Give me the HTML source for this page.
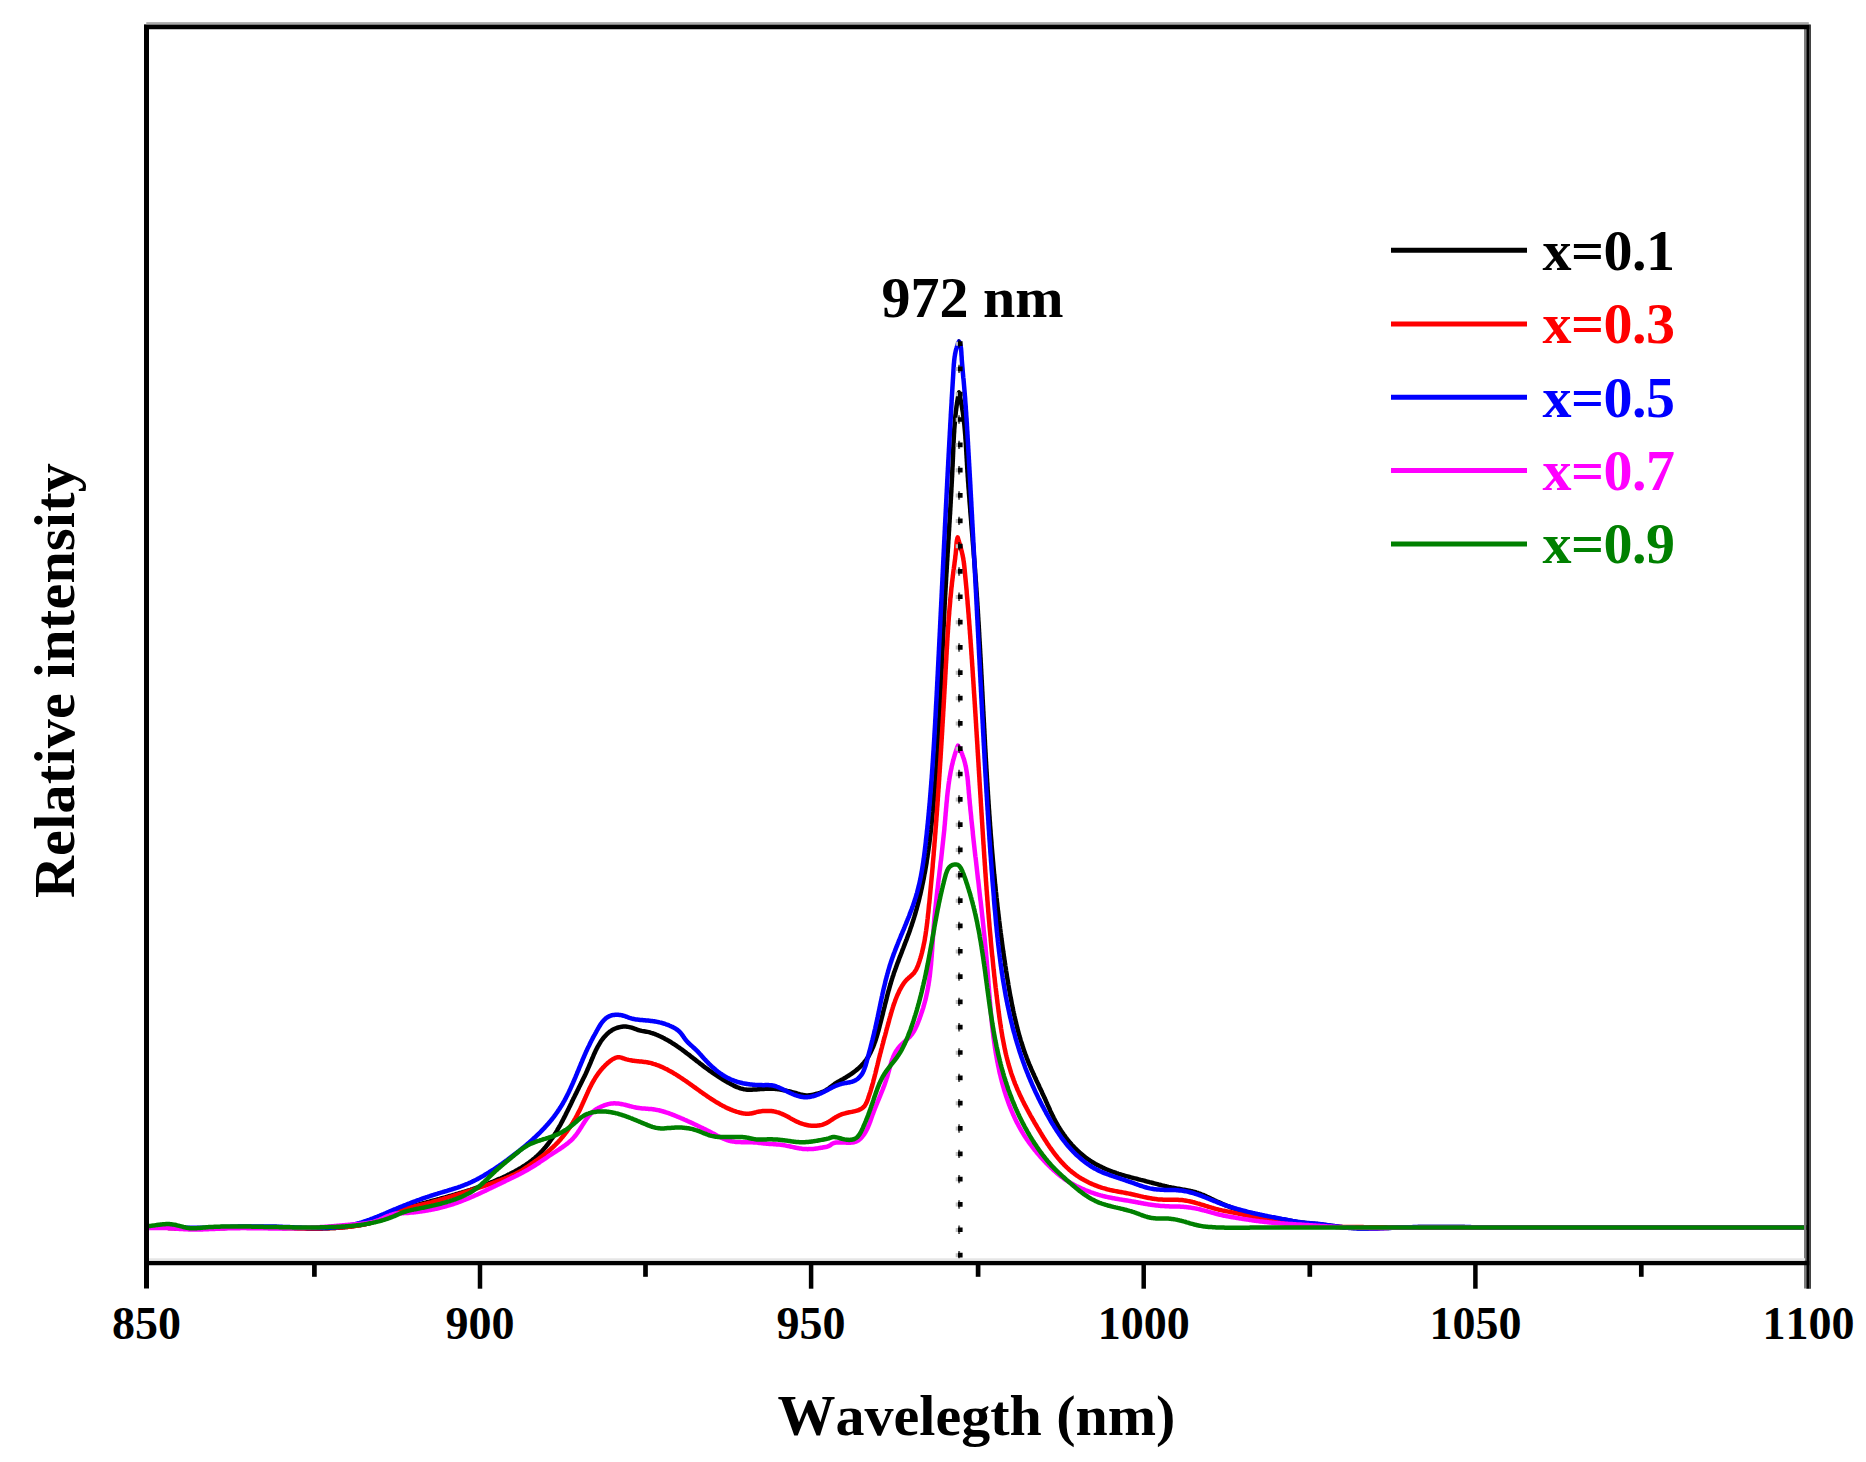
<!DOCTYPE html>
<html lang="en"><head><meta charset="utf-8"><title>Emission spectra</title>
<style>html,body{margin:0;padding:0;background:#fff}body{width:1866px;height:1462px;overflow:hidden}svg{display:block}text{font-family:"Liberation Serif","Times New Roman",serif;font-weight:bold;font-kerning:none}</style></head><body>
<svg width="1866" height="1462" viewBox="0 0 1866 1462">
<rect width="1866" height="1462" fill="#fff"/>
<defs><clipPath id="plot"><rect x="147" y="29" width="1660" height="1232"/></clipPath></defs>
<g clip-path="url(#plot)" fill="none" stroke-width="4.5" stroke-linejoin="round" stroke-linecap="butt">
<path stroke="#000" d="M80.0 1227.7 L81.2 1227.8 L82.4 1227.8 L83.6 1227.8 L84.7 1227.9 L85.9 1227.9 L87.1 1227.9 L88.3 1227.9 L89.5 1227.9 L90.7 1228.0 L91.9 1228.0 L93.1 1228.0 L94.2 1228.0 L95.4 1228.0 L96.6 1228.0 L97.8 1228.0 L99.0 1228.0 L100.2 1228.0 L101.4 1228.0 L102.6 1228.0 L103.7 1228.0 L104.9 1228.0 L106.1 1228.0 L107.3 1228.0 L108.5 1227.9 L109.7 1227.9 L110.9 1227.9 L112.0 1227.9 L113.2 1227.9 L114.4 1227.9 L115.6 1227.8 L116.8 1227.8 L118.0 1227.8 L119.2 1227.8 L120.4 1227.8 L121.5 1227.7 L122.7 1227.7 L123.9 1227.7 L125.1 1227.7 L126.3 1227.7 L127.5 1227.6 L128.7 1227.6 L129.9 1227.6 L131.0 1227.6 L132.2 1227.6 L133.4 1227.6 L134.6 1227.5 L135.8 1227.5 L137.0 1227.5 L138.2 1227.5 L139.4 1227.5 L140.5 1227.5 L141.7 1227.5 L142.9 1227.5 L144.1 1227.5 L145.3 1227.5 L146.5 1227.5 L147.7 1227.5 L148.9 1227.5 L150.0 1227.5 L151.2 1227.5 L152.4 1227.5 L153.6 1227.5 L154.8 1227.5 L156.0 1227.5 L157.2 1227.5 L158.3 1227.6 L159.5 1227.6 L160.7 1227.6 L161.9 1227.6 L163.1 1227.7 L164.3 1227.7 L165.5 1227.8 L166.6 1227.8 L167.8 1227.8 L169.0 1227.9 L170.2 1227.9 L171.4 1228.0 L172.6 1228.1 L173.8 1228.1 L174.9 1228.2 L176.1 1228.2 L177.3 1228.3 L178.5 1228.3 L179.7 1228.4 L180.9 1228.4 L182.1 1228.5 L183.2 1228.5 L184.4 1228.5 L185.6 1228.6 L186.8 1228.6 L188.0 1228.6 L189.2 1228.7 L190.4 1228.7 L191.5 1228.7 L192.7 1228.7 L193.9 1228.7 L195.1 1228.7 L196.3 1228.7 L197.5 1228.7 L198.7 1228.7 L199.8 1228.6 L201.0 1228.6 L202.2 1228.6 L203.4 1228.6 L204.6 1228.5 L205.8 1228.5 L207.0 1228.5 L208.1 1228.4 L209.3 1228.4 L210.5 1228.4 L211.7 1228.3 L212.9 1228.3 L214.1 1228.2 L215.3 1228.2 L216.5 1228.1 L217.6 1228.1 L218.8 1228.1 L220.0 1228.0 L221.2 1228.0 L222.4 1227.9 L223.6 1227.9 L224.8 1227.9 L225.9 1227.8 L227.1 1227.8 L228.3 1227.8 L229.5 1227.7 L230.7 1227.7 L231.9 1227.7 L233.1 1227.6 L234.3 1227.6 L235.4 1227.6 L236.6 1227.6 L237.8 1227.6 L239.0 1227.5 L240.2 1227.5 L241.4 1227.5 L242.6 1227.5 L243.8 1227.5 L244.9 1227.5 L246.1 1227.5 L247.3 1227.5 L248.5 1227.5 L249.7 1227.5 L250.9 1227.5 L252.1 1227.5 L253.2 1227.5 L254.4 1227.5 L255.6 1227.5 L256.8 1227.5 L258.0 1227.5 L259.2 1227.5 L260.4 1227.5 L261.6 1227.5 L262.7 1227.5 L263.9 1227.5 L265.1 1227.5 L266.3 1227.6 L267.5 1227.6 L268.7 1227.6 L269.9 1227.6 L271.1 1227.6 L272.2 1227.6 L273.4 1227.7 L274.6 1227.7 L275.8 1227.7 L277.0 1227.7 L278.2 1227.8 L279.4 1227.8 L280.6 1227.8 L281.7 1227.8 L282.9 1227.9 L284.1 1227.9 L285.3 1227.9 L286.5 1228.0 L287.7 1228.0 L288.9 1228.0 L290.1 1228.0 L291.2 1228.1 L292.4 1228.1 L293.6 1228.1 L294.8 1228.2 L296.0 1228.2 L297.2 1228.2 L298.4 1228.2 L299.6 1228.3 L300.7 1228.3 L301.9 1228.3 L303.1 1228.3 L304.3 1228.3 L305.5 1228.4 L306.7 1228.4 L307.9 1228.4 L309.1 1228.4 L310.2 1228.4 L311.4 1228.4 L312.6 1228.4 L313.8 1228.4 L315.0 1228.4 L316.2 1228.4 L317.4 1228.4 L318.6 1228.4 L319.7 1228.4 L320.9 1228.4 L322.1 1228.4 L323.3 1228.3 L324.5 1228.3 L325.7 1228.3 L326.9 1228.2 L328.0 1228.2 L329.2 1228.2 L330.4 1228.1 L331.6 1228.1 L332.8 1228.0 L334.0 1227.9 L335.1 1227.9 L336.3 1227.8 L337.5 1227.7 L338.7 1227.7 L339.9 1227.6 L341.1 1227.5 L342.2 1227.4 L343.4 1227.3 L344.6 1227.2 L345.8 1227.1 L347.0 1226.9 L348.2 1226.8 L349.3 1226.7 L350.5 1226.5 L351.7 1226.4 L352.9 1226.2 L354.1 1226.1 L355.2 1225.9 L356.4 1225.7 L357.6 1225.6 L358.8 1225.4 L360.0 1225.2 L361.1 1225.0 L362.3 1224.7 L363.5 1224.5 L364.6 1224.3 L365.8 1224.0 L367.0 1223.7 L368.1 1223.5 L369.3 1223.2 L370.4 1222.9 L371.5 1222.5 L372.7 1222.2 L373.8 1221.8 L374.9 1221.4 L376.0 1221.1 L377.2 1220.6 L378.3 1220.2 L379.4 1219.8 L380.5 1219.3 L381.5 1218.8 L382.6 1218.4 L383.7 1217.9 L384.8 1217.4 L385.9 1216.9 L386.9 1216.4 L388.0 1215.8 L389.1 1215.3 L390.2 1214.8 L391.2 1214.3 L392.3 1213.8 L393.4 1213.3 L394.5 1212.8 L395.5 1212.3 L396.6 1211.8 L397.7 1211.4 L398.8 1210.9 L399.9 1210.4 L401.0 1210.0 L402.1 1209.6 L403.2 1209.2 L404.3 1208.8 L405.4 1208.4 L406.6 1208.1 L407.7 1207.7 L408.8 1207.3 L409.9 1207.0 L411.1 1206.7 L412.2 1206.3 L413.3 1206.0 L414.5 1205.7 L415.6 1205.4 L416.8 1205.1 L417.9 1204.8 L419.1 1204.4 L420.2 1204.1 L421.3 1203.8 L422.5 1203.5 L423.6 1203.2 L424.8 1202.9 L425.9 1202.6 L427.1 1202.3 L428.2 1202.0 L429.4 1201.7 L430.5 1201.3 L431.7 1201.0 L432.8 1200.7 L433.9 1200.4 L435.1 1200.1 L436.2 1199.8 L437.4 1199.5 L438.5 1199.2 L439.7 1198.9 L440.8 1198.5 L442.0 1198.2 L443.1 1197.9 L444.3 1197.6 L445.4 1197.3 L446.6 1197.0 L447.7 1196.6 L448.9 1196.3 L450.0 1196.0 L451.1 1195.7 L452.3 1195.3 L453.4 1195.0 L454.6 1194.7 L455.7 1194.3 L456.9 1194.0 L458.0 1193.7 L459.1 1193.3 L460.3 1193.0 L461.4 1192.7 L462.5 1192.3 L463.7 1192.0 L464.8 1191.6 L466.0 1191.3 L467.1 1190.9 L468.2 1190.5 L469.3 1190.2 L470.5 1189.8 L471.6 1189.4 L472.7 1189.1 L473.9 1188.7 L475.0 1188.3 L476.1 1187.9 L477.2 1187.5 L478.3 1187.2 L479.5 1186.8 L480.6 1186.4 L481.7 1186.0 L482.8 1185.6 L483.9 1185.2 L485.0 1184.7 L486.1 1184.3 L487.3 1183.9 L488.4 1183.5 L489.5 1183.0 L490.6 1182.6 L491.7 1182.2 L492.8 1181.7 L493.9 1181.3 L495.0 1180.8 L496.0 1180.4 L497.1 1179.9 L498.2 1179.4 L499.3 1178.9 L500.4 1178.5 L501.5 1178.0 L502.6 1177.5 L503.6 1177.0 L504.7 1176.5 L505.8 1176.0 L506.8 1175.5 L507.9 1174.9 L509.0 1174.4 L510.0 1173.9 L511.1 1173.3 L512.2 1172.8 L513.2 1172.2 L514.3 1171.7 L515.3 1171.1 L516.3 1170.5 L517.4 1170.0 L518.4 1169.4 L519.4 1168.8 L520.5 1168.2 L521.5 1167.6 L522.5 1166.9 L523.5 1166.3 L524.5 1165.7 L525.5 1165.0 L526.5 1164.3 L527.5 1163.7 L528.4 1163.0 L529.4 1162.3 L530.3 1161.6 L531.3 1160.9 L532.2 1160.2 L533.1 1159.4 L534.0 1158.7 L535.0 1157.9 L535.8 1157.1 L536.7 1156.4 L537.6 1155.6 L538.4 1154.7 L539.3 1153.9 L540.1 1153.1 L541.0 1152.2 L541.8 1151.4 L542.6 1150.5 L543.4 1149.6 L544.1 1148.7 L544.9 1147.8 L545.7 1146.9 L546.4 1146.0 L547.2 1145.1 L547.9 1144.1 L548.6 1143.2 L549.3 1142.2 L550.0 1141.3 L550.7 1140.3 L551.4 1139.3 L552.1 1138.3 L552.8 1137.4 L553.4 1136.4 L554.1 1135.4 L554.7 1134.4 L555.4 1133.3 L556.0 1132.3 L556.6 1131.3 L557.2 1130.3 L557.8 1129.2 L558.4 1128.2 L559.0 1127.2 L559.6 1126.1 L560.2 1125.1 L560.8 1124.0 L561.3 1123.0 L561.9 1121.9 L562.4 1120.9 L563.0 1119.8 L563.5 1118.8 L564.1 1117.7 L564.6 1116.7 L565.2 1115.6 L565.7 1114.6 L566.2 1113.5 L566.7 1112.4 L567.3 1111.4 L567.8 1110.3 L568.3 1109.2 L568.8 1108.2 L569.3 1107.1 L569.9 1106.1 L570.4 1105.0 L570.9 1103.9 L571.4 1102.9 L571.9 1101.8 L572.4 1100.7 L572.9 1099.7 L573.4 1098.6 L574.0 1097.5 L574.5 1096.5 L575.0 1095.4 L575.5 1094.4 L576.1 1093.3 L576.6 1092.2 L577.1 1091.2 L577.6 1090.1 L578.2 1089.1 L578.7 1088.0 L579.2 1086.9 L579.8 1085.9 L580.3 1084.8 L580.8 1083.8 L581.3 1082.7 L581.9 1081.6 L582.4 1080.6 L582.9 1079.5 L583.4 1078.4 L583.9 1077.4 L584.5 1076.3 L585.0 1075.2 L585.5 1074.2 L586.0 1073.1 L586.5 1072.0 L587.0 1070.9 L587.5 1069.8 L587.9 1068.7 L588.4 1067.6 L588.9 1066.5 L589.4 1065.4 L589.8 1064.3 L590.3 1063.2 L590.8 1062.1 L591.2 1061.0 L591.7 1059.9 L592.1 1058.8 L592.6 1057.7 L593.1 1056.6 L593.5 1055.5 L594.0 1054.4 L594.5 1053.3 L595.0 1052.2 L595.5 1051.1 L596.0 1050.1 L596.5 1049.0 L597.1 1047.9 L597.6 1046.9 L598.2 1045.9 L598.8 1044.8 L599.4 1043.8 L600.0 1042.8 L600.6 1041.8 L601.3 1040.8 L602.0 1039.8 L602.7 1038.9 L603.4 1038.0 L604.2 1037.1 L605.0 1036.2 L605.8 1035.3 L606.6 1034.5 L607.4 1033.7 L608.3 1032.9 L609.2 1032.1 L610.2 1031.4 L611.1 1030.8 L612.1 1030.1 L613.1 1029.6 L614.2 1029.0 L615.3 1028.5 L616.4 1028.1 L617.5 1027.7 L618.3 1027.5 L619.1 1027.3 L619.8 1027.1 L620.6 1026.9 L621.4 1026.8 L622.2 1026.7 L623.1 1026.6 L623.9 1026.6 L624.7 1026.6 L625.9 1026.6 L627.0 1026.7 L628.2 1026.9 L629.3 1027.1 L630.5 1027.4 L631.6 1027.7 L632.7 1028.0 L633.8 1028.4 L634.9 1028.8 L636.0 1029.2 L637.1 1029.6 L638.3 1030.0 L639.4 1030.3 L640.5 1030.6 L641.7 1030.9 L642.8 1031.1 L644.0 1031.3 L645.2 1031.5 L646.4 1031.7 L647.5 1031.9 L648.7 1032.1 L649.8 1032.4 L651.0 1032.8 L652.1 1033.1 L653.3 1033.5 L654.4 1033.9 L655.5 1034.3 L656.6 1034.8 L657.7 1035.2 L658.8 1035.7 L659.9 1036.2 L661.0 1036.7 L662.0 1037.2 L663.1 1037.8 L664.1 1038.3 L665.2 1038.9 L666.2 1039.4 L667.2 1040.0 L668.3 1040.6 L669.3 1041.2 L670.3 1041.8 L671.3 1042.4 L672.3 1043.1 L673.3 1043.7 L674.3 1044.3 L675.3 1045.0 L676.3 1045.6 L677.2 1046.3 L678.2 1047.0 L679.2 1047.7 L680.2 1048.4 L681.1 1049.0 L682.1 1049.7 L683.0 1050.4 L684.0 1051.1 L684.9 1051.9 L685.9 1052.6 L686.8 1053.3 L687.8 1054.0 L688.7 1054.7 L689.7 1055.4 L690.6 1056.2 L691.5 1056.9 L692.5 1057.6 L693.4 1058.4 L694.4 1059.1 L695.3 1059.8 L696.2 1060.6 L697.2 1061.3 L698.1 1062.0 L699.1 1062.7 L700.0 1063.5 L700.9 1064.2 L701.9 1064.9 L702.8 1065.6 L703.8 1066.4 L704.7 1067.1 L705.7 1067.8 L706.6 1068.5 L707.6 1069.2 L708.6 1069.9 L709.5 1070.6 L710.5 1071.3 L711.5 1071.9 L712.4 1072.6 L713.4 1073.3 L714.4 1074.0 L715.4 1074.6 L716.3 1075.3 L717.3 1075.9 L718.3 1076.6 L719.3 1077.2 L720.3 1077.9 L721.3 1078.5 L722.3 1079.1 L723.3 1079.8 L724.4 1080.4 L725.4 1081.0 L726.4 1081.6 L727.4 1082.2 L728.5 1082.8 L729.5 1083.3 L730.6 1083.9 L731.6 1084.5 L732.7 1085.0 L733.7 1085.6 L734.8 1086.1 L735.9 1086.6 L737.0 1087.1 L738.1 1087.5 L739.2 1087.9 L740.3 1088.3 L741.4 1088.6 L742.5 1088.9 L743.6 1089.2 L744.8 1089.4 L746.0 1089.6 L747.1 1089.7 L748.3 1089.7 L749.5 1089.8 L750.7 1089.7 L751.9 1089.7 L753.1 1089.6 L754.3 1089.6 L755.5 1089.5 L756.7 1089.4 L757.9 1089.3 L759.1 1089.2 L760.3 1089.1 L761.5 1089.1 L762.6 1089.0 L763.8 1088.9 L765.0 1088.8 L766.2 1088.8 L767.4 1088.7 L768.6 1088.7 L769.7 1088.7 L770.9 1088.7 L772.1 1088.7 L773.3 1088.8 L774.4 1088.8 L775.6 1088.9 L776.8 1089.1 L778.0 1089.2 L779.1 1089.4 L780.3 1089.6 L781.5 1089.8 L782.7 1090.0 L783.8 1090.2 L785.0 1090.4 L786.1 1090.7 L787.3 1091.0 L788.5 1091.2 L789.6 1091.5 L790.8 1091.8 L792.0 1092.1 L793.1 1092.4 L794.3 1092.7 L795.4 1093.0 L796.6 1093.3 L797.7 1093.7 L798.9 1094.0 L800.0 1094.3 L801.2 1094.6 L802.3 1094.8 L803.4 1095.1 L804.6 1095.2 L805.8 1095.4 L806.9 1095.4 L808.1 1095.4 L809.2 1095.3 L810.4 1095.2 L811.6 1095.0 L812.8 1094.8 L813.6 1094.6 L814.3 1094.4 L815.1 1094.2 L815.9 1094.0 L816.7 1093.8 L817.5 1093.6 L818.3 1093.4 L819.0 1093.1 L819.8 1092.9 L820.6 1092.6 L821.3 1092.3 L822.4 1091.9 L823.5 1091.5 L824.6 1090.9 L825.6 1090.4 L826.6 1089.8 L827.6 1089.2 L828.6 1088.5 L829.5 1087.8 L830.4 1087.1 L831.4 1086.4 L832.3 1085.7 L833.2 1085.0 L834.2 1084.3 L835.1 1083.6 L836.1 1083.0 L837.1 1082.4 L838.1 1081.8 L839.2 1081.2 L840.2 1080.6 L841.2 1080.0 L842.3 1079.4 L843.3 1078.9 L844.3 1078.3 L845.4 1077.7 L846.4 1077.0 L847.4 1076.4 L848.4 1075.8 L849.4 1075.1 L850.4 1074.5 L851.4 1073.8 L852.4 1073.1 L853.4 1072.4 L854.3 1071.7 L855.3 1071.0 L856.2 1070.3 L857.1 1069.5 L858.0 1068.7 L858.9 1068.0 L859.7 1067.2 L860.6 1066.4 L861.4 1065.5 L862.2 1064.7 L863.0 1063.8 L863.8 1062.9 L864.5 1062.0 L865.2 1061.1 L865.9 1060.2 L866.6 1059.2 L867.2 1058.2 L867.9 1057.3 L868.5 1056.3 L869.1 1055.2 L869.6 1054.2 L870.2 1053.2 L870.7 1052.1 L871.2 1051.0 L871.7 1050.0 L872.2 1048.9 L872.7 1047.8 L873.2 1046.7 L873.5 1045.9 L873.8 1045.2 L874.1 1044.4 L874.3 1043.7 L874.6 1042.9 L874.9 1042.2 L875.2 1041.4 L875.4 1040.6 L875.7 1039.9 L875.9 1039.1 L876.2 1038.3 L876.4 1037.5 L876.7 1036.8 L876.9 1036.0 L877.1 1035.2 L877.4 1034.4 L877.6 1033.6 L877.8 1032.9 L878.0 1032.1 L878.3 1031.3 L878.5 1030.5 L878.7 1029.7 L878.9 1028.9 L879.1 1028.2 L879.3 1027.4 L879.5 1026.6 L879.7 1025.8 L879.9 1025.0 L880.1 1024.3 L880.3 1023.5 L880.5 1022.7 L880.7 1021.9 L880.9 1021.1 L881.1 1020.4 L881.4 1019.2 L881.7 1018.0 L882.0 1016.9 L882.3 1015.7 L882.6 1014.6 L882.9 1013.4 L883.1 1012.3 L883.4 1011.1 L883.7 1010.0 L884.0 1008.8 L884.3 1007.7 L884.6 1006.5 L884.8 1005.4 L885.1 1004.2 L885.4 1003.1 L885.7 1001.9 L886.0 1000.8 L886.3 999.7 L886.6 998.5 L886.8 997.4 L887.1 996.3 L887.4 995.1 L887.7 994.0 L888.0 992.9 L888.3 991.7 L888.6 990.6 L889.0 989.5 L889.3 988.3 L889.6 987.2 L889.9 986.1 L890.2 985.0 L890.6 983.8 L890.9 982.7 L891.2 981.6 L891.6 980.5 L891.9 979.3 L892.3 978.2 L892.6 977.1 L893.0 976.0 L893.4 974.9 L893.7 973.7 L894.1 972.6 L894.5 971.5 L894.9 970.4 L895.3 969.3 L895.7 968.2 L896.1 967.0 L896.5 965.9 L896.9 964.8 L897.3 963.7 L897.7 962.6 L898.2 961.5 L898.6 960.3 L899.0 959.2 L899.4 958.1 L899.8 957.0 L900.3 955.9 L900.7 954.8 L901.1 953.7 L901.6 952.6 L902.0 951.4 L902.4 950.3 L902.8 949.2 L903.3 948.1 L903.7 947.0 L904.1 945.9 L904.6 944.7 L905.0 943.6 L905.4 942.5 L905.8 941.4 L906.3 940.3 L906.7 939.2 L907.1 938.0 L907.5 936.9 L907.9 935.8 L908.3 934.7 L908.8 933.6 L909.2 932.4 L909.6 931.3 L910.0 930.2 L910.3 929.1 L910.7 927.9 L911.1 926.8 L911.5 925.7 L911.9 924.5 L912.2 923.4 L912.6 922.3 L913.0 921.2 L913.3 920.0 L913.7 918.9 L914.0 917.8 L914.4 916.6 L914.7 915.5 L915.1 914.3 L915.4 913.2 L915.7 912.1 L916.0 910.9 L916.4 909.8 L916.7 908.6 L917.0 907.5 L917.3 906.4 L917.6 905.2 L917.9 904.1 L918.2 902.9 L918.5 901.8 L918.8 900.6 L919.1 899.5 L919.4 898.3 L919.6 897.2 L919.9 896.0 L920.2 894.9 L920.5 893.7 L920.7 892.6 L921.0 891.4 L921.2 890.3 L921.5 889.1 L921.8 888.0 L922.0 886.8 L922.2 885.6 L922.5 884.5 L922.7 883.3 L923.0 882.2 L923.2 881.0 L923.4 879.9 L923.7 878.7 L923.9 877.5 L924.1 876.4 L924.3 875.2 L924.5 874.0 L924.8 872.9 L925.0 871.7 L925.2 870.6 L925.4 869.4 L925.6 868.2 L925.8 867.1 L926.0 865.9 L926.2 864.7 L926.4 863.6 L926.6 862.4 L926.7 861.2 L926.9 860.0 L927.1 858.9 L927.3 857.7 L927.5 856.5 L927.6 855.4 L927.8 854.2 L928.0 853.0 L928.1 851.9 L928.3 850.7 L928.5 849.5 L928.6 848.3 L928.8 847.2 L929.0 846.0 L929.1 844.8 L929.3 843.6 L929.4 842.5 L929.6 841.3 L929.7 840.1 L929.9 838.9 L930.0 837.8 L930.1 836.6 L930.3 835.4 L930.4 834.2 L930.6 833.0 L930.7 831.9 L930.8 830.7 L931.0 829.5 L931.1 828.3 L931.2 827.1 L931.3 826.0 L931.5 824.8 L931.6 823.6 L931.7 822.4 L931.8 821.2 L932.0 820.1 L932.1 818.9 L932.2 817.7 L932.3 816.5 L932.4 815.3 L932.5 814.2 L932.6 813.0 L932.8 811.8 L932.9 810.6 L933.0 809.4 L933.1 808.3 L933.2 807.1 L933.3 805.9 L933.4 804.7 L933.5 803.5 L933.6 802.3 L933.7 801.2 L933.8 800.0 L933.9 798.8 L934.0 797.6 L934.1 796.4 L934.2 795.2 L934.3 794.1 L934.4 792.9 L934.5 791.7 L934.6 790.5 L934.7 789.3 L934.8 788.1 L934.9 787.0 L935.0 785.8 L935.1 784.6 L935.2 783.4 L935.3 782.2 L935.4 781.0 L935.5 779.9 L935.5 778.7 L935.6 777.5 L935.7 776.3 L935.8 775.1 L935.9 773.9 L936.0 772.8 L936.1 771.6 L936.1 770.4 L936.2 769.2 L936.3 768.0 L936.4 766.8 L936.5 765.7 L936.6 764.5 L936.6 763.3 L936.7 762.1 L936.8 760.9 L936.9 759.7 L937.0 758.5 L937.0 757.4 L937.1 756.2 L937.2 755.0 L937.3 753.8 L937.3 752.6 L937.4 751.4 L937.5 750.2 L937.6 749.1 L937.6 747.9 L937.7 746.7 L937.8 745.5 L937.8 744.3 L937.9 743.1 L938.0 742.0 L938.1 740.8 L938.1 739.6 L938.2 738.4 L938.3 737.2 L938.3 736.0 L938.4 734.8 L938.5 733.7 L938.5 732.5 L938.6 731.3 L938.7 730.1 L938.7 728.9 L938.8 727.7 L938.9 726.5 L938.9 725.4 L939.0 724.2 L939.1 723.0 L939.1 721.8 L939.2 720.6 L939.2 719.4 L939.3 718.2 L939.4 717.0 L939.4 715.9 L939.5 714.7 L939.6 713.5 L939.6 712.3 L939.7 711.1 L939.7 709.9 L939.8 708.7 L939.9 707.6 L939.9 706.4 L940.0 705.2 L940.0 704.0 L940.1 702.8 L940.1 701.6 L940.2 700.4 L940.3 699.3 L940.3 698.1 L940.4 696.9 L940.4 695.7 L940.5 694.5 L940.5 693.3 L940.6 692.1 L940.7 690.9 L940.7 689.8 L940.8 688.6 L940.8 687.4 L940.9 686.2 L940.9 685.0 L941.0 683.8 L941.0 682.6 L941.1 681.5 L941.2 680.3 L941.2 679.1 L941.3 677.9 L941.3 676.7 L941.4 675.5 L941.4 674.3 L941.5 673.2 L941.5 672.0 L941.6 670.8 L941.6 669.6 L941.7 668.4 L941.8 667.2 L941.8 666.0 L941.9 664.8 L941.9 663.7 L942.0 662.5 L942.0 661.3 L942.1 660.1 L942.1 658.9 L942.2 657.7 L942.2 656.5 L942.3 655.4 L942.3 654.2 L942.4 653.0 L942.4 651.8 L942.5 650.6 L942.6 649.4 L942.6 648.2 L942.7 647.0 L942.7 645.9 L942.8 644.7 L942.8 643.5 L942.9 642.3 L942.9 641.1 L943.0 639.9 L943.0 638.7 L943.1 637.6 L943.2 636.4 L943.2 635.2 L943.3 634.0 L943.3 632.8 L943.4 631.6 L943.4 630.4 L943.5 629.3 L943.5 628.1 L943.6 626.9 L943.7 625.7 L943.7 624.5 L943.8 623.3 L943.8 622.1 L943.9 621.0 L943.9 619.8 L944.0 618.6 L944.1 617.4 L944.1 616.2 L944.2 615.0 L944.2 613.8 L944.3 612.7 L944.3 611.5 L944.4 610.3 L944.5 609.1 L944.5 607.9 L944.6 606.7 L944.6 605.5 L944.7 604.4 L944.8 603.2 L944.8 602.0 L944.9 600.8 L945.0 599.6 L945.0 598.4 L945.1 597.2 L945.1 596.1 L945.2 594.9 L945.3 593.7 L945.3 592.5 L945.4 591.3 L945.5 590.1 L945.5 589.0 L945.6 587.8 L945.7 586.6 L945.7 585.4 L945.8 584.2 L945.9 583.0 L945.9 581.8 L946.0 580.7 L946.1 579.5 L946.1 578.3 L946.2 577.1 L946.3 575.9 L946.3 574.7 L946.4 573.6 L946.5 572.4 L946.6 571.2 L946.6 570.0 L946.7 568.8 L946.8 567.6 L946.8 566.4 L946.9 565.3 L947.0 564.1 L947.0 562.9 L947.1 561.7 L947.2 560.5 L947.3 559.3 L947.3 558.2 L947.4 557.0 L947.5 555.8 L947.5 554.6 L947.6 553.4 L947.7 552.2 L947.8 551.1 L947.8 549.9 L947.9 548.7 L948.0 547.5 L948.1 546.3 L948.1 545.1 L948.2 544.0 L948.3 542.8 L948.3 541.6 L948.4 540.4 L948.5 539.2 L948.6 538.0 L948.6 536.8 L948.7 535.7 L948.8 534.5 L948.8 533.3 L948.9 532.1 L949.0 530.9 L949.1 529.7 L949.1 528.6 L949.2 527.4 L949.3 526.2 L949.3 525.0 L949.4 523.8 L949.5 522.6 L949.6 521.5 L949.6 520.3 L949.7 519.1 L949.8 517.9 L949.8 516.7 L949.9 515.5 L950.0 514.3 L950.1 513.2 L950.1 512.0 L950.2 510.8 L950.3 509.6 L950.3 508.4 L950.4 507.2 L950.5 506.1 L950.5 504.9 L950.6 503.7 L950.7 502.5 L950.7 501.3 L950.8 500.1 L950.9 498.9 L950.9 497.8 L951.0 496.6 L951.1 495.4 L951.1 494.2 L951.2 493.0 L951.3 491.8 L951.3 490.6 L951.4 489.5 L951.4 488.3 L951.5 487.1 L951.6 485.9 L951.6 484.7 L951.7 483.5 L951.8 482.3 L951.8 481.2 L951.9 480.0 L951.9 478.8 L952.0 477.6 L952.1 476.4 L952.1 475.2 L952.2 474.0 L952.2 472.9 L952.3 471.7 L952.3 470.5 L952.4 469.3 L952.4 468.1 L952.5 466.9 L952.6 465.7 L952.6 464.5 L952.7 463.4 L952.7 462.2 L952.8 461.0 L952.8 459.8 L952.9 458.6 L952.9 457.4 L953.0 456.2 L953.0 455.0 L953.1 453.9 L953.1 452.7 L953.2 451.5 L953.2 450.3 L953.3 449.1 L953.3 447.9 L953.4 446.7 L953.4 445.5 L953.5 444.4 L953.5 443.2 L953.6 442.0 L953.6 440.8 L953.7 439.6 L953.8 438.4 L953.8 437.2 L953.9 436.0 L953.9 434.9 L954.0 433.7 L954.1 432.5 L954.2 431.3 L954.2 430.1 L954.3 428.9 L954.4 427.8 L954.5 426.6 L954.6 425.4 L954.7 424.2 L954.8 423.0 L954.9 421.8 L955.0 420.7 L955.1 419.5 L955.2 418.3 L955.3 417.1 L955.4 415.9 L955.5 414.8 L955.7 413.6 L955.8 412.4 L955.9 411.2 L956.1 410.1 L956.2 408.9 L956.4 407.7 L956.5 406.5 L956.7 405.4 L956.9 404.2 L957.0 403.0 L957.2 401.8 L957.4 400.7 L957.6 399.5 L957.8 398.3 L958.0 397.2 L958.2 396.0 L958.4 394.8 L958.7 393.7 L958.9 392.5 L959.2 393.6 L959.5 394.7 L959.7 395.8 L960.0 397.0 L960.2 398.1 L960.5 399.2 L960.7 400.3 L960.9 401.4 L961.1 402.6 L961.4 403.7 L961.6 404.8 L961.8 405.9 L962.0 407.1 L962.2 408.2 L962.3 409.3 L962.5 410.5 L962.7 411.6 L962.9 412.7 L963.0 413.9 L963.2 415.0 L963.3 416.1 L963.5 417.3 L963.6 418.4 L963.8 419.5 L963.9 420.7 L964.0 421.8 L964.1 422.9 L964.3 424.1 L964.4 425.2 L964.5 426.4 L964.6 427.5 L964.7 428.6 L964.8 429.8 L964.9 430.9 L965.0 432.1 L965.1 433.2 L965.2 434.4 L965.3 435.5 L965.4 436.6 L965.4 437.8 L965.5 438.9 L965.6 440.1 L965.7 441.2 L965.8 442.4 L965.8 443.5 L965.9 444.7 L966.0 445.8 L966.0 447.0 L966.1 448.1 L966.2 449.2 L966.2 450.4 L966.3 451.5 L966.4 452.7 L966.4 453.8 L966.5 455.0 L966.6 456.1 L966.6 457.3 L966.7 458.4 L966.8 459.6 L966.8 460.7 L966.9 461.9 L967.0 463.0 L967.0 464.2 L967.1 465.3 L967.2 466.5 L967.2 467.6 L967.3 468.7 L967.4 469.9 L967.4 471.0 L967.5 472.2 L967.6 473.3 L967.7 474.5 L967.7 475.6 L967.8 476.8 L967.9 477.9 L968.0 479.1 L968.0 480.2 L968.1 481.4 L968.2 482.5 L968.3 483.6 L968.4 484.8 L968.4 485.9 L968.5 487.1 L968.6 488.2 L968.7 489.4 L968.8 490.5 L968.9 491.6 L968.9 492.8 L969.0 493.9 L969.1 495.1 L969.2 496.2 L969.3 497.4 L969.4 498.5 L969.5 499.7 L969.5 500.8 L969.6 501.9 L969.7 503.1 L969.8 504.2 L969.9 505.4 L970.0 506.5 L970.1 507.7 L970.2 508.8 L970.3 509.9 L970.3 511.1 L970.4 512.2 L970.5 513.4 L970.6 514.5 L970.7 515.6 L970.8 516.8 L970.9 517.9 L971.0 519.1 L971.1 520.2 L971.2 521.4 L971.3 522.5 L971.3 523.6 L971.4 524.8 L971.5 525.9 L971.6 527.1 L971.7 528.2 L971.8 529.4 L971.9 530.5 L972.0 531.6 L972.1 532.8 L972.2 533.9 L972.3 535.1 L972.4 536.2 L972.5 537.3 L972.6 538.5 L972.6 539.6 L972.7 540.8 L972.8 541.9 L972.9 543.1 L973.0 544.2 L973.1 545.3 L973.2 546.5 L973.3 547.6 L973.4 548.8 L973.5 549.9 L973.6 551.0 L973.7 552.2 L973.7 553.3 L973.8 554.5 L973.9 555.6 L974.0 556.8 L974.1 557.9 L974.2 559.0 L974.3 560.2 L974.4 561.3 L974.5 562.5 L974.5 563.6 L974.6 564.7 L974.7 565.9 L974.8 567.0 L974.9 568.2 L975.0 569.3 L975.1 570.5 L975.1 571.6 L975.2 572.7 L975.3 573.9 L975.4 575.0 L975.5 576.2 L975.6 577.3 L975.6 578.4 L975.7 579.6 L975.8 580.7 L975.9 581.9 L976.0 583.0 L976.1 584.2 L976.1 585.3 L976.2 586.4 L976.3 587.6 L976.4 588.7 L976.4 589.9 L976.5 591.0 L976.6 592.2 L976.7 593.3 L976.8 594.4 L976.8 595.6 L976.9 596.7 L977.0 597.9 L977.1 599.0 L977.1 600.2 L977.2 601.3 L977.3 602.5 L977.4 603.6 L977.4 604.7 L977.5 605.9 L977.6 607.0 L977.6 608.2 L977.7 609.3 L977.8 610.5 L977.9 611.6 L977.9 612.7 L978.0 613.9 L978.1 615.0 L978.1 616.2 L978.2 617.3 L978.3 618.5 L978.3 619.6 L978.4 620.8 L978.5 621.9 L978.6 623.0 L978.6 624.2 L978.7 625.3 L978.8 626.5 L978.8 627.6 L978.9 628.8 L979.0 629.9 L979.0 631.1 L979.1 632.2 L979.2 633.3 L979.2 634.5 L979.3 635.6 L979.3 636.8 L979.4 637.9 L979.5 639.1 L979.5 640.2 L979.6 641.4 L979.7 642.5 L979.7 643.6 L979.8 644.8 L979.9 645.9 L979.9 647.1 L980.0 648.2 L980.1 649.4 L980.1 650.5 L980.2 651.7 L980.2 652.8 L980.3 653.9 L980.4 655.1 L980.4 656.2 L980.5 657.4 L980.6 658.5 L980.6 659.7 L980.7 660.8 L980.7 662.0 L980.8 663.1 L980.9 664.2 L980.9 665.4 L981.0 666.5 L981.0 667.7 L981.1 668.8 L981.2 670.0 L981.2 671.1 L981.3 672.3 L981.3 673.4 L981.4 674.6 L981.5 675.7 L981.5 676.8 L981.6 678.0 L981.6 679.1 L981.7 680.3 L981.8 681.4 L981.8 682.6 L981.9 683.7 L981.9 684.9 L982.0 686.0 L982.1 687.2 L982.1 688.3 L982.2 689.4 L982.2 690.6 L982.3 691.7 L982.4 692.9 L982.4 694.0 L982.5 695.2 L982.5 696.3 L982.6 697.5 L982.6 698.6 L982.7 699.7 L982.8 700.9 L982.8 702.0 L982.9 703.2 L982.9 704.3 L983.0 705.5 L983.1 706.6 L983.1 707.8 L983.2 708.9 L983.2 710.1 L983.3 711.2 L983.4 712.3 L983.4 713.5 L983.5 714.6 L983.5 715.8 L983.6 716.9 L983.7 718.1 L983.7 719.2 L983.8 720.4 L983.8 721.5 L983.9 722.7 L984.0 723.8 L984.0 724.9 L984.1 726.1 L984.1 727.2 L984.2 728.4 L984.3 729.5 L984.3 730.7 L984.4 731.8 L984.4 733.0 L984.5 734.1 L984.6 735.3 L984.6 736.4 L984.7 737.5 L984.7 738.7 L984.8 739.8 L984.9 741.0 L984.9 742.1 L985.0 743.3 L985.0 744.4 L985.1 745.6 L985.2 746.7 L985.2 747.8 L985.3 749.0 L985.4 750.1 L985.4 751.3 L985.5 752.4 L985.6 753.6 L985.6 754.7 L985.7 755.9 L985.7 757.0 L985.8 758.2 L985.9 759.3 L985.9 760.4 L986.0 761.6 L986.1 762.7 L986.1 763.9 L986.2 765.0 L986.3 766.2 L986.3 767.3 L986.4 768.5 L986.5 769.6 L986.5 770.7 L986.6 771.9 L986.7 773.0 L986.7 774.2 L986.8 775.3 L986.9 776.5 L986.9 777.6 L987.0 778.8 L987.1 779.9 L987.1 781.0 L987.2 782.2 L987.3 783.3 L987.4 784.5 L987.4 785.6 L987.5 786.8 L987.6 787.9 L987.6 789.1 L987.7 790.2 L987.8 791.3 L987.9 792.5 L987.9 793.6 L988.0 794.8 L988.1 795.9 L988.2 797.1 L988.2 798.2 L988.3 799.3 L988.4 800.5 L988.5 801.6 L988.5 802.8 L988.6 803.9 L988.7 805.1 L988.8 806.2 L988.8 807.4 L988.9 808.5 L989.0 809.6 L989.1 810.8 L989.2 811.9 L989.2 813.1 L989.3 814.2 L989.4 815.4 L989.5 816.5 L989.6 817.6 L989.6 818.8 L989.7 819.9 L989.8 821.1 L989.9 822.2 L990.0 823.4 L990.0 824.5 L990.1 825.6 L990.2 826.8 L990.3 827.9 L990.4 829.1 L990.5 830.2 L990.6 831.4 L990.6 832.5 L990.7 833.6 L990.8 834.8 L990.9 835.9 L991.0 837.1 L991.1 838.2 L991.2 839.4 L991.3 840.5 L991.4 841.6 L991.5 842.8 L991.5 843.9 L991.6 845.1 L991.7 846.2 L991.8 847.4 L991.9 848.5 L992.0 849.6 L992.1 850.8 L992.2 851.9 L992.3 853.1 L992.4 854.2 L992.5 855.3 L992.6 856.5 L992.7 857.6 L992.8 858.8 L992.9 859.9 L993.0 861.1 L993.1 862.2 L993.2 863.3 L993.3 864.5 L993.4 865.6 L993.5 866.8 L993.6 867.9 L993.7 869.0 L993.8 870.2 L993.9 871.3 L994.0 872.5 L994.1 873.6 L994.2 874.7 L994.4 875.9 L994.5 877.0 L994.6 878.2 L994.7 879.3 L994.8 880.4 L994.9 881.6 L995.0 882.7 L995.1 883.9 L995.2 885.0 L995.4 886.1 L995.5 887.3 L995.6 888.4 L995.7 889.6 L995.8 890.7 L995.9 891.8 L996.1 893.0 L996.2 894.1 L996.3 895.3 L996.4 896.4 L996.5 897.5 L996.7 898.7 L996.8 899.8 L996.9 901.0 L997.0 902.1 L997.2 903.2 L997.3 904.4 L997.4 905.5 L997.5 906.7 L997.7 907.8 L997.8 908.9 L997.9 910.1 L998.1 911.2 L998.2 912.3 L998.3 913.5 L998.5 914.6 L998.6 915.8 L998.7 916.9 L998.9 918.0 L999.0 919.2 L999.1 920.3 L999.3 921.5 L999.4 922.6 L999.6 923.7 L999.7 924.9 L999.8 926.0 L1000.0 927.1 L1000.1 928.3 L1000.3 929.4 L1000.4 930.6 L1000.6 931.7 L1000.7 932.8 L1000.9 934.0 L1001.0 935.1 L1001.1 936.2 L1001.3 937.4 L1001.4 938.5 L1001.6 939.6 L1001.8 940.8 L1001.9 941.9 L1002.1 943.1 L1002.2 944.2 L1002.4 945.3 L1002.5 946.5 L1002.7 947.6 L1002.8 948.7 L1003.0 949.9 L1003.2 951.0 L1003.3 952.1 L1003.5 953.3 L1003.7 954.4 L1003.8 955.6 L1004.0 956.7 L1004.2 957.8 L1004.3 959.0 L1004.5 960.1 L1004.7 961.2 L1004.8 962.4 L1005.0 963.5 L1005.2 964.6 L1005.3 965.8 L1005.5 966.9 L1005.7 968.0 L1005.9 969.2 L1006.0 970.3 L1006.2 971.4 L1006.4 972.6 L1006.6 973.7 L1006.8 974.8 L1006.9 976.0 L1007.1 977.1 L1007.3 978.2 L1007.5 979.4 L1007.7 980.5 L1007.9 981.6 L1008.1 982.8 L1008.3 983.9 L1008.4 985.0 L1008.6 986.2 L1008.8 987.3 L1009.0 988.4 L1009.2 989.6 L1009.4 990.7 L1009.6 991.8 L1009.8 993.0 L1010.0 994.1 L1010.2 995.2 L1010.4 996.4 L1010.7 997.5 L1010.9 998.6 L1011.1 999.7 L1011.3 1000.9 L1011.5 1002.0 L1011.7 1003.1 L1011.9 1004.3 L1012.2 1005.4 L1012.4 1006.5 L1012.6 1007.6 L1012.9 1008.8 L1013.1 1009.9 L1013.3 1011.0 L1013.6 1012.1 L1013.8 1013.2 L1014.1 1014.4 L1014.3 1015.5 L1014.6 1016.6 L1014.8 1017.7 L1015.1 1018.8 L1015.3 1020.0 L1015.6 1021.1 L1015.9 1022.2 L1016.1 1023.3 L1016.4 1024.4 L1016.7 1025.5 L1017.0 1026.6 L1017.2 1027.7 L1017.5 1028.8 L1017.8 1029.9 L1018.1 1031.1 L1018.4 1032.2 L1018.7 1033.3 L1019.0 1034.4 L1019.3 1035.5 L1019.6 1036.6 L1020.0 1037.7 L1020.3 1038.8 L1020.6 1039.9 L1020.9 1040.9 L1021.3 1042.0 L1021.6 1043.1 L1022.0 1044.2 L1022.3 1045.3 L1022.7 1046.4 L1023.0 1047.5 L1023.4 1048.6 L1023.7 1049.7 L1024.1 1050.7 L1024.5 1051.8 L1024.9 1052.9 L1025.3 1054.0 L1025.7 1055.0 L1026.1 1056.1 L1026.5 1057.2 L1026.9 1058.3 L1027.3 1059.3 L1027.7 1060.4 L1028.1 1061.4 L1028.5 1062.5 L1029.0 1063.6 L1029.4 1064.6 L1029.9 1065.7 L1030.3 1066.7 L1030.8 1067.8 L1031.2 1068.9 L1031.7 1069.9 L1032.1 1071.0 L1032.6 1072.0 L1033.1 1073.1 L1033.5 1074.1 L1034.0 1075.1 L1034.5 1076.2 L1035.0 1077.2 L1035.4 1078.3 L1035.9 1079.3 L1036.4 1080.4 L1036.9 1081.4 L1037.4 1082.5 L1037.9 1083.5 L1038.4 1084.5 L1038.8 1085.6 L1039.3 1086.6 L1039.8 1087.7 L1040.3 1088.7 L1040.8 1089.7 L1041.3 1090.8 L1041.8 1091.8 L1042.2 1092.9 L1042.7 1093.9 L1043.2 1095.0 L1043.7 1096.0 L1044.1 1097.0 L1044.6 1098.1 L1045.1 1099.1 L1045.6 1100.2 L1046.0 1101.2 L1046.5 1102.3 L1047.0 1103.3 L1047.4 1104.4 L1047.9 1105.4 L1048.4 1106.5 L1048.8 1107.5 L1049.3 1108.6 L1049.8 1109.6 L1050.2 1110.6 L1050.7 1111.7 L1051.2 1112.7 L1051.7 1113.7 L1052.2 1114.8 L1052.7 1115.8 L1053.2 1116.8 L1053.7 1117.9 L1054.2 1118.9 L1054.8 1119.9 L1055.3 1120.9 L1055.8 1121.9 L1056.4 1122.9 L1057.0 1123.9 L1057.5 1124.9 L1058.1 1125.9 L1058.7 1126.9 L1059.3 1127.8 L1059.9 1128.8 L1060.5 1129.8 L1061.1 1130.7 L1061.8 1131.7 L1062.4 1132.6 L1063.1 1133.6 L1063.7 1134.5 L1064.4 1135.5 L1065.1 1136.4 L1065.7 1137.3 L1066.4 1138.2 L1067.1 1139.1 L1067.8 1140.0 L1068.6 1140.9 L1069.3 1141.8 L1070.0 1142.7 L1070.8 1143.5 L1071.5 1144.4 L1072.3 1145.3 L1073.1 1146.1 L1073.9 1146.9 L1074.7 1147.8 L1075.5 1148.6 L1076.3 1149.4 L1077.1 1150.2 L1078.0 1151.0 L1078.8 1151.8 L1079.7 1152.6 L1080.5 1153.3 L1081.4 1154.1 L1082.3 1154.8 L1083.2 1155.6 L1084.1 1156.3 L1085.0 1157.0 L1085.9 1157.7 L1086.8 1158.4 L1087.8 1159.1 L1088.7 1159.7 L1089.7 1160.4 L1090.6 1161.0 L1091.6 1161.6 L1092.6 1162.2 L1093.5 1162.8 L1094.5 1163.4 L1095.5 1164.0 L1096.5 1164.5 L1097.5 1165.1 L1098.5 1165.6 L1099.5 1166.1 L1100.6 1166.6 L1101.6 1167.1 L1102.6 1167.6 L1103.7 1168.1 L1104.7 1168.6 L1105.8 1169.0 L1106.8 1169.5 L1107.9 1169.9 L1108.9 1170.3 L1110.0 1170.7 L1111.1 1171.2 L1112.1 1171.6 L1113.2 1171.9 L1114.3 1172.3 L1115.4 1172.7 L1116.5 1173.1 L1117.5 1173.4 L1118.6 1173.8 L1119.7 1174.1 L1120.8 1174.5 L1121.9 1174.8 L1123.0 1175.1 L1124.1 1175.5 L1125.2 1175.8 L1126.3 1176.1 L1127.4 1176.4 L1128.5 1176.7 L1129.7 1177.0 L1130.8 1177.3 L1131.9 1177.6 L1133.0 1177.9 L1134.1 1178.2 L1135.2 1178.4 L1136.3 1178.7 L1137.4 1179.0 L1138.5 1179.3 L1139.7 1179.6 L1140.8 1179.9 L1141.9 1180.1 L1143.0 1180.4 L1144.1 1180.7 L1145.2 1181.0 L1146.3 1181.3 L1147.4 1181.6 L1148.5 1181.9 L1149.6 1182.2 L1150.7 1182.4 L1151.9 1182.7 L1153.0 1183.0 L1154.1 1183.3 L1155.2 1183.6 L1156.3 1183.9 L1157.4 1184.2 L1158.5 1184.5 L1159.6 1184.7 L1160.7 1185.0 L1161.8 1185.3 L1162.9 1185.6 L1164.1 1185.8 L1165.2 1186.1 L1166.3 1186.3 L1167.4 1186.6 L1168.5 1186.9 L1169.6 1187.1 L1170.8 1187.3 L1171.9 1187.6 L1173.0 1187.8 L1174.1 1188.0 L1175.3 1188.2 L1176.4 1188.4 L1177.5 1188.6 L1178.7 1188.8 L1179.8 1189.0 L1180.9 1189.2 L1182.1 1189.4 L1183.2 1189.6 L1184.3 1189.8 L1185.5 1190.0 L1186.6 1190.2 L1187.7 1190.4 L1188.9 1190.6 L1190.0 1190.8 L1191.1 1191.1 L1192.2 1191.3 L1193.3 1191.6 L1194.4 1191.9 L1195.5 1192.2 L1196.6 1192.6 L1197.7 1192.9 L1198.7 1193.3 L1199.8 1193.7 L1200.9 1194.1 L1201.9 1194.5 L1203.0 1194.9 L1204.1 1195.4 L1205.1 1195.8 L1206.1 1196.3 L1207.2 1196.8 L1208.2 1197.2 L1209.3 1197.7 L1210.3 1198.2 L1211.3 1198.7 L1212.4 1199.2 L1213.4 1199.7 L1214.4 1200.2 L1215.5 1200.7 L1216.5 1201.2 L1217.6 1201.7 L1218.6 1202.2 L1219.6 1202.6 L1220.7 1203.1 L1221.7 1203.6 L1222.8 1204.0 L1223.8 1204.5 L1224.9 1204.9 L1226.0 1205.4 L1227.0 1205.8 L1228.1 1206.2 L1229.1 1206.6 L1230.2 1207.1 L1231.3 1207.5 L1232.4 1207.8 L1233.4 1208.2 L1234.5 1208.6 L1235.6 1209.0 L1236.7 1209.3 L1237.8 1209.7 L1238.9 1210.0 L1240.0 1210.4 L1241.1 1210.7 L1242.2 1211.0 L1243.3 1211.3 L1244.4 1211.6 L1245.5 1211.9 L1246.6 1212.2 L1247.7 1212.5 L1248.8 1212.8 L1249.9 1213.1 L1251.0 1213.3 L1252.1 1213.6 L1253.2 1213.9 L1254.4 1214.1 L1255.5 1214.4 L1256.6 1214.6 L1257.7 1214.9 L1258.9 1215.1 L1260.0 1215.3 L1261.1 1215.6 L1262.2 1215.8 L1263.4 1216.0 L1264.5 1216.2 L1265.6 1216.4 L1266.7 1216.6 L1267.9 1216.9 L1269.0 1217.1 L1270.1 1217.3 L1271.3 1217.5 L1272.4 1217.7 L1273.5 1217.9 L1274.7 1218.1 L1275.8 1218.3 L1276.9 1218.5 L1278.1 1218.7 L1279.2 1218.9 L1280.3 1219.0 L1281.5 1219.2 L1282.6 1219.4 L1283.7 1219.6 L1284.8 1219.8 L1286.0 1220.0 L1287.1 1220.2 L1288.2 1220.4 L1289.4 1220.6 L1290.5 1220.8 L1291.6 1221.0 L1292.7 1221.2 L1293.9 1221.4 L1295.0 1221.6 L1296.1 1221.8 L1297.2 1221.9 L1298.4 1222.1 L1299.5 1222.3 L1300.6 1222.4 L1301.7 1222.6 L1302.9 1222.7 L1304.0 1222.8 L1305.1 1223.0 L1306.3 1223.1 L1307.4 1223.2 L1308.5 1223.3 L1309.7 1223.4 L1310.8 1223.5 L1312.0 1223.6 L1313.1 1223.7 L1314.2 1223.8 L1315.4 1223.9 L1316.5 1224.0 L1317.7 1224.1 L1318.8 1224.2 L1319.9 1224.4 L1321.1 1224.5 L1322.2 1224.6 L1323.4 1224.7 L1324.5 1224.9 L1325.6 1225.0 L1326.8 1225.2 L1327.9 1225.3 L1329.0 1225.5 L1330.2 1225.6 L1331.3 1225.8 L1332.5 1225.9 L1333.6 1226.1 L1334.7 1226.2 L1335.9 1226.4 L1337.0 1226.5 L1338.2 1226.6 L1339.3 1226.8 L1340.4 1226.9 L1341.6 1227.0 L1342.7 1227.2 L1343.8 1227.3 L1345.0 1227.4 L1346.1 1227.5 L1347.3 1227.6 L1348.4 1227.7 L1349.6 1227.8 L1350.7 1227.8 L1351.8 1227.9 L1353.0 1228.0 L1354.1 1228.0 L1355.3 1228.1 L1356.4 1228.1 L1357.6 1228.2 L1358.7 1228.2 L1359.8 1228.2 L1361.0 1228.3 L1362.1 1228.3 L1363.3 1228.3 L1364.4 1228.3 L1365.6 1228.3 L1366.7 1228.3 L1367.9 1228.3 L1369.0 1228.3 L1370.2 1228.3 L1371.3 1228.3 L1372.4 1228.3 L1373.6 1228.3 L1374.7 1228.3 L1375.9 1228.2 L1377.0 1228.2 L1378.2 1228.2 L1379.3 1228.2 L1380.5 1228.1 L1381.6 1228.1 L1382.8 1228.1 L1383.9 1228.0 L1385.1 1228.0 L1386.2 1228.0 L1387.4 1227.9 L1388.5 1227.9 L1389.7 1227.8 L1390.8 1227.8 L1392.0 1227.8 L1393.1 1227.7 L1394.3 1227.7 L1395.4 1227.7 L1396.6 1227.6 L1397.7 1227.6 L1398.9 1227.5 L1400.0 1227.5 L1401.1 1227.5 L1402.3 1227.5 L1403.4 1227.4 L1404.6 1227.4 L1405.7 1227.4 L1406.9 1227.3 L1408.0 1227.3 L1409.2 1227.3 L1410.3 1227.3 L1411.5 1227.2 L1412.6 1227.2 L1413.8 1227.2 L1414.9 1227.2 L1416.1 1227.2 L1417.2 1227.2 L1418.4 1227.1 L1419.5 1227.1 L1420.7 1227.1 L1421.8 1227.1 L1422.9 1227.1 L1424.1 1227.1 L1425.2 1227.1 L1426.4 1227.1 L1427.5 1227.0 L1428.7 1227.0 L1429.8 1227.0 L1431.0 1227.0 L1432.1 1227.0 L1433.3 1227.0 L1434.4 1227.0 L1435.6 1227.0 L1436.7 1227.0 L1437.9 1227.0 L1439.0 1227.0 L1440.1 1227.0 L1441.3 1227.0 L1442.4 1227.0 L1443.6 1227.0 L1444.7 1227.0 L1445.9 1227.0 L1447.0 1227.0 L1448.2 1227.0 L1449.3 1227.0 L1450.5 1227.0 L1451.6 1227.1 L1452.8 1227.1 L1453.9 1227.1 L1455.0 1227.1 L1456.2 1227.1 L1457.3 1227.1 L1458.5 1227.1 L1459.6 1227.1 L1460.8 1227.1 L1461.9 1227.1 L1463.1 1227.1 L1464.2 1227.1 L1465.4 1227.2 L1466.5 1227.2 L1467.7 1227.2 L1468.8 1227.2 L1469.9 1227.2 L1471.1 1227.2 L1472.2 1227.2 L1473.4 1227.2 L1474.5 1227.3 L1475.7 1227.3 L1476.8 1227.3 L1478.0 1227.3 L1479.1 1227.3 L1480.3 1227.3 L1481.4 1227.3 L1482.6 1227.3 L1483.7 1227.3 L1484.8 1227.4 L1486.0 1227.4 L1487.1 1227.4 L1488.3 1227.4 L1489.4 1227.4 L1490.6 1227.4 L1491.7 1227.4 L1492.9 1227.4 L1494.0 1227.4 L1495.2 1227.5 L1496.3 1227.5 L1497.4 1227.5 L1498.6 1227.5 L1499.7 1227.5 L1500.9 1227.5 L1502.0 1227.5 L1503.2 1227.5 L1504.3 1227.5 L1505.5 1227.5 L1506.6 1227.5 L1507.8 1227.5 L1508.9 1227.6 L1510.1 1227.6 L1511.2 1227.6 L1512.3 1227.6 L1513.5 1227.6 L1514.6 1227.6 L1515.8 1227.6 L1516.9 1227.6 L1518.1 1227.6 L1519.2 1227.6 L1520.4 1227.6 L1521.5 1227.6 L1522.7 1227.6 L1523.8 1227.6 L1525.0 1227.6 L1526.1 1227.6 L1527.2 1227.6 L1528.4 1227.6 L1529.5 1227.6 L1530.7 1227.6 L1531.8 1227.6 L1533.0 1227.6 L1534.1 1227.6 L1535.3 1227.6 L1536.4 1227.6 L1537.6 1227.6 L1538.7 1227.6 L1539.9 1227.6 L1541.0 1227.6 L1542.1 1227.6 L1543.3 1227.6 L1544.4 1227.6 L1545.6 1227.6 L1546.7 1227.6 L1547.9 1227.6 L1549.0 1227.6 L1550.2 1227.6 L1551.3 1227.6 L1552.5 1227.6 L1553.6 1227.6 L1554.8 1227.6 L1555.9 1227.6 L1557.1 1227.6 L1558.2 1227.6 L1559.3 1227.6 L1560.5 1227.6 L1561.6 1227.6 L1562.8 1227.6 L1563.9 1227.6 L1565.1 1227.6 L1566.2 1227.6 L1567.4 1227.6 L1568.5 1227.6 L1569.7 1227.6 L1570.8 1227.6 L1572.0 1227.6 L1573.1 1227.6 L1574.3 1227.6 L1575.4 1227.6 L1576.5 1227.6 L1577.7 1227.6 L1578.8 1227.6 L1580.0 1227.6 L1581.1 1227.6 L1582.3 1227.5 L1583.4 1227.5 L1584.6 1227.5 L1585.7 1227.5 L1586.9 1227.5 L1588.0 1227.5 L1589.2 1227.5 L1590.3 1227.5 L1591.4 1227.5 L1592.6 1227.5 L1593.7 1227.5 L1594.9 1227.5 L1596.0 1227.5 L1597.2 1227.5 L1598.3 1227.5 L1599.5 1227.5 L1600.6 1227.5 L1601.8 1227.5 L1602.9 1227.5 L1604.1 1227.5 L1605.2 1227.5 L1606.4 1227.5 L1607.5 1227.5 L1608.6 1227.5 L1609.8 1227.5 L1610.9 1227.5 L1612.1 1227.5 L1613.2 1227.5 L1614.4 1227.5 L1615.5 1227.5 L1616.7 1227.5 L1617.8 1227.5 L1619.0 1227.5 L1620.1 1227.5 L1621.3 1227.5 L1622.4 1227.5 L1623.6 1227.5 L1624.7 1227.5 L1625.8 1227.5 L1627.0 1227.5 L1628.1 1227.5 L1629.3 1227.5 L1630.4 1227.5 L1631.6 1227.5 L1632.7 1227.5 L1633.9 1227.5 L1635.0 1227.5 L1636.2 1227.5 L1637.3 1227.5 L1638.5 1227.5 L1639.6 1227.5 L1640.7 1227.5 L1641.9 1227.5 L1643.0 1227.5 L1644.2 1227.5 L1645.3 1227.5 L1646.5 1227.5 L1647.6 1227.5 L1648.8 1227.5 L1649.9 1227.5 L1651.1 1227.5 L1652.2 1227.5 L1653.4 1227.5 L1654.5 1227.5 L1655.7 1227.5 L1656.8 1227.5 L1657.9 1227.5 L1659.1 1227.5 L1660.2 1227.5 L1661.4 1227.5 L1662.5 1227.5 L1663.7 1227.5 L1664.8 1227.5 L1666.0 1227.5 L1667.1 1227.5 L1668.3 1227.5 L1669.4 1227.5 L1670.6 1227.5 L1671.7 1227.5 L1672.8 1227.5 L1674.0 1227.5 L1675.1 1227.5 L1676.3 1227.5 L1677.4 1227.5 L1678.6 1227.5 L1679.7 1227.5 L1680.9 1227.5 L1682.0 1227.5 L1683.2 1227.5 L1684.3 1227.5 L1685.5 1227.5 L1686.6 1227.5 L1687.7 1227.5 L1688.9 1227.5 L1690.0 1227.5 L1691.2 1227.5 L1692.3 1227.5 L1693.5 1227.5 L1694.6 1227.5 L1695.8 1227.5 L1696.9 1227.5 L1698.1 1227.5 L1699.2 1227.5 L1700.4 1227.5 L1701.5 1227.5 L1702.7 1227.5 L1703.8 1227.5 L1704.9 1227.5 L1706.1 1227.5 L1707.2 1227.5 L1708.4 1227.5 L1709.5 1227.5 L1710.7 1227.5 L1711.8 1227.5 L1713.0 1227.5 L1714.1 1227.5 L1715.3 1227.5 L1716.4 1227.5 L1717.6 1227.5 L1718.7 1227.5 L1719.8 1227.5 L1721.0 1227.5 L1722.1 1227.5 L1723.3 1227.5 L1724.4 1227.5 L1725.6 1227.5 L1726.7 1227.5 L1727.9 1227.5 L1729.0 1227.5 L1730.2 1227.5 L1731.3 1227.5 L1732.5 1227.5 L1733.6 1227.5 L1734.7 1227.5 L1735.9 1227.5 L1737.0 1227.5 L1738.2 1227.5 L1739.3 1227.5 L1740.5 1227.5 L1741.6 1227.5 L1742.8 1227.5 L1743.9 1227.5 L1745.1 1227.5 L1746.2 1227.5 L1747.4 1227.5 L1748.5 1227.5 L1749.7 1227.5 L1750.8 1227.5 L1751.9 1227.5 L1753.1 1227.5 L1754.2 1227.5 L1755.4 1227.5 L1756.5 1227.5 L1757.7 1227.5 L1758.8 1227.5 L1760.0 1227.5 L1761.1 1227.5 L1762.3 1227.5 L1763.4 1227.5 L1764.6 1227.5 L1765.7 1227.5 L1766.8 1227.5 L1768.0 1227.5 L1769.1 1227.5 L1770.3 1227.5 L1771.4 1227.5 L1772.6 1227.5 L1773.7 1227.5 L1774.9 1227.5 L1776.0 1227.5 L1777.2 1227.5 L1778.3 1227.5 L1779.5 1227.5 L1780.6 1227.5 L1781.8 1227.5 L1782.9 1227.5 L1784.0 1227.5 L1785.2 1227.5 L1786.3 1227.5 L1787.5 1227.5 L1788.6 1227.5 L1789.8 1227.5 L1790.9 1227.5 L1792.1 1227.5 L1793.2 1227.5 L1794.4 1227.5 L1795.5 1227.5 L1796.7 1227.5 L1797.8 1227.5 L1798.9 1227.5 L1800.1 1227.5 L1801.2 1227.5 L1802.4 1227.5 L1803.5 1227.5 L1804.7 1227.5 L1805.8 1227.5 L1807.0 1227.5 L1808.1 1227.5 L1809.3 1227.5 L1810.4 1227.5 L1811.6 1227.5 L1812.7 1227.5 L1813.9 1227.5 L1815.0 1227.5"/>
<path stroke="#ff0000" d="M80.0 1227.7 L81.1 1227.8 L82.2 1227.8 L83.3 1227.8 L84.4 1227.8 L85.5 1227.9 L86.5 1227.9 L87.6 1227.9 L88.7 1227.9 L89.8 1228.0 L90.9 1228.0 L92.0 1228.0 L93.1 1228.0 L94.2 1228.0 L95.3 1228.0 L96.4 1228.0 L97.5 1228.0 L98.6 1228.0 L99.7 1228.0 L100.7 1228.0 L101.8 1228.0 L102.9 1228.0 L104.0 1228.0 L105.1 1228.0 L106.2 1228.0 L107.3 1228.0 L108.4 1227.9 L109.5 1227.9 L110.6 1227.9 L111.7 1227.9 L112.8 1227.9 L113.8 1227.9 L114.9 1227.9 L116.0 1227.8 L117.1 1227.8 L118.2 1227.8 L119.3 1227.8 L120.4 1227.8 L121.5 1227.7 L122.6 1227.7 L123.7 1227.7 L124.8 1227.7 L125.9 1227.7 L127.0 1227.7 L128.0 1227.6 L129.1 1227.6 L130.2 1227.6 L131.3 1227.6 L132.4 1227.6 L133.5 1227.6 L134.6 1227.5 L135.7 1227.5 L136.8 1227.5 L137.9 1227.5 L139.0 1227.5 L140.1 1227.5 L141.2 1227.5 L142.2 1227.5 L143.3 1227.5 L144.4 1227.5 L145.5 1227.5 L146.6 1227.5 L147.7 1227.5 L148.8 1227.5 L149.9 1227.5 L151.0 1227.5 L152.1 1227.5 L153.2 1227.5 L154.3 1227.5 L155.3 1227.5 L156.4 1227.5 L157.5 1227.6 L158.6 1227.6 L159.7 1227.6 L160.8 1227.6 L161.9 1227.6 L163.0 1227.7 L164.1 1227.7 L165.2 1227.7 L166.3 1227.8 L167.3 1227.8 L168.4 1227.9 L169.5 1227.9 L170.6 1228.0 L171.7 1228.0 L172.8 1228.1 L173.9 1228.1 L175.0 1228.2 L176.1 1228.2 L177.2 1228.3 L178.2 1228.3 L179.3 1228.4 L180.4 1228.4 L181.5 1228.4 L182.6 1228.5 L183.7 1228.5 L184.8 1228.6 L185.9 1228.6 L187.0 1228.6 L188.1 1228.6 L189.2 1228.7 L190.2 1228.7 L191.3 1228.7 L192.4 1228.7 L193.5 1228.7 L194.6 1228.7 L195.7 1228.7 L196.8 1228.7 L197.9 1228.7 L199.0 1228.7 L200.1 1228.6 L201.2 1228.6 L202.2 1228.6 L203.3 1228.6 L204.4 1228.5 L205.5 1228.5 L206.6 1228.5 L207.7 1228.4 L208.8 1228.4 L209.9 1228.4 L211.0 1228.3 L212.1 1228.3 L213.2 1228.3 L214.3 1228.2 L215.3 1228.2 L216.4 1228.1 L217.5 1228.1 L218.6 1228.1 L219.7 1228.0 L220.8 1228.0 L221.9 1228.0 L223.0 1227.9 L224.1 1227.9 L225.2 1227.8 L226.3 1227.8 L227.4 1227.8 L228.4 1227.7 L229.5 1227.7 L230.6 1227.7 L231.7 1227.7 L232.8 1227.6 L233.9 1227.6 L235.0 1227.6 L236.1 1227.6 L237.2 1227.6 L238.3 1227.6 L239.4 1227.5 L240.5 1227.5 L241.5 1227.5 L242.6 1227.5 L243.7 1227.5 L244.8 1227.5 L245.9 1227.5 L247.0 1227.5 L248.1 1227.5 L249.2 1227.5 L250.3 1227.5 L251.4 1227.5 L252.5 1227.5 L253.6 1227.5 L254.7 1227.5 L255.7 1227.5 L256.8 1227.5 L257.9 1227.5 L259.0 1227.5 L260.1 1227.5 L261.2 1227.5 L262.3 1227.5 L263.4 1227.5 L264.5 1227.5 L265.6 1227.5 L266.7 1227.6 L267.8 1227.6 L268.8 1227.6 L269.9 1227.6 L271.0 1227.6 L272.1 1227.6 L273.2 1227.7 L274.3 1227.7 L275.4 1227.7 L276.5 1227.7 L277.6 1227.7 L278.7 1227.8 L279.8 1227.8 L280.9 1227.8 L282.0 1227.8 L283.0 1227.9 L284.1 1227.9 L285.2 1227.9 L286.3 1227.9 L287.4 1228.0 L288.5 1228.0 L289.6 1228.0 L290.7 1228.1 L291.8 1228.1 L292.9 1228.1 L294.0 1228.1 L295.1 1228.2 L296.2 1228.2 L297.3 1228.2 L298.3 1228.2 L299.4 1228.3 L300.5 1228.3 L301.6 1228.3 L302.7 1228.3 L303.8 1228.3 L304.9 1228.3 L306.0 1228.4 L307.1 1228.4 L308.2 1228.4 L309.3 1228.4 L310.4 1228.4 L311.4 1228.4 L312.5 1228.4 L313.6 1228.4 L314.7 1228.4 L315.8 1228.4 L316.9 1228.4 L318.0 1228.4 L319.1 1228.4 L320.2 1228.4 L321.3 1228.4 L322.4 1228.3 L323.5 1228.3 L324.5 1228.3 L325.6 1228.3 L326.7 1228.2 L327.8 1228.2 L328.9 1228.2 L330.0 1228.1 L331.1 1228.1 L332.2 1228.0 L333.3 1228.0 L334.4 1227.9 L335.4 1227.9 L336.5 1227.8 L337.6 1227.7 L338.7 1227.6 L339.8 1227.6 L340.9 1227.5 L342.0 1227.4 L343.1 1227.3 L344.2 1227.2 L345.2 1227.1 L346.3 1227.0 L347.4 1226.9 L348.5 1226.8 L349.6 1226.7 L350.7 1226.5 L351.8 1226.4 L352.9 1226.3 L353.9 1226.1 L355.0 1226.0 L356.1 1225.8 L357.2 1225.7 L358.3 1225.5 L359.4 1225.3 L360.4 1225.1 L361.5 1224.9 L362.6 1224.7 L363.7 1224.5 L364.8 1224.3 L365.8 1224.1 L366.9 1223.8 L367.9 1223.5 L369.0 1223.3 L370.1 1223.0 L371.1 1222.7 L372.2 1222.4 L373.2 1222.0 L374.2 1221.7 L375.2 1221.3 L376.3 1220.9 L377.3 1220.5 L378.3 1220.1 L379.3 1219.7 L380.3 1219.3 L381.3 1218.8 L382.3 1218.4 L383.3 1217.9 L384.3 1217.4 L385.2 1216.9 L386.2 1216.4 L387.2 1216.0 L388.2 1215.5 L389.2 1215.0 L390.2 1214.5 L391.1 1214.0 L392.1 1213.6 L393.1 1213.1 L394.1 1212.6 L395.1 1212.2 L396.1 1211.8 L397.1 1211.3 L398.1 1210.9 L399.1 1210.5 L400.2 1210.2 L401.2 1209.8 L402.2 1209.5 L403.2 1209.2 L404.3 1208.8 L405.3 1208.5 L406.4 1208.3 L407.4 1208.0 L408.5 1207.7 L409.6 1207.5 L410.6 1207.2 L411.7 1207.0 L412.8 1206.7 L413.8 1206.5 L414.9 1206.3 L416.0 1206.0 L417.0 1205.8 L418.1 1205.5 L419.2 1205.3 L420.2 1205.0 L421.3 1204.8 L422.4 1204.5 L423.4 1204.3 L424.5 1204.0 L425.5 1203.7 L426.6 1203.5 L427.7 1203.2 L428.7 1202.9 L429.8 1202.6 L430.8 1202.4 L431.9 1202.1 L432.9 1201.8 L434.0 1201.5 L435.0 1201.2 L436.1 1200.9 L437.1 1200.6 L438.2 1200.3 L439.2 1200.0 L440.3 1199.7 L441.3 1199.4 L442.4 1199.1 L443.4 1198.8 L444.5 1198.5 L445.5 1198.2 L446.6 1197.9 L447.6 1197.6 L448.7 1197.3 L449.7 1196.9 L450.8 1196.6 L451.8 1196.3 L452.8 1196.0 L453.9 1195.7 L454.9 1195.3 L456.0 1195.0 L457.0 1194.7 L458.1 1194.4 L459.1 1194.0 L460.1 1193.7 L461.2 1193.4 L462.2 1193.1 L463.3 1192.7 L464.3 1192.4 L465.3 1192.1 L466.4 1191.7 L467.4 1191.4 L468.5 1191.1 L469.5 1190.7 L470.5 1190.4 L471.6 1190.1 L472.6 1189.7 L473.7 1189.4 L474.7 1189.1 L475.7 1188.7 L476.8 1188.4 L477.8 1188.1 L478.9 1187.7 L479.9 1187.4 L480.9 1187.0 L482.0 1186.7 L483.0 1186.3 L484.0 1186.0 L485.1 1185.7 L486.1 1185.3 L487.1 1185.0 L488.2 1184.6 L489.2 1184.2 L490.2 1183.9 L491.3 1183.5 L492.3 1183.2 L493.3 1182.8 L494.3 1182.4 L495.4 1182.1 L496.4 1181.7 L497.4 1181.3 L498.4 1180.9 L499.5 1180.5 L500.5 1180.2 L501.5 1179.8 L502.5 1179.4 L503.5 1179.0 L504.6 1178.6 L505.6 1178.2 L506.6 1177.8 L507.6 1177.3 L508.6 1176.9 L509.6 1176.5 L510.6 1176.0 L511.6 1175.6 L512.6 1175.2 L513.6 1174.7 L514.6 1174.2 L515.6 1173.7 L516.5 1173.2 L517.5 1172.7 L518.5 1172.2 L519.4 1171.7 L520.3 1171.2 L521.3 1170.6 L522.2 1170.1 L523.1 1169.5 L524.1 1168.9 L525.0 1168.3 L525.9 1167.7 L526.8 1167.1 L527.7 1166.5 L528.6 1165.9 L529.5 1165.3 L530.4 1164.7 L531.3 1164.1 L532.2 1163.4 L533.1 1162.8 L534.0 1162.2 L534.9 1161.6 L535.8 1160.9 L536.7 1160.3 L537.6 1159.7 L538.5 1159.0 L539.4 1158.4 L540.2 1157.7 L541.1 1157.0 L542.0 1156.4 L542.8 1155.7 L543.7 1155.0 L544.6 1154.4 L545.4 1153.7 L546.3 1153.0 L547.1 1152.3 L547.9 1151.6 L548.8 1150.9 L549.6 1150.2 L550.4 1149.5 L551.2 1148.7 L552.0 1148.0 L552.8 1147.3 L553.6 1146.5 L554.4 1145.8 L555.2 1145.0 L556.0 1144.2 L556.7 1143.4 L557.5 1142.7 L558.2 1141.9 L558.9 1141.1 L559.7 1140.3 L560.4 1139.5 L561.1 1138.6 L561.8 1137.8 L562.5 1137.0 L563.2 1136.1 L563.9 1135.3 L564.6 1134.4 L565.2 1133.6 L565.9 1132.7 L566.6 1131.8 L567.2 1131.0 L567.8 1130.1 L568.5 1129.2 L569.1 1128.3 L569.7 1127.4 L570.3 1126.5 L570.9 1125.6 L571.5 1124.7 L572.1 1123.8 L572.7 1122.8 L573.2 1121.9 L573.8 1121.0 L574.4 1120.0 L574.9 1119.1 L575.5 1118.1 L576.0 1117.2 L576.5 1116.2 L577.0 1115.3 L577.5 1114.3 L578.0 1113.3 L578.5 1112.3 L579.0 1111.4 L579.5 1110.4 L580.0 1109.4 L580.5 1108.4 L580.9 1107.4 L581.4 1106.4 L581.8 1105.4 L582.3 1104.4 L582.7 1103.4 L583.2 1102.4 L583.6 1101.4 L584.1 1100.4 L584.5 1099.4 L585.0 1098.4 L585.4 1097.4 L585.9 1096.4 L586.3 1095.4 L586.8 1094.4 L587.2 1093.4 L587.7 1092.4 L588.1 1091.4 L588.6 1090.5 L589.0 1089.5 L589.5 1088.5 L590.0 1087.5 L590.5 1086.5 L591.0 1085.6 L591.5 1084.6 L592.0 1083.6 L592.5 1082.7 L593.0 1081.7 L593.6 1080.8 L594.1 1079.9 L594.7 1078.9 L595.2 1078.0 L595.8 1077.1 L596.4 1076.2 L597.0 1075.3 L597.6 1074.4 L598.2 1073.5 L598.9 1072.6 L599.5 1071.8 L600.2 1070.9 L600.9 1070.1 L601.6 1069.2 L602.3 1068.4 L603.0 1067.6 L603.8 1066.8 L604.6 1066.0 L605.3 1065.2 L606.2 1064.4 L607.0 1063.7 L607.8 1062.9 L608.7 1062.2 L609.5 1061.5 L610.4 1060.8 L611.4 1060.1 L612.3 1059.5 L613.2 1058.9 L614.2 1058.4 L615.2 1057.9 L616.2 1057.6 L617.2 1057.3 L618.2 1057.2 L619.2 1057.2 L620.2 1057.4 L621.3 1057.6 L622.3 1058.0 L623.3 1058.3 L624.4 1058.7 L625.4 1059.0 L626.5 1059.4 L627.6 1059.6 L628.6 1059.9 L629.7 1060.1 L630.8 1060.3 L631.9 1060.5 L632.9 1060.7 L634.0 1060.8 L635.1 1060.9 L636.2 1061.1 L637.3 1061.2 L638.4 1061.3 L639.5 1061.4 L640.5 1061.5 L641.6 1061.6 L642.7 1061.7 L643.8 1061.9 L644.9 1062.0 L645.9 1062.1 L647.0 1062.3 L648.1 1062.5 L649.1 1062.7 L650.2 1062.9 L651.3 1063.2 L652.3 1063.5 L653.3 1063.8 L654.4 1064.1 L655.4 1064.4 L656.4 1064.8 L657.5 1065.2 L658.5 1065.5 L659.5 1065.9 L660.5 1066.4 L661.5 1066.8 L662.5 1067.2 L663.5 1067.7 L664.5 1068.2 L665.5 1068.7 L666.4 1069.1 L667.4 1069.6 L668.4 1070.2 L669.3 1070.7 L670.3 1071.2 L671.2 1071.7 L672.1 1072.3 L673.1 1072.8 L674.0 1073.4 L675.0 1073.9 L675.9 1074.5 L676.8 1075.1 L677.7 1075.7 L678.6 1076.3 L679.6 1076.9 L680.5 1077.5 L681.4 1078.1 L682.3 1078.7 L683.2 1079.3 L684.1 1079.9 L685.0 1080.5 L685.9 1081.1 L686.8 1081.7 L687.7 1082.4 L688.6 1083.0 L689.5 1083.6 L690.4 1084.3 L691.3 1084.9 L692.1 1085.5 L693.0 1086.2 L693.9 1086.8 L694.8 1087.4 L695.7 1088.1 L696.6 1088.7 L697.5 1089.4 L698.4 1090.0 L699.3 1090.6 L700.1 1091.3 L701.0 1091.9 L701.9 1092.5 L702.8 1093.2 L703.7 1093.8 L704.6 1094.4 L705.5 1095.0 L706.4 1095.6 L707.3 1096.3 L708.2 1096.9 L709.1 1097.5 L710.0 1098.1 L710.9 1098.7 L711.9 1099.3 L712.8 1099.9 L713.7 1100.5 L714.6 1101.0 L715.5 1101.6 L716.5 1102.2 L717.4 1102.7 L718.3 1103.3 L719.3 1103.8 L720.2 1104.4 L721.2 1104.9 L722.1 1105.4 L723.1 1105.9 L724.1 1106.4 L725.0 1106.9 L726.0 1107.4 L727.0 1107.9 L728.0 1108.4 L729.0 1108.8 L730.0 1109.3 L731.0 1109.7 L732.0 1110.1 L733.0 1110.5 L734.0 1110.9 L735.1 1111.2 L736.1 1111.6 L737.1 1111.9 L738.2 1112.2 L739.3 1112.5 L740.4 1112.8 L741.4 1113.0 L742.5 1113.3 L743.6 1113.4 L744.7 1113.6 L745.8 1113.7 L746.9 1113.8 L747.9 1113.8 L749.0 1113.7 L750.1 1113.6 L751.1 1113.5 L752.2 1113.3 L753.2 1113.0 L754.2 1112.8 L755.2 1112.5 L756.3 1112.2 L757.3 1111.9 L758.4 1111.7 L759.4 1111.5 L760.5 1111.4 L761.6 1111.2 L762.7 1111.1 L763.8 1111.0 L764.9 1111.0 L766.0 1110.9 L767.1 1110.9 L768.2 1110.9 L769.3 1110.9 L770.4 1111.0 L771.5 1111.0 L772.6 1111.2 L773.6 1111.3 L774.7 1111.6 L775.8 1111.8 L776.8 1112.1 L777.9 1112.4 L778.9 1112.7 L779.9 1113.1 L780.9 1113.5 L781.9 1113.9 L783.0 1114.4 L783.9 1114.8 L784.9 1115.3 L785.9 1115.8 L786.9 1116.3 L787.9 1116.8 L788.8 1117.3 L789.8 1117.9 L790.7 1118.4 L791.7 1118.9 L792.6 1119.4 L793.6 1119.9 L794.5 1120.4 L795.5 1120.9 L796.5 1121.4 L797.5 1121.9 L798.4 1122.3 L799.4 1122.8 L800.5 1123.2 L801.5 1123.5 L802.6 1123.9 L803.6 1124.2 L804.7 1124.5 L805.8 1124.8 L806.8 1125.0 L807.9 1125.3 L809.0 1125.4 L810.1 1125.6 L811.2 1125.7 L812.3 1125.8 L813.4 1125.8 L814.5 1125.8 L815.6 1125.8 L816.7 1125.7 L817.8 1125.6 L818.8 1125.5 L819.9 1125.3 L820.9 1125.1 L822.0 1124.8 L823.0 1124.5 L824.0 1124.1 L825.0 1123.7 L826.0 1123.2 L827.0 1122.8 L827.9 1122.2 L828.9 1121.7 L829.8 1121.1 L830.7 1120.5 L831.6 1119.9 L832.5 1119.3 L833.4 1118.7 L834.3 1118.1 L835.2 1117.5 L836.1 1117.0 L837.1 1116.5 L838.0 1116.0 L839.0 1115.5 L840.0 1115.0 L841.0 1114.6 L842.0 1114.2 L843.0 1113.9 L844.0 1113.6 L845.1 1113.3 L846.2 1113.0 L847.3 1112.8 L848.3 1112.5 L849.4 1112.3 L850.5 1112.1 L851.6 1111.9 L852.7 1111.7 L853.8 1111.4 L854.8 1111.2 L855.9 1110.9 L856.9 1110.6 L857.9 1110.3 L858.9 1110.0 L859.8 1109.5 L860.7 1109.1 L861.6 1108.6 L862.4 1108.0 L863.2 1107.4 L863.9 1106.7 L864.6 1105.9 L865.2 1105.0 L865.8 1104.1 L866.3 1103.1 L866.8 1102.0 L867.2 1100.9 L867.5 1100.1 L867.8 1099.4 L868.1 1098.6 L868.4 1097.5 L868.8 1096.3 L869.2 1095.2 L869.6 1094.1 L869.9 1093.0 L870.3 1091.9 L870.6 1090.8 L870.9 1089.8 L871.2 1088.7 L871.6 1087.6 L871.9 1086.5 L872.2 1085.5 L872.5 1084.4 L872.8 1083.4 L873.1 1082.3 L873.3 1081.3 L873.6 1080.2 L873.9 1079.2 L874.2 1078.2 L874.4 1077.1 L874.7 1076.1 L874.9 1075.1 L875.2 1074.1 L875.5 1073.0 L875.7 1072.0 L876.0 1071.0 L876.2 1070.0 L876.5 1068.9 L876.7 1067.9 L877.0 1066.9 L877.2 1065.9 L877.5 1064.8 L877.7 1063.8 L878.0 1062.8 L878.2 1061.7 L878.5 1060.7 L878.7 1059.7 L879.0 1058.6 L879.2 1057.6 L879.5 1056.5 L879.8 1055.5 L880.0 1054.4 L880.3 1053.4 L880.6 1052.3 L880.9 1051.3 L881.1 1050.2 L881.4 1049.1 L881.7 1048.1 L882.0 1047.0 L882.2 1046.0 L882.5 1044.9 L882.8 1043.8 L883.1 1042.8 L883.4 1041.7 L883.6 1040.6 L883.9 1039.5 L884.2 1038.5 L884.5 1037.4 L884.8 1036.3 L885.1 1035.3 L885.4 1034.2 L885.7 1033.1 L886.0 1032.0 L886.2 1031.0 L886.5 1029.9 L886.8 1028.8 L887.1 1027.7 L887.4 1026.7 L887.7 1025.6 L888.0 1024.5 L888.3 1023.5 L888.6 1022.4 L888.9 1021.3 L889.1 1020.3 L889.4 1019.2 L889.7 1018.2 L890.0 1017.1 L890.3 1016.1 L890.6 1015.0 L890.9 1014.0 L891.2 1012.9 L891.5 1011.9 L891.8 1010.8 L892.1 1009.8 L892.5 1008.7 L892.8 1007.7 L893.1 1006.7 L893.4 1005.6 L893.8 1004.6 L894.1 1003.6 L894.5 1002.6 L894.9 1001.5 L895.2 1000.5 L895.6 999.5 L896.0 998.5 L896.4 997.5 L896.8 996.5 L897.2 995.5 L897.7 994.5 L898.1 993.5 L898.6 992.6 L899.0 991.6 L899.5 990.6 L900.0 989.6 L900.5 988.7 L901.0 987.7 L901.6 986.8 L902.1 985.8 L902.7 984.9 L903.3 984.0 L903.9 983.1 L904.6 982.2 L905.3 981.3 L906.0 980.5 L906.8 979.7 L907.6 978.9 L908.4 978.2 L909.2 977.4 L910.1 976.7 L910.9 976.0 L911.7 975.2 L912.5 974.5 L913.3 973.7 L914.0 972.9 L914.6 972.0 L915.2 971.1 L915.8 970.2 L916.3 969.3 L916.8 968.3 L917.2 967.3 L917.7 966.3 L918.1 965.3 L918.4 964.3 L918.8 963.2 L919.2 962.2 L919.5 961.2 L919.8 960.1 L920.1 959.1 L920.5 958.0 L920.8 957.0 L921.1 955.9 L921.4 954.9 L921.6 953.8 L921.9 952.8 L922.2 951.7 L922.4 950.7 L922.7 949.6 L922.9 948.5 L923.2 947.5 L923.4 946.4 L923.6 945.3 L923.8 944.3 L924.1 943.2 L924.3 942.1 L924.5 941.1 L924.7 940.0 L924.9 938.9 L925.0 937.8 L925.2 936.8 L925.4 935.7 L925.6 934.6 L925.7 933.5 L925.9 932.4 L926.0 931.4 L926.2 930.3 L926.3 929.2 L926.5 928.1 L926.6 927.0 L926.8 925.9 L926.9 924.8 L927.0 923.7 L927.2 922.7 L927.3 921.6 L927.4 920.5 L927.5 919.4 L927.7 918.3 L927.8 917.2 L927.9 916.1 L928.0 915.0 L928.1 913.9 L928.3 912.9 L928.4 911.8 L928.5 910.7 L928.6 909.6 L928.7 908.5 L928.8 907.4 L928.9 906.3 L929.0 905.2 L929.1 904.1 L929.3 903.1 L929.4 902.0 L929.5 900.9 L929.6 899.8 L929.7 898.7 L929.8 897.6 L929.9 896.5 L930.0 895.4 L930.1 894.3 L930.2 893.3 L930.3 892.2 L930.4 891.1 L930.5 890.0 L930.6 888.9 L930.7 887.8 L930.8 886.7 L930.9 885.6 L931.0 884.6 L931.1 883.5 L931.2 882.4 L931.3 881.3 L931.4 880.2 L931.5 879.1 L931.6 878.0 L931.7 877.0 L931.8 875.9 L931.9 874.8 L932.0 873.7 L932.1 872.6 L932.2 871.5 L932.3 870.4 L932.4 869.4 L932.5 868.3 L932.6 867.2 L932.7 866.1 L932.7 865.0 L932.8 863.9 L932.9 862.8 L933.0 861.7 L933.1 860.7 L933.2 859.6 L933.3 858.5 L933.4 857.4 L933.5 856.3 L933.6 855.2 L933.7 854.1 L933.7 853.1 L933.8 852.0 L933.9 850.9 L934.0 849.8 L934.1 848.7 L934.2 847.6 L934.3 846.5 L934.4 845.4 L934.4 844.4 L934.5 843.3 L934.6 842.2 L934.7 841.1 L934.8 840.0 L934.9 838.9 L935.0 837.8 L935.0 836.7 L935.1 835.7 L935.2 834.6 L935.3 833.5 L935.4 832.4 L935.5 831.3 L935.5 830.2 L935.6 829.1 L935.7 828.0 L935.8 826.9 L935.9 825.9 L936.0 824.8 L936.0 823.7 L936.1 822.6 L936.2 821.5 L936.3 820.4 L936.4 819.3 L936.4 818.2 L936.5 817.2 L936.6 816.1 L936.7 815.0 L936.8 813.9 L936.8 812.8 L936.9 811.7 L937.0 810.6 L937.1 809.5 L937.1 808.4 L937.2 807.4 L937.3 806.3 L937.4 805.2 L937.5 804.1 L937.5 803.0 L937.6 801.9 L937.7 800.8 L937.8 799.7 L937.8 798.6 L937.9 797.6 L938.0 796.5 L938.1 795.4 L938.1 794.3 L938.2 793.2 L938.3 792.1 L938.4 791.0 L938.4 789.9 L938.5 788.8 L938.6 787.7 L938.7 786.7 L938.7 785.6 L938.8 784.5 L938.9 783.4 L938.9 782.3 L939.0 781.2 L939.1 780.1 L939.2 779.0 L939.2 777.9 L939.3 776.9 L939.4 775.8 L939.4 774.7 L939.5 773.6 L939.6 772.5 L939.7 771.4 L939.7 770.3 L939.8 769.2 L939.9 768.1 L939.9 767.0 L940.0 766.0 L940.1 764.9 L940.1 763.8 L940.2 762.7 L940.3 761.6 L940.4 760.5 L940.4 759.4 L940.5 758.3 L940.6 757.2 L940.6 756.1 L940.7 755.1 L940.8 754.0 L940.8 752.9 L940.9 751.8 L941.0 750.7 L941.0 749.6 L941.1 748.5 L941.2 747.4 L941.2 746.3 L941.3 745.2 L941.4 744.1 L941.4 743.1 L941.5 742.0 L941.6 740.9 L941.6 739.8 L941.7 738.7 L941.8 737.6 L941.8 736.5 L941.9 735.4 L942.0 734.3 L942.0 733.2 L942.1 732.2 L942.2 731.1 L942.2 730.0 L942.3 728.9 L942.3 727.8 L942.4 726.7 L942.5 725.6 L942.5 724.5 L942.6 723.4 L942.7 722.3 L942.7 721.2 L942.8 720.2 L942.9 719.1 L942.9 718.0 L943.0 716.9 L943.1 715.8 L943.1 714.7 L943.2 713.6 L943.2 712.5 L943.3 711.4 L943.4 710.3 L943.4 709.3 L943.5 708.2 L943.6 707.1 L943.6 706.0 L943.7 704.9 L943.7 703.8 L943.8 702.7 L943.9 701.6 L943.9 700.5 L944.0 699.4 L944.1 698.3 L944.1 697.3 L944.2 696.2 L944.2 695.1 L944.3 694.0 L944.4 692.9 L944.4 691.8 L944.5 690.7 L944.5 689.6 L944.6 688.5 L944.7 687.4 L944.7 686.3 L944.8 685.3 L944.9 684.2 L944.9 683.1 L945.0 682.0 L945.0 680.9 L945.1 679.8 L945.2 678.7 L945.2 677.6 L945.3 676.5 L945.3 675.4 L945.4 674.3 L945.5 673.3 L945.5 672.2 L945.6 671.1 L945.6 670.0 L945.7 668.9 L945.8 667.8 L945.8 666.7 L945.9 665.6 L945.9 664.5 L946.0 663.4 L946.1 662.4 L946.1 661.3 L946.2 660.2 L946.3 659.1 L946.3 658.0 L946.4 656.9 L946.4 655.8 L946.5 654.7 L946.6 653.6 L946.6 652.5 L946.7 651.4 L946.7 650.4 L946.8 649.3 L946.9 648.2 L946.9 647.1 L947.0 646.0 L947.1 644.9 L947.1 643.8 L947.2 642.7 L947.2 641.6 L947.3 640.5 L947.4 639.5 L947.4 638.4 L947.5 637.3 L947.6 636.2 L947.6 635.1 L947.7 634.0 L947.8 632.9 L947.9 631.8 L947.9 630.7 L948.0 629.6 L948.1 628.6 L948.1 627.5 L948.2 626.4 L948.3 625.3 L948.4 624.2 L948.4 623.1 L948.5 622.0 L948.6 620.9 L948.7 619.8 L948.7 618.8 L948.8 617.7 L948.9 616.6 L949.0 615.5 L949.1 614.4 L949.2 613.3 L949.2 612.2 L949.3 611.1 L949.4 610.1 L949.5 609.0 L949.6 607.9 L949.7 606.8 L949.8 605.7 L949.9 604.6 L950.0 603.5 L950.1 602.4 L950.2 601.4 L950.2 600.3 L950.3 599.2 L950.4 598.1 L950.6 597.0 L950.7 595.9 L950.8 594.8 L950.9 593.7 L951.0 592.7 L951.1 591.6 L951.2 590.5 L951.3 589.4 L951.4 588.3 L951.5 587.2 L951.7 586.2 L951.8 585.1 L951.9 584.0 L952.0 582.9 L952.1 581.8 L952.3 580.7 L952.4 579.6 L952.5 578.6 L952.7 577.5 L952.8 576.4 L952.9 575.3 L953.1 574.2 L953.2 573.1 L953.3 572.1 L953.5 571.0 L953.6 569.9 L953.8 568.8 L953.9 567.7 L954.1 566.6 L954.2 565.6 L954.4 564.5 L954.5 563.4 L954.6 562.3 L954.8 561.2 L954.9 560.1 L955.1 559.1 L955.2 558.0 L955.3 556.9 L955.4 555.8 L955.6 554.7 L955.7 553.6 L955.8 552.6 L955.9 551.5 L956.0 550.4 L956.1 549.3 L956.2 548.2 L956.3 547.1 L956.3 546.0 L956.4 544.9 L956.5 543.9 L956.6 542.8 L956.7 541.7 L956.9 540.6 L957.1 539.5 L957.4 538.5 L957.7 537.4 L958.0 538.4 L958.3 539.4 L958.6 540.4 L958.9 541.5 L959.2 542.5 L959.5 543.5 L959.8 544.5 L960.1 545.5 L960.4 546.5 L960.7 547.5 L961.0 548.6 L961.2 549.6 L961.5 550.6 L961.8 551.6 L962.0 552.6 L962.2 553.7 L962.5 554.7 L962.7 555.7 L962.9 556.8 L963.1 557.8 L963.3 558.8 L963.4 559.9 L963.6 560.9 L963.8 562.0 L963.9 563.0 L964.0 564.0 L964.2 565.1 L964.3 566.1 L964.4 567.2 L964.5 568.2 L964.6 569.3 L964.7 570.3 L964.8 571.4 L964.9 572.5 L965.0 573.5 L965.1 574.6 L965.2 575.6 L965.3 576.7 L965.4 577.7 L965.5 578.8 L965.6 579.8 L965.7 580.9 L965.8 581.9 L965.9 583.0 L966.0 584.0 L966.1 585.1 L966.2 586.1 L966.3 587.2 L966.4 588.2 L966.5 589.3 L966.6 590.3 L966.7 591.4 L966.7 592.4 L966.8 593.5 L966.9 594.5 L967.0 595.6 L967.1 596.6 L967.2 597.7 L967.3 598.7 L967.4 599.8 L967.5 600.9 L967.6 601.9 L967.6 603.0 L967.7 604.0 L967.8 605.1 L967.9 606.1 L968.0 607.2 L968.1 608.2 L968.2 609.3 L968.2 610.3 L968.3 611.4 L968.4 612.4 L968.5 613.5 L968.6 614.5 L968.7 615.6 L968.7 616.6 L968.8 617.7 L968.9 618.7 L969.0 619.8 L969.1 620.8 L969.2 621.9 L969.2 622.9 L969.3 624.0 L969.4 625.1 L969.5 626.1 L969.6 627.2 L969.6 628.2 L969.7 629.3 L969.8 630.3 L969.9 631.4 L969.9 632.4 L970.0 633.5 L970.1 634.5 L970.2 635.6 L970.3 636.6 L970.3 637.7 L970.4 638.7 L970.5 639.8 L970.6 640.8 L970.6 641.9 L970.7 643.0 L970.8 644.0 L970.9 645.1 L970.9 646.1 L971.0 647.2 L971.1 648.2 L971.2 649.3 L971.2 650.3 L971.3 651.4 L971.4 652.4 L971.4 653.5 L971.5 654.5 L971.6 655.6 L971.7 656.6 L971.7 657.7 L971.8 658.7 L971.9 659.8 L972.0 660.9 L972.0 661.9 L972.1 663.0 L972.2 664.0 L972.2 665.1 L972.3 666.1 L972.4 667.2 L972.5 668.2 L972.5 669.3 L972.6 670.3 L972.7 671.4 L972.7 672.4 L972.8 673.5 L972.9 674.6 L972.9 675.6 L973.0 676.7 L973.1 677.7 L973.2 678.8 L973.2 679.8 L973.3 680.9 L973.4 681.9 L973.4 683.0 L973.5 684.0 L973.6 685.1 L973.6 686.1 L973.7 687.2 L973.8 688.3 L973.8 689.3 L973.9 690.4 L974.0 691.4 L974.0 692.5 L974.1 693.5 L974.2 694.6 L974.3 695.6 L974.3 696.7 L974.4 697.7 L974.5 698.8 L974.5 699.9 L974.6 700.9 L974.7 702.0 L974.7 703.0 L974.8 704.1 L974.9 705.1 L974.9 706.2 L975.0 707.2 L975.1 708.3 L975.1 709.3 L975.2 710.4 L975.3 711.5 L975.3 712.5 L975.4 713.6 L975.5 714.6 L975.5 715.7 L975.6 716.7 L975.7 717.8 L975.7 718.8 L975.8 719.9 L975.9 720.9 L975.9 722.0 L976.0 723.1 L976.1 724.1 L976.1 725.2 L976.2 726.2 L976.2 727.3 L976.3 728.3 L976.4 729.4 L976.4 730.4 L976.5 731.5 L976.6 732.5 L976.6 733.6 L976.7 734.7 L976.8 735.7 L976.8 736.8 L976.9 737.8 L977.0 738.9 L977.0 739.9 L977.1 741.0 L977.2 742.0 L977.2 743.1 L977.3 744.1 L977.4 745.2 L977.4 746.3 L977.5 747.3 L977.5 748.4 L977.6 749.4 L977.7 750.5 L977.7 751.5 L977.8 752.6 L977.9 753.6 L977.9 754.7 L978.0 755.7 L978.1 756.8 L978.1 757.9 L978.2 758.9 L978.3 760.0 L978.3 761.0 L978.4 762.1 L978.5 763.1 L978.5 764.2 L978.6 765.2 L978.6 766.3 L978.7 767.3 L978.8 768.4 L978.8 769.5 L978.9 770.5 L979.0 771.6 L979.0 772.6 L979.1 773.7 L979.2 774.7 L979.2 775.8 L979.3 776.8 L979.4 777.9 L979.4 778.9 L979.5 780.0 L979.5 781.1 L979.6 782.1 L979.7 783.2 L979.7 784.2 L979.8 785.3 L979.9 786.3 L979.9 787.4 L980.0 788.4 L980.1 789.5 L980.1 790.5 L980.2 791.6 L980.3 792.7 L980.3 793.7 L980.4 794.8 L980.5 795.8 L980.5 796.9 L980.6 797.9 L980.7 799.0 L980.7 800.0 L980.8 801.1 L980.8 802.1 L980.9 803.2 L981.0 804.3 L981.0 805.3 L981.1 806.4 L981.2 807.4 L981.2 808.5 L981.3 809.5 L981.4 810.6 L981.4 811.6 L981.5 812.7 L981.6 813.7 L981.6 814.8 L981.7 815.8 L981.8 816.9 L981.8 818.0 L981.9 819.0 L982.0 820.1 L982.0 821.1 L982.1 822.2 L982.2 823.2 L982.2 824.3 L982.3 825.3 L982.4 826.4 L982.4 827.4 L982.5 828.5 L982.6 829.5 L982.6 830.6 L982.7 831.6 L982.8 832.7 L982.8 833.8 L982.9 834.8 L983.0 835.9 L983.0 836.9 L983.1 838.0 L983.2 839.0 L983.2 840.1 L983.3 841.1 L983.4 842.2 L983.4 843.2 L983.5 844.3 L983.6 845.3 L983.7 846.4 L983.7 847.4 L983.8 848.5 L983.9 849.5 L983.9 850.6 L984.0 851.6 L984.1 852.7 L984.1 853.8 L984.2 854.8 L984.3 855.9 L984.3 856.9 L984.4 858.0 L984.5 859.0 L984.6 860.1 L984.6 861.1 L984.7 862.2 L984.8 863.2 L984.8 864.3 L984.9 865.3 L985.0 866.4 L985.1 867.4 L985.1 868.5 L985.2 869.5 L985.3 870.6 L985.3 871.6 L985.4 872.7 L985.5 873.7 L985.6 874.8 L985.6 875.8 L985.7 876.9 L985.8 878.0 L985.9 879.0 L985.9 880.1 L986.0 881.1 L986.1 882.2 L986.2 883.2 L986.2 884.3 L986.3 885.3 L986.4 886.4 L986.5 887.4 L986.5 888.5 L986.6 889.5 L986.7 890.6 L986.8 891.6 L986.9 892.7 L986.9 893.7 L987.0 894.8 L987.1 895.8 L987.2 896.9 L987.3 897.9 L987.3 899.0 L987.4 900.0 L987.5 901.1 L987.6 902.1 L987.7 903.2 L987.7 904.2 L987.8 905.3 L987.9 906.3 L988.0 907.4 L988.1 908.4 L988.2 909.5 L988.2 910.5 L988.3 911.6 L988.4 912.7 L988.5 913.7 L988.6 914.8 L988.7 915.8 L988.7 916.9 L988.8 917.9 L988.9 919.0 L989.0 920.0 L989.1 921.1 L989.2 922.1 L989.3 923.2 L989.4 924.2 L989.4 925.3 L989.5 926.3 L989.6 927.4 L989.7 928.4 L989.8 929.5 L989.9 930.5 L990.0 931.6 L990.1 932.6 L990.2 933.7 L990.3 934.7 L990.4 935.8 L990.5 936.8 L990.6 937.9 L990.7 938.9 L990.7 940.0 L990.8 941.0 L990.9 942.1 L991.0 943.1 L991.1 944.2 L991.2 945.2 L991.3 946.3 L991.4 947.3 L991.5 948.4 L991.6 949.4 L991.7 950.5 L991.8 951.5 L991.9 952.6 L992.0 953.7 L992.1 954.7 L992.2 955.8 L992.4 956.8 L992.5 957.9 L992.6 958.9 L992.7 960.0 L992.8 961.0 L992.9 962.1 L993.0 963.1 L993.1 964.2 L993.2 965.2 L993.3 966.3 L993.4 967.3 L993.5 968.4 L993.6 969.4 L993.8 970.5 L993.9 971.5 L994.0 972.6 L994.1 973.6 L994.2 974.7 L994.3 975.7 L994.4 976.8 L994.6 977.8 L994.7 978.9 L994.8 979.9 L994.9 981.0 L995.0 982.0 L995.1 983.1 L995.3 984.2 L995.4 985.2 L995.5 986.3 L995.6 987.3 L995.8 988.4 L995.9 989.4 L996.0 990.5 L996.1 991.5 L996.3 992.6 L996.4 993.6 L996.5 994.7 L996.6 995.7 L996.8 996.8 L996.9 997.8 L997.0 998.9 L997.2 999.9 L997.3 1001.0 L997.4 1002.0 L997.5 1003.1 L997.7 1004.1 L997.8 1005.2 L998.0 1006.2 L998.1 1007.3 L998.2 1008.4 L998.4 1009.4 L998.5 1010.5 L998.6 1011.5 L998.8 1012.6 L998.9 1013.6 L999.1 1014.7 L999.2 1015.7 L999.3 1016.8 L999.5 1017.8 L999.6 1018.9 L999.8 1019.9 L999.9 1021.0 L1000.1 1022.0 L1000.2 1023.1 L1000.4 1024.1 L1000.6 1025.2 L1000.7 1026.2 L1000.9 1027.3 L1001.0 1028.3 L1001.2 1029.4 L1001.4 1030.4 L1001.5 1031.5 L1001.7 1032.5 L1001.9 1033.6 L1002.1 1034.6 L1002.2 1035.7 L1002.4 1036.7 L1002.6 1037.7 L1002.8 1038.8 L1003.0 1039.8 L1003.2 1040.9 L1003.4 1041.9 L1003.6 1042.9 L1003.8 1044.0 L1004.0 1045.0 L1004.2 1046.0 L1004.4 1047.1 L1004.6 1048.1 L1004.8 1049.1 L1005.1 1050.2 L1005.3 1051.2 L1005.5 1052.2 L1005.7 1053.3 L1006.0 1054.3 L1006.2 1055.3 L1006.5 1056.3 L1006.7 1057.3 L1007.0 1058.4 L1007.2 1059.4 L1007.5 1060.4 L1007.8 1061.4 L1008.0 1062.4 L1008.3 1063.4 L1008.6 1064.5 L1008.9 1065.5 L1009.2 1066.5 L1009.5 1067.5 L1009.8 1068.5 L1010.1 1069.5 L1010.4 1070.5 L1010.7 1071.5 L1011.0 1072.5 L1011.3 1073.5 L1011.7 1074.5 L1012.0 1075.5 L1012.4 1076.4 L1012.7 1077.4 L1013.1 1078.4 L1013.4 1079.4 L1013.8 1080.4 L1014.2 1081.3 L1014.5 1082.3 L1014.9 1083.3 L1015.3 1084.3 L1015.7 1085.2 L1016.1 1086.2 L1016.5 1087.2 L1016.9 1088.1 L1017.3 1089.1 L1017.7 1090.1 L1018.2 1091.0 L1018.6 1092.0 L1019.0 1092.9 L1019.4 1093.9 L1019.9 1094.8 L1020.3 1095.8 L1020.8 1096.7 L1021.2 1097.7 L1021.7 1098.6 L1022.2 1099.6 L1022.6 1100.5 L1023.1 1101.5 L1023.6 1102.4 L1024.0 1103.4 L1024.5 1104.3 L1025.0 1105.2 L1025.5 1106.2 L1026.0 1107.1 L1026.5 1108.0 L1027.0 1109.0 L1027.5 1109.9 L1028.0 1110.8 L1028.5 1111.8 L1029.0 1112.7 L1029.5 1113.6 L1030.0 1114.5 L1030.5 1115.5 L1031.0 1116.4 L1031.6 1117.3 L1032.1 1118.2 L1032.6 1119.2 L1033.1 1120.1 L1033.7 1121.0 L1034.2 1121.9 L1034.7 1122.9 L1035.3 1123.8 L1035.8 1124.7 L1036.3 1125.6 L1036.9 1126.5 L1037.4 1127.4 L1038.0 1128.4 L1038.5 1129.3 L1039.1 1130.2 L1039.6 1131.1 L1040.2 1132.0 L1040.7 1132.9 L1041.3 1133.8 L1041.8 1134.8 L1042.4 1135.7 L1042.9 1136.6 L1043.5 1137.5 L1044.1 1138.4 L1044.6 1139.3 L1045.2 1140.2 L1045.8 1141.1 L1046.4 1142.0 L1047.0 1142.9 L1047.5 1143.8 L1048.1 1144.6 L1048.7 1145.5 L1049.3 1146.4 L1049.9 1147.3 L1050.5 1148.1 L1051.1 1149.0 L1051.8 1149.9 L1052.4 1150.7 L1053.0 1151.6 L1053.6 1152.4 L1054.3 1153.3 L1054.9 1154.1 L1055.5 1154.9 L1056.2 1155.8 L1056.9 1156.6 L1057.5 1157.4 L1058.2 1158.2 L1058.9 1159.0 L1059.5 1159.8 L1060.2 1160.6 L1060.9 1161.4 L1061.6 1162.1 L1062.3 1162.9 L1063.1 1163.7 L1063.8 1164.4 L1064.5 1165.2 L1065.2 1165.9 L1066.0 1166.6 L1066.7 1167.4 L1067.5 1168.1 L1068.3 1168.8 L1069.0 1169.5 L1069.8 1170.2 L1070.6 1170.8 L1071.4 1171.5 L1072.2 1172.2 L1073.1 1172.8 L1073.9 1173.4 L1074.7 1174.1 L1075.6 1174.7 L1076.4 1175.3 L1077.3 1175.9 L1078.2 1176.5 L1079.1 1177.1 L1079.9 1177.6 L1080.8 1178.2 L1081.8 1178.8 L1082.7 1179.3 L1083.6 1179.8 L1084.5 1180.3 L1085.5 1180.8 L1086.4 1181.3 L1087.4 1181.8 L1088.3 1182.3 L1089.3 1182.8 L1090.3 1183.2 L1091.2 1183.7 L1092.2 1184.1 L1093.2 1184.5 L1094.2 1184.9 L1095.2 1185.3 L1096.2 1185.7 L1097.2 1186.1 L1098.2 1186.5 L1099.2 1186.8 L1100.2 1187.2 L1101.2 1187.5 L1102.2 1187.8 L1103.3 1188.1 L1104.3 1188.4 L1105.3 1188.7 L1106.3 1189.0 L1107.4 1189.3 L1108.4 1189.6 L1109.4 1189.8 L1110.4 1190.1 L1111.5 1190.3 L1112.5 1190.5 L1113.5 1190.7 L1114.5 1190.9 L1115.6 1191.1 L1116.6 1191.3 L1117.6 1191.5 L1118.7 1191.7 L1119.7 1191.9 L1120.7 1192.0 L1121.7 1192.2 L1122.8 1192.4 L1123.8 1192.6 L1124.8 1192.8 L1125.8 1193.0 L1126.9 1193.2 L1127.9 1193.4 L1128.9 1193.6 L1130.0 1193.8 L1131.0 1194.0 L1132.0 1194.3 L1133.0 1194.5 L1134.1 1194.7 L1135.1 1195.0 L1136.1 1195.2 L1137.2 1195.4 L1138.2 1195.7 L1139.2 1195.9 L1140.3 1196.2 L1141.3 1196.4 L1142.3 1196.6 L1143.4 1196.9 L1144.4 1197.1 L1145.4 1197.3 L1146.5 1197.5 L1147.5 1197.7 L1148.5 1198.0 L1149.6 1198.1 L1150.6 1198.3 L1151.7 1198.5 L1152.7 1198.7 L1153.7 1198.8 L1154.8 1199.0 L1155.8 1199.1 L1156.9 1199.2 L1157.9 1199.4 L1159.0 1199.5 L1160.0 1199.5 L1161.1 1199.6 L1162.1 1199.6 L1163.2 1199.7 L1164.2 1199.7 L1165.3 1199.7 L1166.4 1199.7 L1167.4 1199.7 L1168.5 1199.7 L1169.5 1199.7 L1170.6 1199.7 L1171.7 1199.7 L1172.7 1199.7 L1173.8 1199.7 L1174.8 1199.8 L1175.9 1199.8 L1176.9 1199.8 L1178.0 1199.8 L1179.0 1199.9 L1180.1 1199.9 L1181.1 1200.0 L1182.2 1200.1 L1183.2 1200.2 L1184.2 1200.4 L1185.3 1200.5 L1186.3 1200.7 L1187.3 1200.9 L1188.4 1201.1 L1189.4 1201.3 L1190.4 1201.5 L1191.4 1201.7 L1192.5 1202.0 L1193.5 1202.2 L1194.5 1202.5 L1195.5 1202.8 L1196.5 1203.1 L1197.5 1203.4 L1198.6 1203.7 L1199.6 1204.0 L1200.6 1204.3 L1201.6 1204.6 L1202.6 1204.9 L1203.6 1205.2 L1204.6 1205.5 L1205.7 1205.9 L1206.7 1206.2 L1207.7 1206.5 L1208.7 1206.8 L1209.7 1207.1 L1210.7 1207.4 L1211.7 1207.7 L1212.8 1208.0 L1213.8 1208.3 L1214.8 1208.6 L1215.8 1208.9 L1216.8 1209.1 L1217.9 1209.4 L1218.9 1209.7 L1219.9 1209.9 L1221.0 1210.1 L1222.0 1210.4 L1223.0 1210.6 L1224.0 1210.8 L1225.1 1211.0 L1226.1 1211.2 L1227.2 1211.4 L1228.2 1211.6 L1229.2 1211.8 L1230.3 1212.0 L1231.3 1212.2 L1232.3 1212.4 L1233.4 1212.6 L1234.4 1212.8 L1235.4 1213.0 L1236.5 1213.2 L1237.5 1213.4 L1238.5 1213.7 L1239.6 1213.9 L1240.6 1214.1 L1241.6 1214.3 L1242.7 1214.5 L1243.7 1214.8 L1244.7 1215.0 L1245.8 1215.2 L1246.8 1215.4 L1247.8 1215.7 L1248.9 1215.9 L1249.9 1216.1 L1250.9 1216.3 L1251.9 1216.6 L1253.0 1216.8 L1254.0 1217.0 L1255.0 1217.3 L1256.1 1217.5 L1257.1 1217.7 L1258.1 1218.0 L1259.2 1218.2 L1260.2 1218.4 L1261.2 1218.6 L1262.2 1218.9 L1263.3 1219.1 L1264.3 1219.3 L1265.3 1219.5 L1266.4 1219.8 L1267.4 1220.0 L1268.4 1220.2 L1269.5 1220.4 L1270.5 1220.6 L1271.5 1220.8 L1272.6 1221.0 L1273.6 1221.2 L1274.6 1221.4 L1275.7 1221.6 L1276.7 1221.8 L1277.7 1222.0 L1278.8 1222.2 L1279.8 1222.4 L1280.9 1222.6 L1281.9 1222.8 L1282.9 1222.9 L1284.0 1223.1 L1285.0 1223.3 L1286.1 1223.4 L1287.1 1223.6 L1288.2 1223.8 L1289.2 1223.9 L1290.2 1224.0 L1291.3 1224.2 L1292.3 1224.3 L1293.4 1224.4 L1294.4 1224.6 L1295.5 1224.7 L1296.5 1224.8 L1297.6 1224.9 L1298.6 1225.0 L1299.7 1225.1 L1300.7 1225.2 L1301.8 1225.3 L1302.8 1225.4 L1303.9 1225.5 L1305.0 1225.6 L1306.0 1225.7 L1307.1 1225.7 L1308.1 1225.8 L1309.2 1225.9 L1310.2 1226.0 L1311.3 1226.0 L1312.3 1226.1 L1313.4 1226.1 L1314.5 1226.2 L1315.5 1226.3 L1316.6 1226.3 L1317.6 1226.3 L1318.7 1226.4 L1319.7 1226.4 L1320.8 1226.5 L1321.9 1226.5 L1322.9 1226.6 L1324.0 1226.6 L1325.0 1226.6 L1326.1 1226.6 L1327.1 1226.7 L1328.2 1226.7 L1329.3 1226.7 L1330.3 1226.7 L1331.4 1226.8 L1332.4 1226.8 L1333.5 1226.8 L1334.5 1226.8 L1335.6 1226.8 L1336.6 1226.9 L1337.7 1226.9 L1338.8 1226.9 L1339.8 1226.9 L1340.9 1226.9 L1341.9 1226.9 L1343.0 1226.9 L1344.0 1227.0 L1345.1 1227.0 L1346.1 1227.0 L1347.2 1227.0 L1348.3 1227.0 L1349.3 1227.0 L1350.4 1227.0 L1351.4 1227.0 L1352.5 1227.0 L1353.5 1227.1 L1354.6 1227.1 L1355.6 1227.1 L1356.7 1227.1 L1357.8 1227.1 L1358.8 1227.1 L1359.9 1227.1 L1360.9 1227.1 L1362.0 1227.1 L1363.0 1227.1 L1364.1 1227.2 L1365.1 1227.2 L1366.2 1227.2 L1367.3 1227.2 L1368.3 1227.2 L1369.4 1227.2 L1370.4 1227.2 L1371.5 1227.2 L1372.5 1227.2 L1373.6 1227.2 L1374.6 1227.2 L1375.7 1227.3 L1376.8 1227.3 L1377.8 1227.3 L1378.9 1227.3 L1379.9 1227.3 L1381.0 1227.3 L1382.0 1227.3 L1383.1 1227.3 L1384.1 1227.3 L1385.2 1227.3 L1386.3 1227.3 L1387.3 1227.3 L1388.4 1227.4 L1389.4 1227.4 L1390.5 1227.4 L1391.5 1227.4 L1392.6 1227.4 L1393.6 1227.4 L1394.7 1227.4 L1395.8 1227.4 L1396.8 1227.4 L1397.9 1227.4 L1398.9 1227.4 L1400.0 1227.4 L1401.0 1227.4 L1402.1 1227.4 L1403.1 1227.4 L1404.2 1227.5 L1405.3 1227.5 L1406.3 1227.5 L1407.4 1227.5 L1408.4 1227.5 L1409.5 1227.5 L1410.5 1227.5 L1411.6 1227.5 L1412.6 1227.5 L1413.7 1227.5 L1414.8 1227.5 L1415.8 1227.5 L1416.9 1227.5 L1417.9 1227.5 L1419.0 1227.5 L1420.0 1227.5 L1421.1 1227.5 L1422.1 1227.5 L1423.2 1227.6 L1424.3 1227.6 L1425.3 1227.6 L1426.4 1227.6 L1427.4 1227.6 L1428.5 1227.6 L1429.5 1227.6 L1430.6 1227.6 L1431.6 1227.6 L1432.7 1227.6 L1433.8 1227.6 L1434.8 1227.6 L1435.9 1227.6 L1436.9 1227.6 L1438.0 1227.6 L1439.0 1227.6 L1440.1 1227.6 L1441.2 1227.6 L1442.2 1227.6 L1443.3 1227.6 L1444.3 1227.6 L1445.4 1227.6 L1446.4 1227.6 L1447.5 1227.6 L1448.5 1227.6 L1449.6 1227.6 L1450.7 1227.6 L1451.7 1227.6 L1452.8 1227.6 L1453.8 1227.7 L1454.9 1227.7 L1455.9 1227.7 L1457.0 1227.7 L1458.0 1227.7 L1459.1 1227.7 L1460.2 1227.7 L1461.2 1227.7 L1462.3 1227.7 L1463.3 1227.7 L1464.4 1227.7 L1465.4 1227.7 L1466.5 1227.7 L1467.5 1227.7 L1468.6 1227.7 L1469.7 1227.7 L1470.7 1227.7 L1471.8 1227.7 L1472.8 1227.7 L1473.9 1227.7 L1474.9 1227.7 L1476.0 1227.7 L1477.1 1227.7 L1478.1 1227.7 L1479.2 1227.7 L1480.2 1227.7 L1481.3 1227.7 L1482.3 1227.7 L1483.4 1227.7 L1484.4 1227.7 L1485.5 1227.7 L1486.6 1227.7 L1487.6 1227.7 L1488.7 1227.7 L1489.7 1227.7 L1490.8 1227.7 L1491.8 1227.7 L1492.9 1227.7 L1493.9 1227.7 L1495.0 1227.7 L1496.1 1227.7 L1497.1 1227.7 L1498.2 1227.7 L1499.2 1227.7 L1500.3 1227.7 L1501.3 1227.7 L1502.4 1227.7 L1503.5 1227.7 L1504.5 1227.7 L1505.6 1227.7 L1506.6 1227.7 L1507.7 1227.7 L1508.7 1227.7 L1509.8 1227.7 L1510.8 1227.7 L1511.9 1227.7 L1513.0 1227.7 L1514.0 1227.7 L1515.1 1227.7 L1516.1 1227.7 L1517.2 1227.7 L1518.2 1227.7 L1519.3 1227.7 L1520.4 1227.7 L1521.4 1227.7 L1522.5 1227.7 L1523.5 1227.7 L1524.6 1227.7 L1525.6 1227.7 L1526.7 1227.7 L1527.7 1227.7 L1528.8 1227.7 L1529.9 1227.7 L1530.9 1227.7 L1532.0 1227.7 L1533.0 1227.7 L1534.1 1227.7 L1535.1 1227.7 L1536.2 1227.7 L1537.2 1227.7 L1538.3 1227.7 L1539.4 1227.7 L1540.4 1227.7 L1541.5 1227.7 L1542.5 1227.7 L1543.6 1227.7 L1544.6 1227.7 L1545.7 1227.7 L1546.8 1227.7 L1547.8 1227.7 L1548.9 1227.7 L1549.9 1227.7 L1551.0 1227.7 L1552.0 1227.7 L1553.1 1227.6 L1554.1 1227.6 L1555.2 1227.6 L1556.3 1227.6 L1557.3 1227.6 L1558.4 1227.6 L1559.4 1227.6 L1560.5 1227.6 L1561.5 1227.6 L1562.6 1227.6 L1563.7 1227.6 L1564.7 1227.6 L1565.8 1227.6 L1566.8 1227.6 L1567.9 1227.6 L1568.9 1227.6 L1570.0 1227.6 L1571.0 1227.6 L1572.1 1227.6 L1573.2 1227.6 L1574.2 1227.6 L1575.3 1227.6 L1576.3 1227.6 L1577.4 1227.6 L1578.4 1227.6 L1579.5 1227.6 L1580.6 1227.6 L1581.6 1227.6 L1582.7 1227.6 L1583.7 1227.6 L1584.8 1227.6 L1585.8 1227.6 L1586.9 1227.6 L1587.9 1227.6 L1589.0 1227.6 L1590.1 1227.6 L1591.1 1227.6 L1592.2 1227.6 L1593.2 1227.6 L1594.3 1227.6 L1595.3 1227.6 L1596.4 1227.6 L1597.5 1227.6 L1598.5 1227.6 L1599.6 1227.6 L1600.6 1227.5 L1601.7 1227.5 L1602.7 1227.5 L1603.8 1227.5 L1604.8 1227.5 L1605.9 1227.5 L1607.0 1227.5 L1608.0 1227.5 L1609.1 1227.5 L1610.1 1227.5 L1611.2 1227.5 L1612.2 1227.5 L1613.3 1227.5 L1614.3 1227.5 L1615.4 1227.5 L1616.5 1227.5 L1617.5 1227.5 L1618.6 1227.5 L1619.6 1227.5 L1620.7 1227.5 L1621.7 1227.5 L1622.8 1227.5 L1623.9 1227.5 L1624.9 1227.5 L1626.0 1227.5 L1627.0 1227.5 L1628.1 1227.5 L1629.1 1227.5 L1630.2 1227.5 L1631.2 1227.5 L1632.3 1227.5 L1633.4 1227.5 L1634.4 1227.5 L1635.5 1227.5 L1636.5 1227.5 L1637.6 1227.5 L1638.6 1227.5 L1639.7 1227.5 L1640.8 1227.5 L1641.8 1227.4 L1642.9 1227.4 L1643.9 1227.4 L1645.0 1227.4 L1646.0 1227.4 L1647.1 1227.4 L1648.1 1227.4 L1649.2 1227.4 L1650.3 1227.4 L1651.3 1227.4 L1652.4 1227.4 L1653.4 1227.4 L1654.5 1227.4 L1655.5 1227.4 L1656.6 1227.4 L1657.7 1227.4 L1658.7 1227.4 L1659.8 1227.4 L1660.8 1227.4 L1661.9 1227.4 L1662.9 1227.4 L1664.0 1227.4 L1665.0 1227.4 L1666.1 1227.4 L1667.2 1227.4 L1668.2 1227.4 L1669.3 1227.4 L1670.3 1227.4 L1671.4 1227.4 L1672.4 1227.4 L1673.5 1227.4 L1674.6 1227.4 L1675.6 1227.4 L1676.7 1227.4 L1677.7 1227.4 L1678.8 1227.4 L1679.8 1227.4 L1680.9 1227.4 L1681.9 1227.4 L1683.0 1227.4 L1684.1 1227.4 L1685.1 1227.4 L1686.2 1227.4 L1687.2 1227.4 L1688.3 1227.4 L1689.3 1227.4 L1690.4 1227.4 L1691.4 1227.4 L1692.5 1227.4 L1693.6 1227.4 L1694.6 1227.4 L1695.7 1227.4 L1696.7 1227.4 L1697.8 1227.4 L1698.8 1227.3 L1699.9 1227.3 L1701.0 1227.3 L1702.0 1227.3 L1703.1 1227.3 L1704.1 1227.3 L1705.2 1227.3 L1706.2 1227.3 L1707.3 1227.3 L1708.3 1227.3 L1709.4 1227.3 L1710.5 1227.3 L1711.5 1227.3 L1712.6 1227.3 L1713.6 1227.3 L1714.7 1227.3 L1715.7 1227.3 L1716.8 1227.3 L1717.9 1227.3 L1718.9 1227.3 L1720.0 1227.3 L1721.0 1227.3 L1722.1 1227.3 L1723.1 1227.3 L1724.2 1227.3 L1725.2 1227.3 L1726.3 1227.3 L1727.4 1227.3 L1728.4 1227.3 L1729.5 1227.3 L1730.5 1227.3 L1731.6 1227.3 L1732.6 1227.3 L1733.7 1227.3 L1734.7 1227.3 L1735.8 1227.3 L1736.9 1227.3 L1737.9 1227.3 L1739.0 1227.3 L1740.0 1227.3 L1741.1 1227.3 L1742.1 1227.3 L1743.2 1227.3 L1744.3 1227.3 L1745.3 1227.3 L1746.4 1227.3 L1747.4 1227.3 L1748.5 1227.3 L1749.5 1227.3 L1750.6 1227.3 L1751.6 1227.3 L1752.7 1227.4 L1753.8 1227.4 L1754.8 1227.4 L1755.9 1227.4 L1756.9 1227.4 L1758.0 1227.4 L1759.0 1227.4 L1760.1 1227.4 L1761.1 1227.4 L1762.2 1227.4 L1763.3 1227.4 L1764.3 1227.4 L1765.4 1227.4 L1766.4 1227.4 L1767.5 1227.4 L1768.5 1227.4 L1769.6 1227.4 L1770.7 1227.4 L1771.7 1227.4 L1772.8 1227.4 L1773.8 1227.4 L1774.9 1227.4 L1775.9 1227.4 L1777.0 1227.4 L1778.0 1227.4 L1779.1 1227.4 L1780.2 1227.4 L1781.2 1227.4 L1782.3 1227.4 L1783.3 1227.4 L1784.4 1227.4 L1785.4 1227.4 L1786.5 1227.4 L1787.5 1227.4 L1788.6 1227.4 L1789.7 1227.4 L1790.7 1227.4 L1791.8 1227.4 L1792.8 1227.4 L1793.9 1227.5 L1794.9 1227.5 L1796.0 1227.5 L1797.0 1227.5 L1798.1 1227.5 L1799.2 1227.5 L1800.2 1227.5 L1801.3 1227.5 L1802.3 1227.5 L1803.4 1227.5 L1804.4 1227.5 L1805.5 1227.5 L1806.6 1227.5 L1807.6 1227.5 L1808.7 1227.5 L1809.7 1227.5 L1810.8 1227.5 L1811.8 1227.5 L1812.9 1227.5 L1813.9 1227.5 L1815.0 1227.5"/>
<path stroke="#0000ff" d="M80.0 1226.8 L80.8 1226.9 L81.7 1226.9 L82.5 1226.9 L83.3 1226.9 L84.1 1226.9 L84.9 1227.0 L85.8 1227.0 L86.6 1227.0 L87.4 1227.0 L88.2 1227.0 L89.1 1227.0 L89.9 1227.0 L90.7 1227.1 L91.5 1227.1 L92.4 1227.1 L93.2 1227.1 L94.0 1227.1 L94.8 1227.1 L95.7 1227.1 L96.5 1227.1 L97.3 1227.1 L98.1 1227.1 L99.0 1227.1 L99.8 1227.1 L100.6 1227.1 L101.4 1227.1 L102.3 1227.1 L103.1 1227.1 L103.9 1227.1 L104.7 1227.1 L105.6 1227.1 L106.4 1227.1 L107.2 1227.0 L108.0 1227.0 L108.9 1227.0 L109.7 1227.0 L110.5 1227.0 L111.3 1227.0 L112.2 1227.0 L113.0 1227.0 L113.8 1227.0 L114.6 1227.0 L115.5 1226.9 L116.3 1226.9 L117.1 1226.9 L117.9 1226.9 L118.8 1226.9 L119.6 1226.9 L120.4 1226.9 L121.2 1226.9 L122.1 1226.8 L122.9 1226.8 L123.7 1226.8 L124.5 1226.8 L125.4 1226.8 L126.2 1226.8 L127.0 1226.8 L127.8 1226.7 L128.7 1226.7 L129.5 1226.7 L130.3 1226.7 L131.1 1226.7 L132.0 1226.7 L132.8 1226.7 L133.6 1226.7 L134.5 1226.7 L135.3 1226.6 L136.1 1226.6 L136.9 1226.6 L137.8 1226.6 L138.6 1226.6 L139.4 1226.6 L140.2 1226.6 L141.1 1226.6 L141.9 1226.6 L142.7 1226.6 L143.5 1226.6 L144.4 1226.6 L145.2 1226.6 L146.0 1226.6 L146.8 1226.6 L147.6 1226.6 L148.5 1226.6 L149.3 1226.6 L150.1 1226.6 L150.9 1226.6 L151.8 1226.6 L152.6 1226.6 L153.4 1226.6 L154.2 1226.6 L155.1 1226.6 L155.9 1226.6 L156.7 1226.6 L157.5 1226.7 L158.4 1226.7 L159.2 1226.7 L160.0 1226.7 L160.8 1226.7 L161.7 1226.7 L162.5 1226.8 L163.3 1226.8 L164.1 1226.8 L165.0 1226.8 L165.8 1226.9 L166.6 1226.9 L167.4 1226.9 L168.2 1227.0 L169.1 1227.0 L169.9 1227.0 L170.7 1227.1 L171.5 1227.1 L172.4 1227.1 L173.2 1227.2 L174.0 1227.2 L174.8 1227.2 L175.7 1227.3 L176.5 1227.3 L177.3 1227.3 L178.1 1227.4 L178.9 1227.4 L179.8 1227.4 L180.6 1227.5 L181.4 1227.5 L182.2 1227.5 L183.1 1227.6 L183.9 1227.6 L184.7 1227.6 L185.5 1227.6 L186.4 1227.7 L187.2 1227.7 L188.0 1227.7 L188.8 1227.7 L189.7 1227.7 L190.5 1227.8 L191.3 1227.8 L192.1 1227.8 L193.0 1227.8 L193.8 1227.8 L194.6 1227.8 L195.4 1227.8 L196.3 1227.8 L197.1 1227.8 L197.9 1227.8 L198.7 1227.8 L199.6 1227.8 L200.4 1227.7 L201.2 1227.7 L202.0 1227.7 L202.9 1227.7 L203.7 1227.7 L204.5 1227.7 L205.3 1227.6 L206.2 1227.6 L207.0 1227.6 L207.8 1227.6 L208.6 1227.6 L209.5 1227.5 L210.3 1227.5 L211.1 1227.5 L212.0 1227.5 L212.8 1227.4 L213.6 1227.4 L214.4 1227.4 L215.3 1227.4 L216.1 1227.3 L216.9 1227.3 L217.7 1227.3 L218.6 1227.2 L219.4 1227.2 L220.2 1227.2 L221.0 1227.2 L221.9 1227.1 L222.7 1227.1 L223.5 1227.1 L224.3 1227.0 L225.2 1227.0 L226.0 1227.0 L226.8 1227.0 L227.6 1226.9 L228.4 1226.9 L229.3 1226.9 L230.1 1226.9 L230.9 1226.8 L231.7 1226.8 L232.6 1226.8 L233.4 1226.8 L234.2 1226.7 L235.0 1226.7 L235.8 1226.7 L236.7 1226.7 L237.5 1226.7 L238.3 1226.6 L239.1 1226.6 L240.0 1226.6 L240.8 1226.6 L241.6 1226.6 L242.4 1226.5 L243.2 1226.5 L244.1 1226.5 L244.9 1226.5 L245.7 1226.5 L246.5 1226.5 L247.3 1226.5 L248.2 1226.5 L249.0 1226.4 L249.8 1226.4 L250.6 1226.4 L251.5 1226.4 L252.3 1226.4 L253.1 1226.4 L253.9 1226.4 L254.7 1226.4 L255.6 1226.4 L256.4 1226.4 L257.2 1226.4 L258.0 1226.4 L258.9 1226.4 L259.7 1226.4 L260.5 1226.4 L261.3 1226.4 L262.1 1226.4 L263.0 1226.4 L263.8 1226.4 L264.6 1226.4 L265.4 1226.4 L266.3 1226.4 L267.1 1226.4 L267.9 1226.5 L268.7 1226.5 L269.6 1226.5 L270.4 1226.5 L271.2 1226.5 L272.0 1226.5 L272.9 1226.5 L273.7 1226.6 L274.5 1226.6 L275.3 1226.6 L276.2 1226.6 L277.0 1226.7 L277.8 1226.7 L278.7 1226.7 L279.5 1226.7 L280.3 1226.8 L281.1 1226.8 L282.0 1226.8 L282.8 1226.9 L283.6 1226.9 L284.5 1226.9 L285.3 1227.0 L286.1 1227.0 L287.0 1227.0 L287.8 1227.1 L288.6 1227.1 L289.5 1227.1 L290.3 1227.2 L291.1 1227.2 L291.9 1227.2 L292.8 1227.3 L293.6 1227.3 L294.4 1227.4 L295.3 1227.4 L296.1 1227.4 L296.9 1227.5 L297.8 1227.5 L298.6 1227.5 L299.4 1227.6 L300.3 1227.6 L301.1 1227.6 L301.9 1227.7 L302.8 1227.7 L303.6 1227.7 L304.4 1227.8 L305.3 1227.8 L306.1 1227.8 L306.9 1227.9 L307.8 1227.9 L308.6 1227.9 L309.4 1227.9 L310.3 1227.9 L311.1 1228.0 L311.9 1228.0 L312.8 1228.0 L313.6 1228.0 L314.4 1228.0 L315.2 1228.0 L316.1 1228.0 L316.9 1228.0 L317.7 1228.0 L318.6 1228.0 L319.4 1228.0 L320.2 1228.0 L321.0 1228.0 L321.9 1228.0 L322.7 1228.0 L323.5 1228.0 L324.3 1228.0 L325.2 1227.9 L326.0 1227.9 L326.8 1227.9 L327.6 1227.9 L328.5 1227.8 L329.3 1227.8 L330.1 1227.7 L330.9 1227.7 L331.7 1227.6 L332.6 1227.6 L333.4 1227.5 L334.2 1227.5 L335.0 1227.4 L335.8 1227.3 L336.7 1227.2 L337.5 1227.2 L338.3 1227.1 L339.1 1227.0 L339.9 1226.9 L340.7 1226.8 L341.5 1226.7 L342.3 1226.6 L343.1 1226.5 L344.0 1226.4 L344.8 1226.2 L345.6 1226.1 L346.4 1226.0 L347.2 1225.8 L348.0 1225.7 L348.8 1225.6 L349.6 1225.4 L350.4 1225.2 L351.2 1225.1 L352.0 1224.9 L352.8 1224.7 L353.6 1224.5 L354.4 1224.4 L355.2 1224.2 L355.9 1224.0 L356.7 1223.8 L357.5 1223.5 L358.3 1223.3 L359.1 1223.1 L359.9 1222.9 L360.7 1222.6 L361.5 1222.4 L362.2 1222.2 L363.0 1221.9 L363.8 1221.7 L364.6 1221.4 L365.4 1221.1 L366.2 1220.9 L366.9 1220.6 L367.7 1220.3 L368.5 1220.1 L369.3 1219.8 L370.0 1219.5 L370.8 1219.2 L371.6 1218.9 L372.4 1218.6 L373.1 1218.3 L373.9 1218.0 L374.7 1217.7 L375.4 1217.4 L376.2 1217.1 L377.0 1216.8 L377.7 1216.5 L378.5 1216.2 L379.3 1215.9 L380.0 1215.6 L380.8 1215.2 L381.6 1214.9 L382.3 1214.6 L383.1 1214.3 L383.9 1214.0 L384.6 1213.6 L385.4 1213.3 L386.1 1213.0 L386.9 1212.7 L387.7 1212.3 L388.4 1212.0 L389.2 1211.7 L390.0 1211.4 L390.7 1211.0 L391.5 1210.7 L392.2 1210.4 L393.0 1210.1 L393.7 1209.7 L394.5 1209.4 L395.3 1209.1 L396.0 1208.8 L396.8 1208.5 L397.5 1208.1 L398.3 1207.8 L399.0 1207.5 L399.8 1207.2 L400.6 1206.9 L401.3 1206.6 L402.1 1206.3 L402.8 1206.0 L403.6 1205.7 L404.3 1205.4 L405.1 1205.1 L405.9 1204.8 L406.6 1204.5 L407.4 1204.2 L408.1 1203.9 L408.9 1203.6 L409.7 1203.3 L410.4 1203.0 L411.2 1202.7 L412.0 1202.4 L412.7 1202.1 L413.5 1201.8 L414.3 1201.6 L415.0 1201.3 L415.8 1201.0 L416.6 1200.7 L417.3 1200.4 L418.1 1200.1 L418.9 1199.9 L419.7 1199.6 L420.4 1199.3 L421.2 1199.0 L422.0 1198.7 L422.8 1198.5 L423.6 1198.2 L424.3 1197.9 L425.1 1197.7 L425.9 1197.4 L426.7 1197.1 L427.5 1196.9 L428.3 1196.6 L429.1 1196.3 L429.8 1196.1 L430.6 1195.8 L431.4 1195.6 L432.2 1195.3 L433.0 1195.1 L433.8 1194.8 L434.6 1194.6 L435.4 1194.3 L436.2 1194.1 L437.0 1193.8 L437.7 1193.6 L438.5 1193.3 L439.3 1193.1 L440.1 1192.9 L440.9 1192.6 L441.7 1192.4 L442.5 1192.2 L443.3 1191.9 L444.1 1191.7 L444.9 1191.5 L445.7 1191.2 L446.5 1191.0 L447.2 1190.8 L448.0 1190.5 L448.8 1190.3 L449.6 1190.0 L450.4 1189.8 L451.2 1189.6 L452.0 1189.3 L452.8 1189.1 L453.5 1188.8 L454.3 1188.6 L455.1 1188.3 L455.9 1188.1 L456.7 1187.8 L457.4 1187.6 L458.2 1187.3 L459.0 1187.0 L459.8 1186.8 L460.6 1186.5 L461.3 1186.2 L462.1 1185.9 L462.9 1185.6 L463.6 1185.3 L464.4 1185.0 L465.2 1184.7 L465.9 1184.4 L466.7 1184.1 L467.5 1183.8 L468.2 1183.5 L469.0 1183.2 L469.7 1182.8 L470.5 1182.5 L471.2 1182.1 L472.0 1181.8 L472.7 1181.4 L473.5 1181.1 L474.2 1180.7 L475.0 1180.3 L475.7 1180.0 L476.4 1179.6 L477.2 1179.2 L477.9 1178.8 L478.6 1178.4 L479.4 1178.0 L480.1 1177.6 L480.8 1177.2 L481.5 1176.8 L482.3 1176.4 L483.0 1176.0 L483.7 1175.6 L484.4 1175.2 L485.1 1174.7 L485.8 1174.3 L486.5 1173.9 L487.2 1173.5 L487.9 1173.0 L488.6 1172.6 L489.3 1172.2 L490.0 1171.7 L490.7 1171.3 L491.4 1170.8 L492.1 1170.4 L492.8 1170.0 L493.5 1169.5 L494.2 1169.1 L494.9 1168.6 L495.6 1168.2 L496.3 1167.7 L496.9 1167.2 L497.6 1166.8 L498.3 1166.3 L499.0 1165.9 L499.6 1165.4 L500.3 1164.9 L501.0 1164.5 L501.7 1164.0 L502.3 1163.5 L503.0 1163.0 L503.7 1162.6 L504.3 1162.1 L505.0 1161.6 L505.7 1161.1 L506.3 1160.6 L507.0 1160.2 L507.7 1159.7 L508.3 1159.2 L509.0 1158.7 L509.6 1158.2 L510.3 1157.7 L511.0 1157.2 L511.6 1156.7 L512.3 1156.2 L512.9 1155.7 L513.6 1155.2 L514.2 1154.7 L514.9 1154.2 L515.6 1153.7 L516.2 1153.2 L516.9 1152.7 L517.5 1152.2 L518.2 1151.7 L518.8 1151.2 L519.5 1150.6 L520.1 1150.1 L520.7 1149.6 L521.4 1149.1 L522.0 1148.6 L522.7 1148.0 L523.3 1147.5 L523.9 1147.0 L524.6 1146.5 L525.2 1145.9 L525.9 1145.4 L526.5 1144.9 L527.1 1144.3 L527.7 1143.8 L528.4 1143.2 L529.0 1142.7 L529.6 1142.2 L530.2 1141.6 L530.9 1141.1 L531.5 1140.5 L532.1 1140.0 L532.7 1139.4 L533.3 1138.8 L533.9 1138.3 L534.5 1137.7 L535.1 1137.2 L535.7 1136.6 L536.3 1136.0 L536.9 1135.5 L537.5 1134.9 L538.1 1134.3 L538.7 1133.7 L539.3 1133.2 L539.9 1132.6 L540.5 1132.0 L541.0 1131.4 L541.6 1130.8 L542.2 1130.2 L542.8 1129.6 L543.3 1129.0 L543.9 1128.5 L544.5 1127.9 L545.0 1127.2 L545.6 1126.6 L546.1 1126.0 L546.7 1125.4 L547.2 1124.8 L547.8 1124.2 L548.3 1123.6 L548.8 1123.0 L549.4 1122.3 L549.9 1121.7 L550.4 1121.1 L550.9 1120.4 L551.5 1119.8 L552.0 1119.2 L552.5 1118.5 L553.0 1117.9 L553.5 1117.2 L554.0 1116.6 L554.5 1115.9 L555.0 1115.3 L555.5 1114.6 L555.9 1114.0 L556.4 1113.3 L556.9 1112.6 L557.4 1112.0 L557.8 1111.3 L558.3 1110.6 L558.7 1109.9 L559.2 1109.2 L559.6 1108.6 L560.1 1107.9 L560.5 1107.2 L561.0 1106.5 L561.4 1105.8 L561.8 1105.1 L562.2 1104.4 L562.7 1103.7 L563.1 1102.9 L563.5 1102.2 L563.9 1101.5 L564.3 1100.8 L564.7 1100.1 L565.1 1099.3 L565.5 1098.6 L565.9 1097.9 L566.2 1097.2 L566.6 1096.4 L567.0 1095.7 L567.4 1095.0 L567.7 1094.2 L568.1 1093.5 L568.5 1092.7 L568.8 1092.0 L569.2 1091.2 L569.5 1090.5 L569.9 1089.7 L570.3 1089.0 L570.6 1088.2 L570.9 1087.5 L571.3 1086.7 L571.6 1085.9 L572.0 1085.2 L572.3 1084.4 L572.6 1083.7 L573.0 1082.9 L573.3 1082.1 L573.6 1081.4 L574.0 1080.6 L574.3 1079.8 L574.6 1079.1 L575.0 1078.3 L575.3 1077.5 L575.6 1076.8 L575.9 1076.0 L576.2 1075.2 L576.6 1074.5 L576.9 1073.7 L577.2 1072.9 L577.5 1072.2 L577.8 1071.4 L578.2 1070.6 L578.5 1069.9 L578.8 1069.1 L579.1 1068.3 L579.4 1067.5 L579.7 1066.8 L580.1 1066.0 L580.4 1065.2 L580.7 1064.5 L581.0 1063.7 L581.3 1063.0 L581.6 1062.2 L582.0 1061.4 L582.3 1060.7 L582.6 1059.9 L582.9 1059.2 L583.2 1058.4 L583.6 1057.6 L583.9 1056.9 L584.2 1056.1 L584.5 1055.4 L584.9 1054.6 L585.2 1053.9 L585.5 1053.1 L585.8 1052.4 L586.2 1051.6 L586.5 1050.9 L586.9 1050.2 L587.2 1049.4 L587.5 1048.7 L587.9 1048.0 L588.2 1047.2 L588.6 1046.5 L588.9 1045.8 L589.3 1045.1 L589.6 1044.3 L590.0 1043.6 L590.3 1042.9 L590.7 1042.2 L591.1 1041.5 L591.4 1040.7 L591.8 1040.0 L592.2 1039.3 L592.5 1038.6 L592.9 1037.9 L593.3 1037.1 L593.7 1036.4 L594.1 1035.7 L594.5 1035.0 L594.9 1034.3 L595.3 1033.5 L595.7 1032.8 L596.1 1032.1 L596.5 1031.3 L596.9 1030.6 L597.3 1029.8 L597.8 1029.1 L598.2 1028.3 L598.6 1027.6 L599.1 1026.8 L599.5 1026.1 L600.0 1025.4 L600.4 1024.6 L600.9 1023.9 L601.4 1023.2 L601.9 1022.5 L602.4 1021.9 L603.0 1021.2 L603.5 1020.6 L604.1 1020.0 L604.6 1019.4 L605.2 1018.9 L605.8 1018.3 L606.5 1017.9 L607.5 1017.2 L608.5 1016.6 L609.6 1016.1 L610.3 1015.8 L611.1 1015.5 L611.9 1015.3 L612.7 1015.1 L613.5 1015.0 L614.3 1014.9 L615.1 1014.8 L615.9 1014.8 L616.8 1014.7 L617.6 1014.8 L618.4 1014.8 L619.3 1014.9 L620.1 1015.0 L620.9 1015.1 L621.8 1015.3 L622.6 1015.5 L623.4 1015.7 L624.2 1015.9 L625.0 1016.2 L625.7 1016.5 L626.5 1016.7 L627.3 1017.0 L628.1 1017.3 L628.8 1017.6 L629.6 1017.9 L630.4 1018.1 L631.2 1018.4 L631.9 1018.6 L632.7 1018.8 L633.5 1019.0 L634.3 1019.1 L635.1 1019.3 L636.0 1019.4 L636.8 1019.5 L637.6 1019.6 L638.4 1019.7 L639.2 1019.8 L640.1 1019.9 L640.9 1020.0 L641.7 1020.0 L642.5 1020.1 L643.3 1020.2 L644.2 1020.3 L645.0 1020.3 L645.8 1020.4 L646.6 1020.5 L647.4 1020.6 L648.3 1020.6 L649.1 1020.7 L649.9 1020.8 L650.7 1020.9 L651.5 1021.0 L652.3 1021.1 L653.1 1021.2 L654.0 1021.3 L654.8 1021.5 L655.6 1021.6 L656.4 1021.7 L657.2 1021.9 L658.0 1022.1 L658.8 1022.2 L659.6 1022.4 L660.5 1022.6 L661.3 1022.8 L662.1 1023.0 L662.9 1023.3 L663.7 1023.5 L664.5 1023.7 L665.3 1024.0 L666.0 1024.3 L666.8 1024.6 L667.6 1024.8 L668.4 1025.1 L669.2 1025.5 L669.9 1025.8 L670.7 1026.1 L671.4 1026.5 L672.2 1026.8 L672.9 1027.2 L673.6 1027.6 L674.4 1028.0 L675.1 1028.4 L675.8 1028.8 L676.4 1029.3 L677.1 1029.7 L677.8 1030.2 L678.4 1030.7 L679.0 1031.2 L679.6 1031.8 L680.2 1032.4 L680.7 1033.0 L681.2 1033.6 L681.7 1034.2 L682.2 1034.9 L682.6 1035.6 L683.1 1036.3 L683.6 1036.9 L684.0 1037.6 L684.5 1038.3 L685.0 1039.0 L685.5 1039.6 L686.0 1040.3 L686.5 1040.9 L687.1 1041.5 L687.6 1042.1 L688.2 1042.7 L688.8 1043.3 L689.4 1043.8 L690.0 1044.4 L690.6 1045.0 L691.2 1045.5 L691.9 1046.1 L692.5 1046.6 L693.1 1047.2 L693.7 1047.7 L694.3 1048.3 L694.9 1048.8 L695.5 1049.4 L696.1 1050.0 L696.7 1050.5 L697.3 1051.1 L697.9 1051.7 L698.4 1052.3 L699.0 1052.9 L699.5 1053.5 L700.1 1054.1 L700.6 1054.7 L701.2 1055.3 L701.7 1056.0 L702.2 1056.6 L702.8 1057.2 L703.3 1057.8 L703.9 1058.4 L704.4 1059.0 L705.0 1059.6 L705.6 1060.2 L706.1 1060.8 L706.7 1061.4 L707.3 1062.0 L707.8 1062.6 L708.4 1063.2 L709.0 1063.8 L709.6 1064.4 L710.2 1065.0 L710.8 1065.5 L711.4 1066.1 L712.0 1066.7 L712.6 1067.2 L713.3 1067.8 L713.9 1068.3 L714.5 1068.9 L715.2 1069.4 L715.8 1070.0 L716.4 1070.5 L717.1 1071.0 L717.7 1071.5 L718.4 1072.0 L719.1 1072.5 L719.7 1073.0 L720.4 1073.5 L721.1 1073.9 L721.8 1074.4 L722.5 1074.9 L723.1 1075.3 L723.8 1075.7 L724.5 1076.2 L725.3 1076.6 L726.0 1077.0 L726.7 1077.4 L727.4 1077.8 L728.1 1078.1 L728.9 1078.5 L729.6 1078.9 L730.4 1079.2 L731.1 1079.5 L731.9 1079.8 L732.6 1080.2 L733.4 1080.5 L734.1 1080.7 L734.9 1081.0 L735.7 1081.3 L736.5 1081.5 L737.3 1081.8 L738.0 1082.0 L738.8 1082.2 L739.6 1082.4 L740.4 1082.7 L741.2 1082.8 L742.0 1083.0 L742.8 1083.2 L743.7 1083.4 L744.5 1083.5 L745.3 1083.7 L746.1 1083.8 L746.9 1084.0 L747.7 1084.1 L748.6 1084.2 L749.4 1084.3 L750.2 1084.4 L751.0 1084.5 L751.9 1084.6 L752.7 1084.7 L753.5 1084.8 L754.3 1084.8 L755.2 1084.9 L756.0 1084.9 L756.8 1085.0 L757.7 1085.0 L758.5 1085.1 L759.3 1085.1 L760.2 1085.1 L761.0 1085.1 L761.8 1085.1 L762.6 1085.2 L763.5 1085.2 L764.3 1085.2 L765.1 1085.1 L765.9 1085.1 L766.8 1085.1 L767.6 1085.1 L768.4 1085.1 L769.2 1085.2 L770.0 1085.2 L770.8 1085.3 L771.6 1085.3 L772.4 1085.5 L773.2 1085.6 L774.0 1085.8 L774.8 1086.0 L775.6 1086.2 L776.4 1086.5 L777.1 1086.8 L777.9 1087.1 L778.7 1087.4 L779.4 1087.7 L780.2 1088.1 L780.9 1088.4 L781.7 1088.8 L782.4 1089.2 L783.2 1089.5 L783.9 1089.9 L784.7 1090.3 L785.4 1090.6 L786.2 1091.0 L786.9 1091.4 L787.6 1091.7 L788.4 1092.1 L789.1 1092.5 L789.9 1092.8 L790.7 1093.2 L791.4 1093.5 L792.2 1093.8 L793.0 1094.2 L793.7 1094.5 L794.5 1094.8 L795.3 1095.1 L796.1 1095.4 L796.9 1095.6 L797.6 1095.9 L798.4 1096.1 L799.2 1096.3 L800.0 1096.5 L800.8 1096.7 L801.6 1096.8 L802.4 1097.0 L803.2 1097.1 L804.0 1097.2 L804.8 1097.2 L805.6 1097.2 L806.5 1097.2 L807.3 1097.2 L808.1 1097.1 L808.9 1097.0 L809.7 1096.9 L810.5 1096.8 L811.3 1096.6 L812.1 1096.4 L812.9 1096.2 L813.7 1096.0 L814.5 1095.8 L815.3 1095.5 L816.1 1095.3 L816.8 1095.0 L817.6 1094.7 L818.4 1094.4 L819.2 1094.0 L820.0 1093.7 L820.7 1093.4 L821.5 1093.0 L822.3 1092.6 L823.0 1092.3 L823.8 1091.9 L824.5 1091.5 L825.2 1091.1 L826.0 1090.7 L826.7 1090.4 L827.5 1090.0 L828.2 1089.6 L828.9 1089.2 L829.7 1088.8 L830.4 1088.4 L831.1 1088.1 L831.8 1087.7 L832.6 1087.3 L833.3 1087.0 L834.1 1086.6 L834.8 1086.3 L835.5 1086.0 L836.3 1085.6 L837.0 1085.3 L837.8 1085.0 L838.5 1084.8 L839.3 1084.5 L840.1 1084.2 L840.9 1084.0 L841.6 1083.8 L842.4 1083.6 L843.2 1083.4 L844.1 1083.3 L844.9 1083.1 L845.7 1083.0 L846.5 1082.9 L847.3 1082.7 L848.2 1082.6 L849.0 1082.5 L849.8 1082.3 L850.6 1082.1 L851.4 1081.9 L852.2 1081.7 L853.0 1081.4 L853.8 1081.1 L854.5 1080.7 L855.2 1080.4 L856.0 1080.0 L856.7 1079.5 L857.3 1079.1 L858.0 1078.6 L858.6 1078.1 L859.4 1077.2 L860.2 1076.4 L861.0 1075.4 L861.7 1074.5 L862.1 1073.8 L862.5 1073.1 L862.9 1072.4 L863.2 1071.6 L863.6 1070.9 L863.9 1070.1 L864.2 1069.4 L864.5 1068.6 L864.8 1067.8 L865.1 1067.0 L865.4 1066.2 L865.6 1065.4 L865.9 1064.6 L866.1 1063.7 L866.3 1062.9 L866.6 1062.1 L866.8 1061.3 L867.0 1060.4 L867.2 1059.6 L867.5 1058.8 L867.7 1058.0 L867.9 1057.2 L868.1 1056.4 L868.3 1055.5 L868.6 1054.7 L868.8 1053.9 L869.0 1053.1 L869.2 1052.3 L869.4 1051.5 L869.6 1050.7 L869.9 1049.9 L870.1 1049.1 L870.3 1048.3 L870.5 1047.5 L870.7 1046.7 L870.9 1045.9 L871.1 1045.1 L871.3 1044.3 L871.5 1043.5 L871.7 1042.7 L871.9 1041.9 L872.1 1041.1 L872.3 1040.3 L872.5 1039.6 L872.7 1038.8 L872.9 1038.0 L873.1 1037.2 L873.3 1036.4 L873.5 1035.6 L873.7 1034.8 L873.9 1034.0 L874.1 1033.2 L874.2 1032.4 L874.4 1031.6 L874.6 1030.8 L874.8 1030.0 L875.0 1029.2 L875.2 1028.5 L875.4 1027.7 L875.5 1026.9 L875.7 1026.1 L875.9 1025.3 L876.1 1024.5 L876.2 1023.7 L876.4 1022.9 L876.6 1022.1 L876.8 1021.3 L876.9 1020.5 L877.1 1019.7 L877.3 1018.9 L877.4 1018.1 L877.6 1017.3 L877.8 1016.4 L878.0 1015.6 L878.1 1014.8 L878.3 1014.0 L878.5 1013.2 L878.6 1012.4 L878.8 1011.6 L879.0 1010.8 L879.1 1010.0 L879.3 1009.2 L879.5 1008.4 L879.6 1007.6 L879.8 1006.8 L880.0 1006.0 L880.1 1005.2 L880.3 1004.3 L880.5 1003.5 L880.6 1002.7 L880.8 1001.9 L881.0 1001.1 L881.2 1000.3 L881.3 999.5 L881.5 998.7 L881.7 997.9 L881.8 997.1 L882.0 996.3 L882.2 995.5 L882.4 994.6 L882.5 993.8 L882.7 993.0 L882.9 992.2 L883.1 991.4 L883.3 990.6 L883.4 989.8 L883.6 989.0 L883.8 988.2 L884.0 987.4 L884.2 986.6 L884.4 985.8 L884.6 985.0 L884.8 984.2 L885.0 983.4 L885.2 982.6 L885.3 981.8 L885.5 981.0 L885.7 980.2 L886.0 979.3 L886.2 978.5 L886.4 977.7 L886.6 976.9 L886.8 976.1 L887.0 975.4 L887.2 974.6 L887.4 973.8 L887.7 973.0 L887.9 972.2 L888.1 971.4 L888.3 970.6 L888.6 969.8 L888.8 969.0 L889.0 968.2 L889.3 967.4 L889.5 966.6 L889.7 965.8 L890.0 965.0 L890.2 964.3 L890.5 963.5 L890.7 962.7 L891.0 961.9 L891.3 961.1 L891.5 960.3 L891.8 959.5 L892.1 958.8 L892.3 958.0 L892.6 957.2 L892.9 956.4 L893.2 955.7 L893.4 954.9 L893.7 954.1 L894.0 953.3 L894.3 952.6 L894.6 951.8 L894.9 951.0 L895.2 950.2 L895.5 949.5 L895.8 948.7 L896.1 947.9 L896.4 947.2 L896.7 946.4 L897.0 945.6 L897.3 944.8 L897.6 944.1 L897.9 943.3 L898.2 942.5 L898.5 941.8 L898.8 941.0 L899.1 940.2 L899.5 939.5 L899.8 938.7 L900.1 938.0 L900.4 937.2 L900.7 936.4 L901.0 935.7 L901.3 934.9 L901.7 934.1 L902.0 933.4 L902.3 932.6 L902.6 931.8 L902.9 931.1 L903.3 930.3 L903.6 929.5 L903.9 928.8 L904.2 928.0 L904.5 927.3 L904.8 926.5 L905.1 925.7 L905.5 925.0 L905.8 924.2 L906.1 923.4 L906.4 922.7 L906.7 921.9 L907.0 921.1 L907.3 920.4 L907.6 919.6 L907.9 918.8 L908.2 918.1 L908.5 917.3 L908.9 916.6 L909.2 915.8 L909.5 915.0 L909.7 914.2 L910.0 913.5 L910.3 912.7 L910.6 911.9 L910.9 911.2 L911.2 910.4 L911.5 909.6 L911.8 908.9 L912.1 908.1 L912.3 907.3 L912.6 906.5 L912.9 905.8 L913.2 905.0 L913.4 904.2 L913.7 903.4 L914.0 902.7 L914.2 901.9 L914.5 901.1 L914.7 900.3 L915.0 899.5 L915.2 898.8 L915.5 898.0 L915.7 897.2 L916.0 896.4 L916.2 895.6 L916.4 894.8 L916.7 894.0 L916.9 893.3 L917.1 892.5 L917.3 891.7 L917.5 890.9 L917.7 890.1 L917.9 889.3 L918.1 888.5 L918.3 887.7 L918.5 886.9 L918.7 886.1 L918.9 885.3 L919.1 884.5 L919.3 883.7 L919.5 882.9 L919.7 882.1 L919.8 881.3 L920.0 880.5 L920.2 879.7 L920.3 878.9 L920.5 878.1 L920.7 877.3 L920.8 876.5 L921.0 875.7 L921.1 874.9 L921.3 874.0 L921.4 873.2 L921.6 872.4 L921.7 871.6 L921.9 870.8 L922.0 870.0 L922.1 869.2 L922.3 868.4 L922.4 867.5 L922.5 866.7 L922.7 865.9 L922.8 865.1 L922.9 864.3 L923.0 863.5 L923.2 862.7 L923.3 861.8 L923.4 861.0 L923.5 860.2 L923.6 859.4 L923.7 858.6 L923.9 857.7 L924.0 856.9 L924.1 856.1 L924.2 855.3 L924.3 854.5 L924.4 853.6 L924.5 852.8 L924.6 852.0 L924.7 851.2 L924.8 850.4 L924.9 849.5 L925.0 848.7 L925.1 847.9 L925.2 847.1 L925.3 846.3 L925.4 845.4 L925.5 844.6 L925.6 843.8 L925.7 843.0 L925.8 842.1 L925.9 841.3 L925.9 840.5 L926.0 839.7 L926.1 838.9 L926.2 838.0 L926.3 837.2 L926.4 836.4 L926.5 835.6 L926.6 834.7 L926.7 833.9 L926.8 833.1 L926.8 832.3 L926.9 831.5 L927.0 830.6 L927.1 829.8 L927.2 829.0 L927.3 828.2 L927.4 827.3 L927.4 826.5 L927.5 825.7 L927.6 824.9 L927.7 824.1 L927.8 823.2 L927.9 822.4 L927.9 821.6 L928.0 820.8 L928.1 820.0 L928.2 819.1 L928.3 818.3 L928.3 817.5 L928.4 816.7 L928.5 815.8 L928.6 815.0 L928.6 814.2 L928.7 813.4 L928.8 812.6 L928.9 811.7 L928.9 810.9 L929.0 810.1 L929.1 809.3 L929.2 808.4 L929.2 807.6 L929.3 806.8 L929.4 806.0 L929.5 805.2 L929.5 804.3 L929.6 803.5 L929.7 802.7 L929.8 801.9 L929.8 801.0 L929.9 800.2 L930.0 799.4 L930.0 798.6 L930.1 797.8 L930.2 796.9 L930.2 796.1 L930.3 795.3 L930.4 794.5 L930.4 793.6 L930.5 792.8 L930.6 792.0 L930.6 791.2 L930.7 790.4 L930.8 789.5 L930.8 788.7 L930.9 787.9 L931.0 787.1 L931.0 786.2 L931.1 785.4 L931.2 784.6 L931.2 783.8 L931.3 783.0 L931.3 782.1 L931.4 781.3 L931.5 780.5 L931.5 779.7 L931.6 778.8 L931.7 778.0 L931.7 777.2 L931.8 776.4 L931.8 775.6 L931.9 774.7 L932.0 773.9 L932.0 773.1 L932.1 772.3 L932.1 771.4 L932.2 770.6 L932.2 769.8 L932.3 769.0 L932.4 768.2 L932.4 767.3 L932.5 766.5 L932.5 765.7 L932.6 764.9 L932.6 764.0 L932.7 763.2 L932.8 762.4 L932.8 761.6 L932.9 760.8 L932.9 759.9 L933.0 759.1 L933.0 758.3 L933.1 757.5 L933.1 756.6 L933.2 755.8 L933.2 755.0 L933.3 754.2 L933.3 753.4 L933.4 752.5 L933.4 751.7 L933.5 750.9 L933.6 750.1 L933.6 749.2 L933.7 748.4 L933.7 747.6 L933.8 746.8 L933.8 746.0 L933.9 745.1 L933.9 744.3 L934.0 743.5 L934.0 742.7 L934.1 741.8 L934.1 741.0 L934.2 740.2 L934.2 739.4 L934.3 738.5 L934.3 737.7 L934.4 736.9 L934.4 736.1 L934.4 735.3 L934.5 734.4 L934.5 733.6 L934.6 732.8 L934.6 732.0 L934.7 731.1 L934.7 730.3 L934.8 729.5 L934.8 728.7 L934.9 727.9 L934.9 727.0 L935.0 726.2 L935.0 725.4 L935.1 724.6 L935.1 723.7 L935.2 722.9 L935.2 722.1 L935.2 721.3 L935.3 720.4 L935.3 719.6 L935.4 718.8 L935.4 718.0 L935.5 717.2 L935.5 716.3 L935.6 715.5 L935.6 714.7 L935.6 713.9 L935.7 713.0 L935.7 712.2 L935.8 711.4 L935.8 710.6 L935.9 709.7 L935.9 708.9 L936.0 708.1 L936.0 707.3 L936.0 706.5 L936.1 705.6 L936.1 704.8 L936.2 704.0 L936.2 703.2 L936.3 702.3 L936.3 701.5 L936.4 700.7 L936.4 699.9 L936.4 699.0 L936.5 698.2 L936.5 697.4 L936.6 696.6 L936.6 695.8 L936.7 694.9 L936.7 694.1 L936.7 693.3 L936.8 692.5 L936.8 691.6 L936.9 690.8 L936.9 690.0 L937.0 689.2 L937.0 688.3 L937.0 687.5 L937.1 686.7 L937.1 685.9 L937.2 685.0 L937.2 684.2 L937.2 683.4 L937.3 682.6 L937.3 681.8 L937.4 680.9 L937.4 680.1 L937.5 679.3 L937.5 678.5 L937.5 677.6 L937.6 676.8 L937.6 676.0 L937.7 675.2 L937.7 674.3 L937.8 673.5 L937.8 672.7 L937.8 671.9 L937.9 671.0 L937.9 670.2 L938.0 669.4 L938.0 668.6 L938.0 667.7 L938.1 666.9 L938.1 666.1 L938.2 665.3 L938.2 664.5 L938.3 663.6 L938.3 662.8 L938.3 662.0 L938.4 661.2 L938.4 660.3 L938.5 659.5 L938.5 658.7 L938.5 657.9 L938.6 657.0 L938.6 656.2 L938.7 655.4 L938.7 654.6 L938.8 653.7 L938.8 652.9 L938.8 652.1 L938.9 651.3 L938.9 650.4 L939.0 649.6 L939.0 648.8 L939.0 648.0 L939.1 647.1 L939.1 646.3 L939.2 645.5 L939.2 644.7 L939.2 643.8 L939.3 643.0 L939.3 642.2 L939.4 641.4 L939.4 640.6 L939.4 639.7 L939.5 638.9 L939.5 638.1 L939.6 637.3 L939.6 636.4 L939.7 635.6 L939.7 634.8 L939.7 634.0 L939.8 633.1 L939.8 632.3 L939.9 631.5 L939.9 630.7 L939.9 629.8 L940.0 629.0 L940.0 628.2 L940.1 627.4 L940.1 626.5 L940.1 625.7 L940.2 624.9 L940.2 624.1 L940.3 623.2 L940.3 622.4 L940.3 621.6 L940.4 620.8 L940.4 619.9 L940.5 619.1 L940.5 618.3 L940.5 617.5 L940.6 616.6 L940.6 615.8 L940.7 615.0 L940.7 614.2 L940.7 613.3 L940.8 612.5 L940.8 611.7 L940.9 610.9 L940.9 610.1 L940.9 609.2 L941.0 608.4 L941.0 607.6 L941.1 606.8 L941.1 605.9 L941.2 605.1 L941.2 604.3 L941.2 603.5 L941.3 602.6 L941.3 601.8 L941.4 601.0 L941.4 600.2 L941.4 599.3 L941.5 598.5 L941.5 597.7 L941.6 596.9 L941.6 596.0 L941.6 595.2 L941.7 594.4 L941.7 593.6 L941.8 592.7 L941.8 591.9 L941.8 591.1 L941.9 590.3 L941.9 589.4 L942.0 588.6 L942.0 587.8 L942.0 587.0 L942.1 586.1 L942.1 585.3 L942.2 584.5 L942.2 583.7 L942.2 582.8 L942.3 582.0 L942.3 581.2 L942.4 580.4 L942.4 579.5 L942.4 578.7 L942.5 577.9 L942.5 577.1 L942.6 576.2 L942.6 575.4 L942.6 574.6 L942.7 573.8 L942.7 572.9 L942.8 572.1 L942.8 571.3 L942.8 570.5 L942.9 569.7 L942.9 568.8 L943.0 568.0 L943.0 567.2 L943.0 566.4 L943.1 565.5 L943.1 564.7 L943.2 563.9 L943.2 563.1 L943.2 562.2 L943.3 561.4 L943.3 560.6 L943.4 559.8 L943.4 558.9 L943.4 558.1 L943.5 557.3 L943.5 556.5 L943.6 555.6 L943.6 554.8 L943.6 554.0 L943.7 553.2 L943.7 552.3 L943.8 551.5 L943.8 550.7 L943.8 549.9 L943.9 549.0 L943.9 548.2 L944.0 547.4 L944.0 546.6 L944.0 545.7 L944.1 544.9 L944.1 544.1 L944.2 543.3 L944.2 542.4 L944.2 541.6 L944.3 540.8 L944.3 540.0 L944.4 539.2 L944.4 538.3 L944.4 537.5 L944.5 536.7 L944.5 535.9 L944.6 535.0 L944.6 534.2 L944.7 533.4 L944.7 532.6 L944.7 531.7 L944.8 530.9 L944.8 530.1 L944.9 529.3 L944.9 528.4 L944.9 527.6 L945.0 526.8 L945.0 526.0 L945.1 525.1 L945.1 524.3 L945.1 523.5 L945.2 522.7 L945.2 521.8 L945.3 521.0 L945.3 520.2 L945.3 519.4 L945.4 518.6 L945.4 517.7 L945.5 516.9 L945.5 516.1 L945.6 515.3 L945.6 514.4 L945.6 513.6 L945.7 512.8 L945.7 512.0 L945.8 511.1 L945.8 510.3 L945.8 509.5 L945.9 508.7 L945.9 507.8 L946.0 507.0 L946.0 506.2 L946.0 505.4 L946.1 504.5 L946.1 503.7 L946.2 502.9 L946.2 502.1 L946.3 501.3 L946.3 500.4 L946.3 499.6 L946.4 498.8 L946.4 498.0 L946.5 497.1 L946.5 496.3 L946.5 495.5 L946.6 494.7 L946.6 493.8 L946.7 493.0 L946.7 492.2 L946.8 491.4 L946.8 490.5 L946.8 489.7 L946.9 488.9 L946.9 488.1 L947.0 487.3 L947.0 486.4 L947.1 485.6 L947.1 484.8 L947.1 484.0 L947.2 483.1 L947.2 482.3 L947.3 481.5 L947.3 480.7 L947.3 479.8 L947.4 479.0 L947.4 478.2 L947.5 477.4 L947.5 476.6 L947.6 475.7 L947.6 474.9 L947.6 474.1 L947.7 473.3 L947.7 472.4 L947.8 471.6 L947.8 470.8 L947.9 470.0 L947.9 469.1 L947.9 468.3 L948.0 467.5 L948.0 466.7 L948.1 465.9 L948.1 465.0 L948.2 464.2 L948.2 463.4 L948.2 462.6 L948.3 461.7 L948.3 460.9 L948.4 460.1 L948.4 459.3 L948.5 458.5 L948.5 457.6 L948.6 456.8 L948.6 456.0 L948.6 455.2 L948.7 454.3 L948.7 453.5 L948.8 452.7 L948.8 451.9 L948.9 451.0 L948.9 450.2 L948.9 449.4 L949.0 448.6 L949.0 447.8 L949.1 446.9 L949.1 446.1 L949.2 445.3 L949.2 444.5 L949.3 443.6 L949.3 442.8 L949.3 442.0 L949.4 441.2 L949.4 440.4 L949.5 439.5 L949.5 438.7 L949.6 437.9 L949.6 437.1 L949.7 436.2 L949.7 435.4 L949.8 434.6 L949.8 433.8 L949.8 433.0 L949.9 432.1 L949.9 431.3 L950.0 430.5 L950.0 429.7 L950.1 428.9 L950.1 428.0 L950.2 427.2 L950.2 426.4 L950.2 425.6 L950.3 424.7 L950.3 423.9 L950.4 423.1 L950.4 422.3 L950.5 421.5 L950.5 420.6 L950.6 419.8 L950.6 419.0 L950.7 418.2 L950.7 417.3 L950.8 416.5 L950.8 415.7 L950.8 414.9 L950.9 414.1 L950.9 413.2 L951.0 412.4 L951.0 411.6 L951.1 410.8 L951.1 410.0 L951.2 409.1 L951.2 408.3 L951.3 407.5 L951.3 406.7 L951.4 405.8 L951.4 405.0 L951.5 404.2 L951.5 403.4 L951.6 402.5 L951.6 401.7 L951.6 400.9 L951.7 400.1 L951.7 399.3 L951.8 398.4 L951.8 397.6 L951.9 396.8 L951.9 396.0 L952.0 395.1 L952.0 394.3 L952.1 393.5 L952.1 392.7 L952.2 391.8 L952.2 391.0 L952.3 390.2 L952.3 389.4 L952.4 388.5 L952.4 387.7 L952.5 386.9 L952.5 386.1 L952.6 385.2 L952.6 384.4 L952.7 383.6 L952.7 382.8 L952.8 381.9 L952.8 381.1 L952.9 380.3 L952.9 379.5 L953.0 378.6 L953.0 377.8 L953.1 377.0 L953.1 376.2 L953.2 375.3 L953.2 374.5 L953.3 373.7 L953.3 372.8 L953.4 372.0 L953.4 371.2 L953.5 370.4 L953.5 369.5 L953.6 368.7 L953.6 367.9 L953.7 367.0 L953.7 366.2 L953.8 365.4 L953.8 364.6 L953.9 363.7 L954.0 362.9 L954.1 362.1 L954.1 361.3 L954.2 360.4 L954.3 359.6 L954.4 358.8 L954.5 358.0 L954.6 357.2 L954.7 356.4 L954.9 355.5 L955.0 354.7 L955.1 353.9 L955.3 353.1 L955.5 352.3 L955.6 351.5 L955.8 350.7 L956.0 349.9 L956.2 349.1 L956.4 348.3 L956.7 347.6 L956.9 346.8 L957.2 346.0 L957.4 345.2 L957.7 344.4 L958.0 343.7 L958.3 342.9 L958.6 342.2 L959.0 341.4 L959.5 342.5 L959.9 343.6 L960.3 344.7 L960.6 345.8 L960.8 347.0 L961.0 348.1 L961.1 349.3 L961.2 350.5 L961.3 351.7 L961.4 352.9 L961.4 354.1 L961.5 355.3 L961.6 356.5 L961.7 357.6 L961.7 358.8 L961.8 360.0 L961.9 361.2 L962.0 362.4 L962.1 363.6 L962.2 364.8 L962.3 366.0 L962.4 367.1 L962.5 368.3 L962.6 369.5 L962.7 370.7 L962.8 371.9 L962.9 373.1 L963.0 374.3 L963.1 375.4 L963.2 376.6 L963.3 377.8 L963.5 379.0 L963.6 380.2 L963.7 381.4 L963.8 382.5 L963.9 383.7 L964.0 384.9 L964.1 386.1 L964.2 387.3 L964.3 388.5 L964.4 389.6 L964.5 390.8 L964.6 392.0 L964.7 393.2 L964.8 394.4 L964.9 395.6 L965.0 396.7 L965.1 397.9 L965.2 399.1 L965.2 400.3 L965.3 401.5 L965.4 402.7 L965.5 403.9 L965.6 405.0 L965.7 406.2 L965.8 407.4 L965.8 408.6 L965.9 409.8 L966.0 411.0 L966.1 412.2 L966.2 413.3 L966.2 414.5 L966.3 415.7 L966.4 416.9 L966.5 418.1 L966.6 419.3 L966.6 420.5 L966.7 421.6 L966.8 422.8 L966.9 424.0 L966.9 425.2 L967.0 426.4 L967.1 427.6 L967.1 428.8 L967.2 429.9 L967.3 431.1 L967.4 432.3 L967.4 433.5 L967.5 434.7 L967.6 435.9 L967.6 437.1 L967.7 438.2 L967.8 439.4 L967.8 440.6 L967.9 441.8 L968.0 443.0 L968.0 444.2 L968.1 445.4 L968.2 446.5 L968.2 447.7 L968.3 448.9 L968.4 450.1 L968.4 451.3 L968.5 452.5 L968.6 453.7 L968.6 454.9 L968.7 456.0 L968.8 457.2 L968.8 458.4 L968.9 459.6 L969.0 460.8 L969.0 462.0 L969.1 463.2 L969.2 464.3 L969.2 465.5 L969.3 466.7 L969.4 467.9 L969.4 469.1 L969.5 470.3 L969.6 471.5 L969.6 472.7 L969.7 473.8 L969.8 475.0 L969.8 476.2 L969.9 477.4 L970.0 478.6 L970.0 479.8 L970.1 481.0 L970.2 482.2 L970.2 483.3 L970.3 484.5 L970.4 485.7 L970.4 486.9 L970.5 488.1 L970.5 489.3 L970.6 490.5 L970.7 491.7 L970.7 492.8 L970.8 494.0 L970.9 495.2 L970.9 496.4 L971.0 497.6 L971.1 498.8 L971.1 500.0 L971.2 501.1 L971.3 502.3 L971.3 503.5 L971.4 504.7 L971.4 505.9 L971.5 507.1 L971.6 508.3 L971.6 509.5 L971.7 510.6 L971.8 511.8 L971.8 513.0 L971.9 514.2 L972.0 515.4 L972.0 516.6 L972.1 517.8 L972.1 519.0 L972.2 520.2 L972.3 521.3 L972.3 522.5 L972.4 523.7 L972.5 524.9 L972.5 526.1 L972.6 527.3 L972.7 528.5 L972.7 529.7 L972.8 530.8 L972.8 532.0 L972.9 533.2 L973.0 534.4 L973.0 535.6 L973.1 536.8 L973.2 538.0 L973.2 539.2 L973.3 540.3 L973.3 541.5 L973.4 542.7 L973.5 543.9 L973.5 545.1 L973.6 546.3 L973.7 547.5 L973.7 548.7 L973.8 549.8 L973.8 551.0 L973.9 552.2 L974.0 553.4 L974.0 554.6 L974.1 555.8 L974.1 557.0 L974.2 558.2 L974.3 559.3 L974.3 560.5 L974.4 561.7 L974.5 562.9 L974.5 564.1 L974.6 565.3 L974.6 566.5 L974.7 567.7 L974.8 568.9 L974.8 570.0 L974.9 571.2 L974.9 572.4 L975.0 573.6 L975.1 574.8 L975.1 576.0 L975.2 577.2 L975.3 578.4 L975.3 579.5 L975.4 580.7 L975.4 581.9 L975.5 583.1 L975.6 584.3 L975.6 585.5 L975.7 586.7 L975.7 587.9 L975.8 589.0 L975.9 590.2 L975.9 591.4 L976.0 592.6 L976.1 593.8 L976.1 595.0 L976.2 596.2 L976.2 597.4 L976.3 598.5 L976.4 599.7 L976.4 600.9 L976.5 602.1 L976.5 603.3 L976.6 604.5 L976.7 605.7 L976.7 606.9 L976.8 608.1 L976.8 609.2 L976.9 610.4 L977.0 611.6 L977.0 612.8 L977.1 614.0 L977.1 615.2 L977.2 616.4 L977.3 617.6 L977.3 618.7 L977.4 619.9 L977.5 621.1 L977.5 622.3 L977.6 623.5 L977.6 624.7 L977.7 625.9 L977.8 627.1 L977.8 628.2 L977.9 629.4 L977.9 630.6 L978.0 631.8 L978.1 633.0 L978.1 634.2 L978.2 635.4 L978.2 636.6 L978.3 637.7 L978.4 638.9 L978.4 640.1 L978.5 641.3 L978.5 642.5 L978.6 643.7 L978.7 644.9 L978.7 646.1 L978.8 647.2 L978.8 648.4 L978.9 649.6 L979.0 650.8 L979.0 652.0 L979.1 653.2 L979.1 654.4 L979.2 655.6 L979.3 656.7 L979.3 657.9 L979.4 659.1 L979.5 660.3 L979.5 661.5 L979.6 662.7 L979.6 663.9 L979.7 665.0 L979.8 666.2 L979.8 667.4 L979.9 668.6 L979.9 669.8 L980.0 671.0 L980.1 672.2 L980.1 673.4 L980.2 674.5 L980.2 675.7 L980.3 676.9 L980.4 678.1 L980.4 679.3 L980.5 680.5 L980.5 681.7 L980.6 682.9 L980.7 684.0 L980.7 685.2 L980.8 686.4 L980.9 687.6 L980.9 688.8 L981.0 690.0 L981.0 691.2 L981.1 692.3 L981.2 693.5 L981.2 694.7 L981.3 695.9 L981.3 697.1 L981.4 698.3 L981.5 699.5 L981.5 700.6 L981.6 701.8 L981.6 703.0 L981.7 704.2 L981.8 705.4 L981.8 706.6 L981.9 707.8 L982.0 709.0 L982.0 710.1 L982.1 711.3 L982.1 712.5 L982.2 713.7 L982.3 714.9 L982.3 716.1 L982.4 717.3 L982.4 718.4 L982.5 719.6 L982.6 720.8 L982.6 722.0 L982.7 723.2 L982.8 724.4 L982.8 725.6 L982.9 726.7 L982.9 727.9 L983.0 729.1 L983.1 730.3 L983.1 731.5 L983.2 732.7 L983.3 733.9 L983.3 735.0 L983.4 736.2 L983.5 737.4 L983.5 738.6 L983.6 739.8 L983.6 741.0 L983.7 742.2 L983.8 743.3 L983.8 744.5 L983.9 745.7 L984.0 746.9 L984.0 748.1 L984.1 749.3 L984.2 750.5 L984.2 751.6 L984.3 752.8 L984.4 754.0 L984.4 755.2 L984.5 756.4 L984.5 757.6 L984.6 758.8 L984.7 759.9 L984.7 761.1 L984.8 762.3 L984.9 763.5 L984.9 764.7 L985.0 765.9 L985.1 767.1 L985.1 768.2 L985.2 769.4 L985.3 770.6 L985.3 771.8 L985.4 773.0 L985.5 774.2 L985.5 775.4 L985.6 776.5 L985.7 777.7 L985.8 778.9 L985.8 780.1 L985.9 781.3 L986.0 782.5 L986.0 783.7 L986.1 784.9 L986.2 786.0 L986.2 787.2 L986.3 788.4 L986.4 789.6 L986.4 790.8 L986.5 792.0 L986.6 793.2 L986.7 794.3 L986.7 795.5 L986.8 796.7 L986.9 797.9 L986.9 799.1 L987.0 800.3 L987.1 801.5 L987.2 802.6 L987.2 803.8 L987.3 805.0 L987.4 806.2 L987.5 807.4 L987.5 808.6 L987.6 809.8 L987.7 810.9 L987.8 812.1 L987.8 813.3 L987.9 814.5 L988.0 815.7 L988.1 816.9 L988.1 818.1 L988.2 819.2 L988.3 820.4 L988.4 821.6 L988.4 822.8 L988.5 824.0 L988.6 825.2 L988.7 826.4 L988.7 827.5 L988.8 828.7 L988.9 829.9 L989.0 831.1 L989.1 832.3 L989.1 833.5 L989.2 834.7 L989.3 835.9 L989.4 837.0 L989.4 838.2 L989.5 839.4 L989.6 840.6 L989.7 841.8 L989.8 843.0 L989.9 844.2 L989.9 845.3 L990.0 846.5 L990.1 847.7 L990.2 848.9 L990.3 850.1 L990.3 851.3 L990.4 852.5 L990.5 853.7 L990.6 854.8 L990.7 856.0 L990.8 857.2 L990.9 858.4 L990.9 859.6 L991.0 860.8 L991.1 862.0 L991.2 863.1 L991.3 864.3 L991.4 865.5 L991.5 866.7 L991.5 867.9 L991.6 869.1 L991.7 870.3 L991.8 871.5 L991.9 872.6 L992.0 873.8 L992.1 875.0 L992.2 876.2 L992.3 877.4 L992.3 878.6 L992.4 879.8 L992.5 881.0 L992.6 882.1 L992.7 883.3 L992.8 884.5 L992.9 885.7 L993.0 886.9 L993.1 888.1 L993.2 889.3 L993.3 890.5 L993.4 891.6 L993.5 892.8 L993.6 894.0 L993.7 895.2 L993.8 896.4 L993.9 897.6 L993.9 898.8 L994.0 900.0 L994.1 901.1 L994.2 902.3 L994.3 903.5 L994.4 904.7 L994.5 905.9 L994.6 907.1 L994.7 908.3 L994.8 909.5 L995.0 910.7 L995.1 911.8 L995.2 913.0 L995.3 914.2 L995.4 915.4 L995.5 916.6 L995.6 917.8 L995.7 919.0 L995.8 920.2 L995.9 921.3 L996.0 922.5 L996.1 923.7 L996.2 924.9 L996.4 926.1 L996.5 927.3 L996.6 928.5 L996.7 929.6 L996.8 930.8 L996.9 932.0 L997.1 933.2 L997.2 934.4 L997.3 935.6 L997.4 936.8 L997.6 937.9 L997.7 939.1 L997.8 940.3 L997.9 941.5 L998.1 942.7 L998.2 943.9 L998.3 945.0 L998.5 946.2 L998.6 947.4 L998.8 948.6 L998.9 949.8 L999.0 951.0 L999.2 952.1 L999.3 953.3 L999.5 954.5 L999.6 955.7 L999.8 956.9 L999.9 958.0 L1000.1 959.2 L1000.2 960.4 L1000.4 961.6 L1000.5 962.8 L1000.7 963.9 L1000.8 965.1 L1001.0 966.3 L1001.2 967.5 L1001.3 968.6 L1001.5 969.8 L1001.7 971.0 L1001.8 972.2 L1002.0 973.3 L1002.2 974.5 L1002.4 975.7 L1002.6 976.9 L1002.7 978.0 L1002.9 979.2 L1003.1 980.4 L1003.3 981.6 L1003.5 982.7 L1003.7 983.9 L1003.9 985.1 L1004.1 986.2 L1004.3 987.4 L1004.5 988.6 L1004.7 989.7 L1004.9 990.9 L1005.1 992.1 L1005.3 993.2 L1005.5 994.4 L1005.7 995.6 L1005.9 996.7 L1006.2 997.9 L1006.4 999.1 L1006.6 1000.2 L1006.8 1001.4 L1007.1 1002.5 L1007.3 1003.7 L1007.5 1004.9 L1007.8 1006.0 L1008.0 1007.2 L1008.3 1008.3 L1008.5 1009.5 L1008.8 1010.7 L1009.0 1011.8 L1009.3 1013.0 L1009.5 1014.1 L1009.8 1015.3 L1010.0 1016.4 L1010.3 1017.6 L1010.6 1018.7 L1010.9 1019.9 L1011.1 1021.0 L1011.4 1022.2 L1011.7 1023.3 L1012.0 1024.5 L1012.3 1025.6 L1012.5 1026.8 L1012.8 1027.9 L1013.1 1029.1 L1013.4 1030.2 L1013.7 1031.3 L1014.0 1032.5 L1014.4 1033.6 L1014.7 1034.8 L1015.0 1035.9 L1015.3 1037.1 L1015.6 1038.2 L1015.9 1039.3 L1016.3 1040.5 L1016.6 1041.6 L1016.9 1042.7 L1017.3 1043.9 L1017.6 1045.0 L1018.0 1046.1 L1018.3 1047.3 L1018.7 1048.4 L1019.0 1049.5 L1019.4 1050.7 L1019.7 1051.8 L1020.1 1052.9 L1020.5 1054.0 L1020.9 1055.2 L1021.2 1056.3 L1021.6 1057.4 L1022.0 1058.5 L1022.4 1059.6 L1022.8 1060.8 L1023.2 1061.9 L1023.6 1063.0 L1024.0 1064.1 L1024.4 1065.2 L1024.8 1066.3 L1025.2 1067.5 L1025.6 1068.6 L1026.1 1069.7 L1026.5 1070.8 L1026.9 1071.9 L1027.4 1073.0 L1027.8 1074.1 L1028.2 1075.2 L1028.7 1076.3 L1029.1 1077.4 L1029.6 1078.5 L1030.1 1079.6 L1030.5 1080.7 L1031.0 1081.8 L1031.5 1082.9 L1031.9 1084.0 L1032.4 1085.1 L1032.9 1086.2 L1033.4 1087.3 L1033.9 1088.4 L1034.4 1089.5 L1034.9 1090.6 L1035.4 1091.7 L1035.9 1092.8 L1036.4 1093.8 L1036.9 1094.9 L1037.5 1096.0 L1038.0 1097.1 L1038.5 1098.2 L1039.0 1099.2 L1039.6 1100.3 L1040.1 1101.4 L1040.6 1102.4 L1041.2 1103.5 L1041.7 1104.6 L1042.3 1105.6 L1042.8 1106.7 L1043.4 1107.7 L1044.0 1108.8 L1044.5 1109.9 L1045.1 1110.9 L1045.7 1111.9 L1046.2 1113.0 L1046.8 1114.0 L1047.4 1115.1 L1048.0 1116.1 L1048.6 1117.1 L1049.1 1118.2 L1049.7 1119.2 L1050.3 1120.2 L1050.9 1121.3 L1051.5 1122.3 L1052.1 1123.3 L1052.7 1124.3 L1053.4 1125.3 L1054.0 1126.3 L1054.6 1127.3 L1055.2 1128.3 L1055.9 1129.3 L1056.5 1130.3 L1057.1 1131.3 L1057.8 1132.3 L1058.5 1133.3 L1059.1 1134.2 L1059.8 1135.2 L1060.5 1136.2 L1061.1 1137.1 L1061.8 1138.1 L1062.5 1139.0 L1063.2 1140.0 L1064.0 1140.9 L1064.7 1141.8 L1065.4 1142.8 L1066.1 1143.7 L1066.9 1144.6 L1067.6 1145.5 L1068.4 1146.4 L1069.2 1147.3 L1070.0 1148.2 L1070.8 1149.1 L1071.6 1149.9 L1072.4 1150.8 L1073.2 1151.7 L1074.0 1152.5 L1074.9 1153.4 L1075.7 1154.2 L1076.6 1155.0 L1077.5 1155.8 L1078.4 1156.6 L1079.3 1157.4 L1079.9 1158.0 L1080.5 1158.5 L1081.1 1159.0 L1081.7 1159.5 L1082.3 1160.0 L1082.9 1160.5 L1083.6 1161.0 L1084.2 1161.5 L1085.1 1162.2 L1086.1 1163.0 L1087.1 1163.7 L1088.1 1164.4 L1089.0 1165.0 L1090.0 1165.7 L1091.0 1166.3 L1092.1 1167.0 L1093.1 1167.6 L1094.1 1168.2 L1095.1 1168.8 L1096.2 1169.3 L1097.2 1169.9 L1098.3 1170.4 L1099.4 1171.0 L1100.4 1171.5 L1101.5 1171.9 L1102.6 1172.4 L1103.7 1172.9 L1104.8 1173.3 L1105.9 1173.7 L1107.0 1174.1 L1108.1 1174.5 L1109.2 1174.9 L1110.3 1175.3 L1111.5 1175.7 L1112.6 1176.1 L1113.7 1176.4 L1114.8 1176.8 L1116.0 1177.2 L1117.1 1177.6 L1118.2 1177.9 L1119.4 1178.3 L1120.5 1178.7 L1121.6 1179.1 L1122.7 1179.4 L1123.9 1179.8 L1125.0 1180.2 L1126.1 1180.6 L1127.3 1181.0 L1128.4 1181.4 L1129.5 1181.8 L1130.6 1182.1 L1131.8 1182.5 L1132.9 1182.9 L1134.0 1183.3 L1135.1 1183.8 L1136.3 1184.2 L1137.4 1184.6 L1138.5 1185.0 L1139.6 1185.4 L1140.7 1185.8 L1141.9 1186.1 L1143.0 1186.5 L1144.1 1186.9 L1145.3 1187.2 L1146.4 1187.5 L1147.5 1187.8 L1148.7 1188.1 L1149.8 1188.4 L1151.0 1188.6 L1152.2 1188.8 L1153.3 1189.0 L1154.5 1189.2 L1155.7 1189.3 L1156.9 1189.4 L1158.0 1189.5 L1159.2 1189.6 L1160.4 1189.7 L1161.6 1189.8 L1162.8 1189.8 L1163.6 1189.8 L1164.4 1189.9 L1165.2 1189.9 L1166.0 1189.9 L1166.8 1189.9 L1167.6 1189.9 L1168.4 1189.9 L1169.2 1190.0 L1170.0 1190.0 L1170.8 1190.0 L1171.6 1190.0 L1172.4 1190.0 L1173.2 1190.1 L1174.4 1190.1 L1175.6 1190.1 L1176.8 1190.2 L1178.0 1190.3 L1179.2 1190.4 L1180.4 1190.5 L1181.6 1190.6 L1182.7 1190.8 L1183.9 1191.0 L1185.1 1191.2 L1186.2 1191.4 L1187.4 1191.6 L1188.5 1191.9 L1189.7 1192.2 L1190.8 1192.5 L1192.0 1192.8 L1193.1 1193.1 L1194.2 1193.4 L1195.3 1193.8 L1196.5 1194.2 L1197.6 1194.5 L1198.7 1194.9 L1199.8 1195.3 L1200.9 1195.7 L1202.1 1196.2 L1203.2 1196.6 L1204.3 1197.0 L1205.4 1197.5 L1206.5 1197.9 L1207.6 1198.3 L1208.7 1198.8 L1209.8 1199.2 L1210.9 1199.7 L1212.0 1200.2 L1213.2 1200.6 L1214.3 1201.1 L1215.4 1201.5 L1216.5 1201.9 L1217.6 1202.4 L1218.7 1202.8 L1219.8 1203.2 L1220.9 1203.7 L1222.1 1204.1 L1223.2 1204.5 L1224.3 1204.9 L1225.4 1205.3 L1226.5 1205.7 L1227.7 1206.0 L1228.8 1206.4 L1229.9 1206.8 L1231.1 1207.1 L1232.2 1207.5 L1233.3 1207.8 L1234.5 1208.2 L1235.6 1208.5 L1236.7 1208.8 L1237.9 1209.2 L1239.0 1209.5 L1240.2 1209.8 L1241.3 1210.1 L1242.5 1210.4 L1243.6 1210.7 L1244.7 1211.0 L1245.9 1211.3 L1247.0 1211.6 L1248.2 1211.9 L1249.3 1212.1 L1250.5 1212.4 L1251.7 1212.7 L1252.8 1213.0 L1254.0 1213.2 L1255.1 1213.5 L1256.3 1213.7 L1257.4 1214.0 L1258.6 1214.2 L1259.8 1214.5 L1260.9 1214.7 L1262.1 1215.0 L1263.2 1215.2 L1264.4 1215.5 L1265.6 1215.7 L1266.7 1215.9 L1267.9 1216.2 L1269.1 1216.4 L1270.2 1216.6 L1271.4 1216.9 L1272.6 1217.1 L1273.7 1217.3 L1274.9 1217.5 L1276.1 1217.8 L1277.2 1218.0 L1278.4 1218.2 L1279.6 1218.4 L1280.7 1218.6 L1281.9 1218.9 L1283.1 1219.1 L1284.2 1219.3 L1285.4 1219.5 L1286.6 1219.7 L1287.7 1220.0 L1288.9 1220.2 L1290.1 1220.4 L1291.3 1220.6 L1292.4 1220.9 L1293.6 1221.1 L1294.8 1221.3 L1295.9 1221.5 L1297.1 1221.7 L1298.3 1221.9 L1299.4 1222.0 L1300.6 1222.2 L1301.8 1222.4 L1303.0 1222.5 L1304.1 1222.6 L1305.3 1222.8 L1306.5 1222.9 L1307.7 1223.0 L1308.9 1223.1 L1310.0 1223.2 L1311.2 1223.3 L1312.4 1223.4 L1313.6 1223.5 L1314.8 1223.6 L1315.9 1223.7 L1317.1 1223.8 L1318.3 1223.9 L1319.5 1224.0 L1320.7 1224.2 L1321.8 1224.3 L1323.0 1224.4 L1324.2 1224.6 L1325.4 1224.8 L1326.6 1224.9 L1327.7 1225.1 L1328.9 1225.3 L1330.1 1225.4 L1331.3 1225.6 L1332.4 1225.8 L1333.6 1226.0 L1334.8 1226.1 L1336.0 1226.3 L1337.2 1226.5 L1338.3 1226.6 L1339.5 1226.8 L1340.7 1227.0 L1341.9 1227.1 L1343.0 1227.3 L1344.2 1227.4 L1345.4 1227.5 L1346.6 1227.6 L1347.8 1227.8 L1349.0 1227.9 L1350.1 1227.9 L1351.3 1228.0 L1352.5 1228.1 L1353.7 1228.2 L1354.9 1228.2 L1356.1 1228.3 L1357.2 1228.4 L1358.4 1228.4 L1359.6 1228.4 L1360.8 1228.5 L1362.0 1228.5 L1363.2 1228.5 L1364.4 1228.5 L1365.6 1228.5 L1366.7 1228.5 L1367.9 1228.5 L1369.1 1228.5 L1370.3 1228.5 L1371.5 1228.5 L1372.7 1228.5 L1373.9 1228.4 L1375.1 1228.4 L1376.3 1228.4 L1377.5 1228.4 L1378.6 1228.3 L1379.8 1228.3 L1381.0 1228.2 L1382.2 1228.2 L1383.4 1228.2 L1384.6 1228.1 L1385.8 1228.1 L1387.0 1228.0 L1388.2 1228.0 L1389.4 1227.9 L1390.6 1227.9 L1391.8 1227.8 L1392.9 1227.8 L1394.1 1227.7 L1395.3 1227.7 L1396.5 1227.6 L1397.7 1227.6 L1398.9 1227.5 L1400.1 1227.5 L1401.3 1227.5 L1402.5 1227.4 L1403.7 1227.4 L1404.9 1227.3 L1406.1 1227.3 L1407.2 1227.3 L1408.4 1227.2 L1409.6 1227.2 L1410.8 1227.2 L1412.0 1227.2 L1413.2 1227.1 L1414.4 1227.1 L1415.6 1227.1 L1416.8 1227.1 L1418.0 1227.0 L1419.1 1227.0 L1420.3 1227.0 L1421.5 1227.0 L1422.7 1227.0 L1423.9 1227.0 L1425.1 1227.0 L1426.3 1226.9 L1427.5 1226.9 L1428.7 1226.9 L1429.9 1226.9 L1431.0 1226.9 L1432.2 1226.9 L1433.4 1226.9 L1434.6 1226.9 L1435.8 1226.9 L1437.0 1226.9 L1438.2 1226.9 L1439.4 1226.9 L1440.6 1226.9 L1441.7 1226.9 L1442.9 1226.9 L1444.1 1226.9 L1445.3 1226.9 L1446.5 1226.9 L1447.7 1226.9 L1448.9 1226.9 L1450.1 1226.9 L1451.2 1226.9 L1452.4 1226.9 L1453.6 1227.0 L1454.8 1227.0 L1456.0 1227.0 L1457.2 1227.0 L1458.4 1227.0 L1459.6 1227.0 L1460.8 1227.0 L1461.9 1227.0 L1463.1 1227.1 L1464.3 1227.1 L1465.5 1227.1 L1466.7 1227.1 L1467.9 1227.1 L1469.1 1227.1 L1470.3 1227.1 L1471.4 1227.2 L1472.6 1227.2 L1473.8 1227.2 L1475.0 1227.2 L1476.2 1227.2 L1477.4 1227.2 L1478.6 1227.2 L1479.8 1227.3 L1480.9 1227.3 L1482.1 1227.3 L1483.3 1227.3 L1484.5 1227.3 L1485.7 1227.3 L1486.9 1227.3 L1488.1 1227.4 L1489.3 1227.4 L1490.5 1227.4 L1491.6 1227.4 L1492.8 1227.4 L1494.0 1227.4 L1495.2 1227.4 L1496.4 1227.5 L1497.6 1227.5 L1498.8 1227.5 L1500.0 1227.5 L1501.1 1227.5 L1502.3 1227.5 L1503.5 1227.5 L1504.7 1227.5 L1505.9 1227.6 L1507.1 1227.6 L1508.3 1227.6 L1509.5 1227.6 L1510.7 1227.6 L1511.8 1227.6 L1513.0 1227.6 L1514.2 1227.6 L1515.4 1227.6 L1516.6 1227.6 L1517.8 1227.6 L1519.0 1227.6 L1520.2 1227.6 L1521.3 1227.6 L1522.5 1227.6 L1523.7 1227.6 L1524.9 1227.6 L1526.1 1227.7 L1527.3 1227.7 L1528.5 1227.7 L1529.7 1227.7 L1530.9 1227.7 L1532.0 1227.7 L1533.2 1227.7 L1534.4 1227.7 L1535.6 1227.7 L1536.8 1227.7 L1538.0 1227.7 L1539.2 1227.7 L1540.4 1227.7 L1541.6 1227.7 L1542.7 1227.7 L1543.9 1227.7 L1545.1 1227.7 L1546.3 1227.7 L1547.5 1227.7 L1548.7 1227.7 L1549.9 1227.7 L1551.1 1227.7 L1552.3 1227.7 L1553.4 1227.6 L1554.6 1227.6 L1555.8 1227.6 L1557.0 1227.6 L1558.2 1227.6 L1559.4 1227.6 L1560.6 1227.6 L1561.8 1227.6 L1563.0 1227.6 L1564.1 1227.6 L1565.3 1227.6 L1566.5 1227.6 L1567.7 1227.6 L1568.9 1227.6 L1570.1 1227.6 L1571.3 1227.6 L1572.5 1227.6 L1573.7 1227.6 L1574.8 1227.6 L1576.0 1227.6 L1577.2 1227.6 L1578.4 1227.6 L1579.6 1227.6 L1580.8 1227.6 L1582.0 1227.6 L1583.2 1227.6 L1584.4 1227.6 L1585.6 1227.5 L1586.7 1227.5 L1587.9 1227.5 L1589.1 1227.5 L1590.3 1227.5 L1591.5 1227.5 L1592.7 1227.5 L1593.9 1227.5 L1595.1 1227.5 L1596.3 1227.5 L1597.4 1227.5 L1598.6 1227.5 L1599.8 1227.5 L1601.0 1227.5 L1602.2 1227.5 L1603.4 1227.5 L1604.6 1227.5 L1605.8 1227.5 L1607.0 1227.5 L1608.1 1227.5 L1609.3 1227.5 L1610.5 1227.5 L1611.7 1227.5 L1612.9 1227.5 L1614.1 1227.5 L1615.3 1227.5 L1616.5 1227.5 L1617.7 1227.5 L1618.8 1227.5 L1620.0 1227.5 L1621.2 1227.5 L1622.4 1227.5 L1623.6 1227.5 L1624.8 1227.5 L1626.0 1227.5 L1627.2 1227.5 L1628.4 1227.5 L1629.5 1227.5 L1630.7 1227.5 L1631.9 1227.5 L1633.1 1227.4 L1634.3 1227.4 L1635.5 1227.4 L1636.7 1227.4 L1637.9 1227.4 L1639.1 1227.4 L1640.2 1227.4 L1641.4 1227.4 L1642.6 1227.4 L1643.8 1227.4 L1645.0 1227.4 L1646.2 1227.4 L1647.4 1227.4 L1648.6 1227.4 L1649.8 1227.4 L1650.9 1227.4 L1652.1 1227.4 L1653.3 1227.4 L1654.5 1227.4 L1655.7 1227.4 L1656.9 1227.5 L1658.1 1227.5 L1659.3 1227.5 L1660.5 1227.5 L1661.6 1227.5 L1662.8 1227.5 L1664.0 1227.5 L1665.2 1227.5 L1666.4 1227.5 L1667.6 1227.5 L1668.8 1227.5 L1670.0 1227.5 L1671.2 1227.5 L1672.3 1227.5 L1673.5 1227.5 L1674.7 1227.5 L1675.9 1227.5 L1677.1 1227.5 L1678.3 1227.5 L1679.5 1227.5 L1680.7 1227.5 L1681.9 1227.5 L1683.0 1227.5 L1684.2 1227.5 L1685.4 1227.5 L1686.6 1227.5 L1687.8 1227.5 L1689.0 1227.5 L1690.2 1227.5 L1691.4 1227.5 L1692.6 1227.5 L1693.7 1227.5 L1694.9 1227.5 L1696.1 1227.5 L1697.3 1227.5 L1698.5 1227.5 L1699.7 1227.5 L1700.9 1227.5 L1702.1 1227.5 L1703.2 1227.5 L1704.4 1227.5 L1705.6 1227.5 L1706.8 1227.5 L1708.0 1227.5 L1709.2 1227.5 L1710.4 1227.5 L1711.6 1227.5 L1712.8 1227.5 L1713.9 1227.5 L1715.1 1227.5 L1716.3 1227.5 L1717.5 1227.5 L1718.7 1227.5 L1719.9 1227.5 L1721.1 1227.5 L1722.3 1227.5 L1723.5 1227.5 L1724.6 1227.5 L1725.8 1227.5 L1727.0 1227.5 L1728.2 1227.5 L1729.4 1227.5 L1730.6 1227.5 L1731.8 1227.5 L1733.0 1227.5 L1734.2 1227.5 L1735.3 1227.5 L1736.5 1227.5 L1737.7 1227.5 L1738.9 1227.5 L1740.1 1227.5 L1741.3 1227.5 L1742.5 1227.5 L1743.7 1227.6 L1744.9 1227.6 L1746.0 1227.6 L1747.2 1227.6 L1748.4 1227.6 L1749.6 1227.6 L1750.8 1227.6 L1752.0 1227.6 L1753.2 1227.6 L1754.4 1227.6 L1755.6 1227.6 L1756.7 1227.6 L1757.9 1227.6 L1759.1 1227.6 L1760.3 1227.6 L1761.5 1227.6 L1762.7 1227.6 L1763.9 1227.6 L1765.1 1227.6 L1766.3 1227.6 L1767.4 1227.6 L1768.6 1227.6 L1769.8 1227.6 L1771.0 1227.6 L1772.2 1227.6 L1773.4 1227.6 L1774.6 1227.6 L1775.8 1227.6 L1777.0 1227.6 L1778.1 1227.6 L1779.3 1227.6 L1780.5 1227.6 L1781.7 1227.6 L1782.9 1227.6 L1784.1 1227.6 L1785.3 1227.6 L1786.5 1227.5 L1787.7 1227.5 L1788.8 1227.5 L1790.0 1227.5 L1791.2 1227.5 L1792.4 1227.5 L1793.6 1227.5 L1794.8 1227.5 L1796.0 1227.5 L1797.2 1227.5 L1798.4 1227.5 L1799.5 1227.5 L1800.7 1227.5 L1801.9 1227.5 L1803.1 1227.5 L1804.3 1227.5 L1805.5 1227.5 L1806.7 1227.5 L1807.9 1227.5 L1809.1 1227.5 L1810.2 1227.5 L1811.4 1227.5 L1812.6 1227.5 L1813.8 1227.5 L1815.0 1227.5"/>
<path stroke="#ff00ff" d="M80.0 1228.4 L80.9 1228.4 L81.9 1228.4 L82.8 1228.4 L83.7 1228.4 L84.6 1228.4 L85.6 1228.3 L86.5 1228.3 L87.4 1228.3 L88.4 1228.3 L89.3 1228.3 L90.2 1228.3 L91.2 1228.3 L92.1 1228.3 L93.0 1228.3 L93.9 1228.3 L94.9 1228.3 L95.8 1228.3 L96.7 1228.3 L97.7 1228.3 L98.6 1228.3 L99.5 1228.3 L100.4 1228.4 L101.4 1228.4 L102.3 1228.4 L103.2 1228.4 L104.2 1228.4 L105.1 1228.4 L106.0 1228.4 L106.9 1228.4 L107.9 1228.4 L108.8 1228.4 L109.7 1228.4 L110.7 1228.4 L111.6 1228.4 L112.5 1228.4 L113.4 1228.4 L114.4 1228.5 L115.3 1228.5 L116.2 1228.5 L117.2 1228.5 L118.1 1228.5 L119.0 1228.5 L120.0 1228.5 L120.9 1228.5 L121.8 1228.5 L122.7 1228.5 L123.7 1228.5 L124.6 1228.5 L125.5 1228.5 L126.5 1228.5 L127.4 1228.5 L128.3 1228.5 L129.2 1228.5 L130.2 1228.5 L131.1 1228.5 L132.0 1228.5 L133.0 1228.5 L133.9 1228.4 L134.8 1228.4 L135.7 1228.4 L136.7 1228.4 L137.6 1228.4 L138.5 1228.4 L139.5 1228.3 L140.4 1228.3 L141.3 1228.3 L142.3 1228.3 L143.2 1228.3 L144.1 1228.2 L145.0 1228.2 L146.0 1228.2 L146.9 1228.2 L147.8 1228.1 L148.8 1228.1 L149.7 1228.1 L150.6 1228.1 L151.5 1228.0 L152.5 1228.0 L153.4 1228.0 L154.3 1228.0 L155.3 1228.0 L156.2 1228.0 L157.1 1227.9 L158.0 1227.9 L159.0 1227.9 L159.9 1227.9 L160.8 1227.9 L161.8 1228.0 L162.7 1228.0 L163.6 1228.0 L164.5 1228.0 L165.5 1228.0 L166.4 1228.1 L167.3 1228.1 L168.3 1228.2 L169.2 1228.2 L170.1 1228.3 L171.0 1228.3 L172.0 1228.4 L172.9 1228.4 L173.8 1228.5 L174.8 1228.5 L175.7 1228.6 L176.6 1228.7 L177.5 1228.7 L178.5 1228.8 L179.4 1228.9 L180.3 1228.9 L181.2 1229.0 L182.2 1229.1 L183.1 1229.1 L184.0 1229.2 L185.0 1229.2 L185.9 1229.3 L186.8 1229.3 L187.7 1229.3 L188.7 1229.4 L189.6 1229.4 L190.5 1229.4 L191.4 1229.5 L192.4 1229.5 L193.3 1229.5 L194.2 1229.5 L195.2 1229.5 L196.1 1229.5 L197.0 1229.5 L197.9 1229.5 L198.9 1229.5 L199.8 1229.4 L200.7 1229.4 L201.7 1229.4 L202.6 1229.4 L203.5 1229.3 L204.4 1229.3 L205.4 1229.3 L206.3 1229.3 L207.2 1229.2 L208.2 1229.2 L209.1 1229.1 L210.0 1229.1 L210.9 1229.1 L211.9 1229.0 L212.8 1229.0 L213.7 1228.9 L214.7 1228.9 L215.6 1228.8 L216.5 1228.8 L217.5 1228.8 L218.4 1228.7 L219.3 1228.7 L220.2 1228.6 L221.2 1228.6 L222.1 1228.5 L223.0 1228.5 L224.0 1228.5 L224.9 1228.4 L225.8 1228.4 L226.7 1228.4 L227.7 1228.3 L228.6 1228.3 L229.5 1228.3 L230.5 1228.3 L231.4 1228.3 L232.3 1228.2 L233.2 1228.2 L234.2 1228.2 L235.1 1228.2 L236.0 1228.2 L237.0 1228.2 L237.9 1228.2 L238.8 1228.2 L239.7 1228.2 L240.7 1228.1 L241.6 1228.1 L242.5 1228.1 L243.5 1228.1 L244.4 1228.1 L245.3 1228.1 L246.3 1228.1 L247.2 1228.2 L248.1 1228.2 L249.0 1228.2 L250.0 1228.2 L250.9 1228.2 L251.8 1228.2 L252.8 1228.2 L253.7 1228.2 L254.6 1228.2 L255.5 1228.2 L256.5 1228.2 L257.4 1228.2 L258.3 1228.2 L259.3 1228.3 L260.2 1228.3 L261.1 1228.3 L262.0 1228.3 L263.0 1228.3 L263.9 1228.3 L264.8 1228.3 L265.8 1228.3 L266.7 1228.3 L267.6 1228.3 L268.5 1228.4 L269.5 1228.4 L270.4 1228.4 L271.3 1228.4 L272.3 1228.4 L273.2 1228.4 L274.1 1228.4 L275.1 1228.4 L276.0 1228.4 L276.9 1228.4 L277.8 1228.4 L278.8 1228.4 L279.7 1228.4 L280.6 1228.4 L281.6 1228.4 L282.5 1228.4 L283.4 1228.4 L284.4 1228.4 L285.3 1228.4 L286.2 1228.4 L287.1 1228.3 L288.1 1228.3 L289.0 1228.3 L289.9 1228.3 L290.9 1228.3 L291.8 1228.3 L292.7 1228.3 L293.6 1228.2 L294.6 1228.2 L295.5 1228.2 L296.4 1228.2 L297.4 1228.1 L298.3 1228.1 L299.2 1228.1 L300.2 1228.1 L301.1 1228.0 L302.0 1228.0 L302.9 1228.0 L303.9 1227.9 L304.8 1227.9 L305.7 1227.9 L306.7 1227.8 L307.6 1227.8 L308.5 1227.8 L309.4 1227.7 L310.4 1227.7 L311.3 1227.6 L312.2 1227.6 L313.2 1227.5 L314.1 1227.5 L315.0 1227.4 L315.9 1227.4 L316.9 1227.3 L317.8 1227.3 L318.7 1227.2 L319.7 1227.2 L320.6 1227.1 L321.5 1227.0 L322.4 1227.0 L323.4 1226.9 L324.3 1226.9 L325.2 1226.8 L326.1 1226.7 L327.1 1226.7 L328.0 1226.6 L328.9 1226.5 L329.8 1226.5 L330.8 1226.4 L331.7 1226.3 L332.6 1226.2 L333.5 1226.2 L334.5 1226.1 L335.4 1226.0 L336.3 1225.9 L337.2 1225.8 L338.2 1225.7 L339.1 1225.7 L340.0 1225.6 L340.9 1225.5 L341.9 1225.4 L342.8 1225.3 L343.7 1225.2 L344.6 1225.2 L345.6 1225.1 L346.5 1225.0 L347.4 1224.9 L348.3 1224.8 L349.3 1224.8 L350.2 1224.7 L351.1 1224.6 L352.0 1224.5 L353.0 1224.4 L353.9 1224.4 L354.8 1224.3 L355.8 1224.2 L356.7 1224.2 L357.6 1224.1 L358.6 1224.0 L359.5 1223.9 L360.4 1223.9 L361.4 1223.8 L362.3 1223.7 L363.2 1223.6 L364.1 1223.5 L365.1 1223.4 L366.0 1223.3 L366.9 1223.1 L367.8 1223.0 L368.7 1222.8 L369.7 1222.7 L370.6 1222.5 L371.5 1222.3 L372.4 1222.1 L373.3 1221.9 L374.2 1221.6 L375.1 1221.3 L376.0 1221.1 L376.8 1220.7 L377.7 1220.4 L378.6 1220.1 L379.5 1219.7 L380.3 1219.3 L381.2 1219.0 L382.1 1218.6 L382.9 1218.2 L383.8 1217.8 L384.7 1217.4 L385.5 1217.0 L386.4 1216.7 L387.2 1216.3 L388.1 1215.9 L389.0 1215.6 L389.8 1215.3 L390.7 1214.9 L391.6 1214.7 L392.5 1214.4 L393.3 1214.1 L394.2 1213.9 L395.1 1213.7 L396.0 1213.6 L396.9 1213.5 L397.8 1213.4 L398.7 1213.4 L399.6 1213.3 L400.5 1213.3 L401.4 1213.3 L402.3 1213.2 L403.2 1213.2 L404.2 1213.1 L405.1 1213.1 L406.0 1213.0 L406.9 1212.9 L407.9 1212.9 L408.8 1212.8 L409.7 1212.7 L410.6 1212.6 L411.6 1212.6 L412.5 1212.5 L413.4 1212.4 L414.4 1212.3 L415.3 1212.2 L416.2 1212.1 L417.1 1212.0 L418.1 1211.8 L419.0 1211.7 L419.9 1211.6 L420.9 1211.5 L421.8 1211.3 L422.7 1211.2 L423.6 1211.1 L424.6 1210.9 L425.5 1210.8 L426.4 1210.6 L427.3 1210.5 L428.2 1210.3 L429.1 1210.1 L430.1 1210.0 L431.0 1209.8 L431.9 1209.6 L432.8 1209.4 L433.7 1209.3 L434.6 1209.1 L435.5 1208.9 L436.4 1208.7 L437.3 1208.5 L438.2 1208.3 L439.1 1208.0 L440.0 1207.8 L440.9 1207.6 L441.8 1207.4 L442.7 1207.1 L443.6 1206.9 L444.5 1206.7 L445.4 1206.4 L446.3 1206.2 L447.2 1205.9 L448.1 1205.6 L449.0 1205.4 L449.9 1205.1 L450.8 1204.8 L451.6 1204.6 L452.5 1204.3 L453.4 1204.0 L454.3 1203.7 L455.2 1203.4 L456.0 1203.1 L456.9 1202.8 L457.8 1202.5 L458.6 1202.2 L459.5 1201.8 L460.4 1201.5 L461.3 1201.2 L462.1 1200.9 L463.0 1200.5 L463.8 1200.2 L464.7 1199.9 L465.6 1199.5 L466.4 1199.2 L467.3 1198.8 L468.1 1198.5 L469.0 1198.1 L469.9 1197.7 L470.7 1197.4 L471.6 1197.0 L472.4 1196.6 L473.3 1196.3 L474.1 1195.9 L475.0 1195.5 L475.8 1195.1 L476.7 1194.8 L477.5 1194.4 L478.4 1194.0 L479.2 1193.6 L480.1 1193.2 L480.9 1192.8 L481.7 1192.4 L482.6 1192.0 L483.4 1191.6 L484.3 1191.2 L485.1 1190.8 L486.0 1190.5 L486.8 1190.1 L487.6 1189.6 L488.5 1189.2 L489.3 1188.8 L490.2 1188.4 L491.0 1188.0 L491.8 1187.6 L492.7 1187.2 L493.5 1186.8 L494.4 1186.4 L495.2 1186.0 L496.0 1185.6 L496.9 1185.2 L497.7 1184.8 L498.6 1184.4 L499.4 1184.0 L500.2 1183.6 L501.1 1183.2 L501.9 1182.8 L502.8 1182.4 L503.6 1182.0 L504.4 1181.6 L505.3 1181.2 L506.1 1180.7 L507.0 1180.3 L507.8 1179.9 L508.6 1179.5 L509.5 1179.1 L510.3 1178.7 L511.1 1178.3 L512.0 1177.9 L512.8 1177.5 L513.6 1177.1 L514.5 1176.7 L515.3 1176.3 L516.1 1175.9 L517.0 1175.5 L517.8 1175.0 L518.6 1174.6 L519.5 1174.2 L520.3 1173.8 L521.1 1173.3 L521.9 1172.9 L522.7 1172.5 L523.6 1172.0 L524.4 1171.6 L525.2 1171.2 L526.0 1170.7 L526.8 1170.3 L527.6 1169.8 L528.4 1169.3 L529.2 1168.9 L530.0 1168.4 L530.8 1167.9 L531.6 1167.4 L532.4 1167.0 L533.1 1166.5 L533.9 1166.0 L534.7 1165.5 L535.5 1165.0 L536.3 1164.5 L537.0 1164.0 L537.8 1163.5 L538.6 1163.0 L539.4 1162.5 L540.1 1161.9 L540.9 1161.4 L541.7 1160.9 L542.5 1160.4 L543.2 1159.9 L544.0 1159.4 L544.8 1158.8 L545.5 1158.3 L546.3 1157.8 L547.1 1157.3 L547.9 1156.7 L548.6 1156.2 L549.4 1155.7 L550.2 1155.2 L551.0 1154.7 L551.7 1154.2 L552.5 1153.6 L553.3 1153.1 L554.1 1152.6 L554.9 1152.1 L555.7 1151.6 L556.4 1151.1 L557.2 1150.6 L558.0 1150.1 L558.8 1149.6 L559.6 1149.0 L560.4 1148.5 L561.2 1148.0 L561.9 1147.5 L562.7 1147.0 L563.5 1146.4 L564.2 1145.9 L565.0 1145.4 L565.7 1144.8 L566.5 1144.2 L567.2 1143.7 L567.9 1143.1 L568.6 1142.5 L569.3 1141.9 L570.0 1141.3 L570.7 1140.7 L571.4 1140.1 L572.1 1139.4 L572.7 1138.8 L573.3 1138.1 L573.9 1137.4 L574.5 1136.7 L575.1 1136.0 L575.7 1135.3 L576.3 1134.5 L576.8 1133.8 L577.4 1133.0 L577.9 1132.2 L578.4 1131.4 L579.0 1130.7 L579.5 1129.9 L580.0 1129.1 L580.5 1128.3 L581.0 1127.5 L581.5 1126.7 L582.0 1125.9 L582.5 1125.1 L583.0 1124.3 L583.5 1123.5 L584.0 1122.7 L584.5 1121.9 L585.1 1121.1 L585.6 1120.3 L586.1 1119.6 L586.6 1118.8 L587.2 1118.0 L587.8 1117.3 L588.3 1116.6 L588.9 1115.9 L589.5 1115.2 L590.1 1114.5 L590.7 1113.8 L591.4 1113.2 L592.0 1112.5 L592.7 1111.9 L593.4 1111.3 L594.1 1110.8 L594.8 1110.2 L595.6 1109.7 L596.3 1109.2 L597.1 1108.7 L597.9 1108.3 L598.8 1107.8 L599.6 1107.4 L600.4 1107.0 L601.3 1106.6 L602.2 1106.2 L603.0 1105.9 L603.9 1105.5 L604.8 1105.2 L605.7 1104.9 L606.6 1104.6 L607.5 1104.3 L608.4 1104.1 L609.3 1103.9 L610.2 1103.7 L611.1 1103.6 L612.0 1103.5 L613.0 1103.4 L613.9 1103.3 L614.8 1103.3 L615.7 1103.4 L616.7 1103.4 L617.6 1103.5 L618.5 1103.6 L619.4 1103.7 L620.4 1103.9 L621.3 1104.0 L622.2 1104.2 L623.1 1104.4 L624.0 1104.6 L624.9 1104.8 L625.8 1105.0 L626.7 1105.3 L627.6 1105.5 L628.5 1105.7 L629.4 1106.0 L630.3 1106.2 L631.2 1106.4 L632.1 1106.7 L633.0 1106.9 L633.9 1107.1 L634.8 1107.3 L635.7 1107.5 L636.7 1107.7 L637.6 1107.8 L638.5 1108.0 L639.4 1108.1 L640.3 1108.2 L641.2 1108.3 L642.2 1108.4 L643.1 1108.5 L644.0 1108.5 L645.0 1108.6 L645.9 1108.7 L646.8 1108.7 L647.7 1108.8 L648.7 1108.9 L649.6 1109.0 L650.5 1109.0 L651.5 1109.1 L652.4 1109.2 L653.3 1109.3 L654.2 1109.5 L655.1 1109.6 L656.0 1109.8 L657.0 1109.9 L657.9 1110.1 L658.8 1110.3 L659.7 1110.5 L660.6 1110.8 L661.5 1111.0 L662.4 1111.2 L663.3 1111.5 L664.2 1111.8 L665.0 1112.0 L665.9 1112.3 L666.8 1112.6 L667.7 1112.9 L668.6 1113.2 L669.5 1113.5 L670.3 1113.8 L671.2 1114.2 L672.1 1114.5 L673.0 1114.8 L673.8 1115.2 L674.7 1115.5 L675.6 1115.9 L676.4 1116.2 L677.3 1116.6 L678.1 1116.9 L679.0 1117.3 L679.9 1117.6 L680.7 1118.0 L681.6 1118.4 L682.4 1118.7 L683.3 1119.1 L684.1 1119.5 L685.0 1119.9 L685.8 1120.2 L686.7 1120.6 L687.5 1121.0 L688.4 1121.4 L689.2 1121.8 L690.0 1122.2 L690.9 1122.5 L691.7 1122.9 L692.6 1123.3 L693.4 1123.7 L694.2 1124.1 L695.1 1124.5 L695.9 1124.9 L696.8 1125.3 L697.6 1125.7 L698.4 1126.1 L699.3 1126.5 L700.1 1126.9 L700.9 1127.3 L701.8 1127.7 L702.6 1128.1 L703.4 1128.5 L704.3 1128.9 L705.1 1129.3 L705.9 1129.7 L706.7 1130.2 L707.6 1130.6 L708.4 1131.0 L709.2 1131.4 L710.1 1131.8 L710.9 1132.3 L711.7 1132.7 L712.6 1133.2 L713.4 1133.6 L714.2 1134.0 L715.0 1134.5 L715.9 1134.9 L716.7 1135.4 L717.5 1135.8 L718.4 1136.2 L719.2 1136.6 L720.0 1137.1 L720.9 1137.5 L721.7 1137.9 L722.6 1138.3 L723.4 1138.6 L724.3 1139.0 L725.1 1139.3 L726.0 1139.7 L726.9 1140.0 L727.7 1140.2 L728.6 1140.5 L729.5 1140.8 L730.4 1141.0 L731.3 1141.2 L732.2 1141.4 L733.1 1141.5 L734.0 1141.6 L734.9 1141.8 L735.8 1141.9 L736.7 1141.9 L737.6 1142.0 L738.6 1142.1 L739.5 1142.1 L740.4 1142.1 L741.4 1142.2 L742.3 1142.2 L743.2 1142.2 L744.2 1142.2 L745.1 1142.2 L746.1 1142.2 L747.0 1142.2 L747.9 1142.2 L748.9 1142.2 L749.8 1142.3 L750.8 1142.3 L751.7 1142.3 L752.6 1142.3 L753.6 1142.4 L754.5 1142.4 L755.4 1142.5 L756.3 1142.6 L757.3 1142.6 L758.2 1142.8 L759.1 1142.9 L760.0 1143.0 L760.9 1143.1 L761.8 1143.2 L762.7 1143.3 L763.7 1143.4 L764.6 1143.5 L765.5 1143.6 L766.4 1143.7 L767.4 1143.8 L768.3 1143.8 L769.2 1143.9 L770.1 1143.9 L771.1 1144.0 L772.0 1144.0 L772.9 1144.1 L773.8 1144.2 L774.8 1144.2 L775.7 1144.3 L776.6 1144.4 L777.6 1144.4 L778.5 1144.5 L779.4 1144.6 L780.3 1144.7 L781.2 1144.8 L782.2 1144.9 L783.1 1145.1 L784.0 1145.2 L784.9 1145.4 L785.8 1145.6 L786.7 1145.8 L787.6 1145.9 L788.5 1146.1 L789.4 1146.3 L790.3 1146.5 L791.2 1146.7 L792.1 1146.9 L793.0 1147.1 L793.9 1147.3 L794.8 1147.5 L795.7 1147.7 L796.7 1147.9 L797.6 1148.0 L798.5 1148.2 L799.4 1148.4 L800.3 1148.5 L801.2 1148.6 L802.1 1148.8 L803.0 1148.9 L804.0 1149.0 L804.9 1149.0 L805.8 1149.1 L806.7 1149.1 L807.7 1149.2 L808.6 1149.1 L809.6 1149.1 L810.5 1149.1 L811.4 1149.0 L812.4 1149.0 L813.3 1148.9 L814.3 1148.8 L815.2 1148.7 L816.2 1148.5 L817.1 1148.4 L818.1 1148.3 L819.0 1148.1 L819.9 1148.0 L820.8 1147.8 L821.8 1147.7 L822.7 1147.5 L823.6 1147.3 L824.5 1147.2 L825.4 1147.0 L826.3 1146.9 L827.1 1146.7 L827.9 1146.4 L828.7 1146.1 L829.4 1145.7 L830.1 1145.3 L830.8 1144.8 L831.4 1144.3 L832.1 1143.9 L832.8 1143.5 L833.6 1143.2 L834.4 1142.9 L835.2 1142.7 L836.1 1142.6 L836.9 1142.5 L837.8 1142.4 L838.7 1142.4 L839.7 1142.3 L840.6 1142.4 L841.6 1142.4 L842.6 1142.5 L843.6 1142.5 L844.6 1142.6 L845.6 1142.6 L846.6 1142.7 L847.5 1142.7 L848.5 1142.7 L849.5 1142.7 L850.5 1142.7 L851.4 1142.6 L852.4 1142.5 L853.3 1142.4 L854.2 1142.2 L855.1 1141.9 L855.9 1141.6 L856.8 1141.2 L857.6 1140.8 L858.3 1140.3 L859.1 1139.8 L859.8 1139.2 L860.5 1138.6 L861.2 1137.9 L861.8 1137.2 L862.4 1136.5 L863.0 1135.7 L863.6 1135.0 L864.2 1134.2 L864.7 1133.4 L865.2 1132.5 L865.7 1131.7 L866.2 1130.8 L866.6 1130.0 L867.1 1129.1 L867.5 1128.3 L867.9 1127.4 L868.2 1126.6 L868.6 1125.7 L869.0 1124.8 L869.3 1124.0 L869.6 1123.1 L870.0 1122.2 L870.3 1121.3 L870.6 1120.5 L870.9 1119.6 L871.2 1118.7 L871.5 1117.8 L871.8 1117.0 L872.1 1116.1 L872.4 1115.2 L872.7 1114.3 L873.1 1113.5 L873.4 1112.6 L873.7 1111.7 L874.0 1110.9 L874.4 1110.0 L874.7 1109.1 L875.0 1108.3 L875.4 1107.4 L875.7 1106.6 L876.1 1105.7 L876.4 1104.8 L876.8 1104.0 L877.1 1103.1 L877.5 1102.3 L877.8 1101.4 L878.2 1100.6 L878.5 1099.7 L878.9 1098.9 L879.2 1098.0 L879.6 1097.2 L879.9 1096.3 L880.3 1095.5 L880.6 1094.6 L881.0 1093.7 L881.3 1092.9 L881.7 1092.0 L882.0 1091.2 L882.4 1090.3 L882.7 1089.4 L883.1 1088.6 L883.4 1087.7 L883.7 1086.8 L884.1 1086.0 L884.4 1085.1 L884.7 1084.2 L885.0 1083.4 L885.3 1082.5 L885.6 1081.6 L885.9 1080.7 L886.2 1079.8 L886.5 1078.9 L886.8 1078.0 L887.1 1077.2 L887.4 1076.3 L887.6 1075.4 L887.9 1074.5 L888.1 1073.5 L888.4 1072.6 L888.6 1071.7 L888.9 1070.8 L889.1 1069.9 L889.4 1069.0 L889.6 1068.1 L889.9 1067.2 L890.1 1066.3 L890.4 1065.4 L890.6 1064.5 L890.9 1063.6 L891.2 1062.7 L891.4 1061.8 L891.7 1060.9 L892.0 1060.0 L892.3 1059.2 L892.7 1058.3 L893.0 1057.4 L893.3 1056.6 L893.7 1055.7 L894.1 1054.9 L894.5 1054.1 L894.9 1053.3 L895.3 1052.5 L895.8 1051.7 L896.2 1050.9 L896.7 1050.1 L897.3 1049.4 L897.8 1048.7 L898.4 1047.9 L898.9 1047.2 L899.6 1046.5 L900.2 1045.8 L900.8 1045.2 L901.5 1044.5 L902.2 1043.8 L902.9 1043.2 L903.6 1042.5 L904.3 1041.9 L905.0 1041.3 L905.7 1040.6 L906.4 1040.0 L907.1 1039.3 L907.8 1038.7 L908.5 1038.0 L909.1 1037.3 L909.8 1036.7 L910.4 1036.0 L911.0 1035.3 L911.6 1034.6 L912.2 1033.8 L912.7 1033.1 L913.2 1032.3 L913.7 1031.6 L914.2 1030.8 L914.6 1030.0 L915.0 1029.2 L915.4 1028.4 L915.8 1027.6 L916.2 1026.7 L916.6 1025.9 L917.0 1025.1 L917.3 1024.2 L917.7 1023.4 L918.0 1022.5 L918.4 1021.6 L918.7 1020.8 L919.0 1019.9 L919.4 1019.1 L919.7 1018.2 L920.0 1017.3 L920.3 1016.4 L920.6 1015.6 L920.9 1014.7 L921.2 1013.8 L921.5 1012.9 L921.8 1012.1 L922.1 1011.2 L922.4 1010.3 L922.7 1009.4 L923.0 1008.5 L923.3 1007.6 L923.5 1006.7 L923.8 1005.8 L924.0 1004.9 L924.3 1004.0 L924.5 1003.1 L924.8 1002.2 L925.0 1001.3 L925.3 1000.4 L925.5 999.5 L925.7 998.6 L925.9 997.7 L926.1 996.8 L926.3 995.9 L926.5 995.0 L926.7 994.1 L926.9 993.1 L927.1 992.2 L927.3 991.3 L927.5 990.4 L927.6 989.5 L927.8 988.6 L928.0 987.7 L928.1 986.8 L928.3 985.8 L928.5 984.9 L928.6 984.0 L928.7 983.1 L928.9 982.2 L929.0 981.3 L929.2 980.3 L929.3 979.4 L929.4 978.5 L929.5 977.6 L929.7 976.7 L929.8 975.7 L929.9 974.8 L930.0 973.9 L930.1 973.0 L930.2 972.1 L930.3 971.1 L930.4 970.2 L930.5 969.3 L930.6 968.4 L930.7 967.4 L930.8 966.5 L930.9 965.6 L931.0 964.7 L931.1 963.7 L931.1 962.8 L931.2 961.9 L931.3 961.0 L931.4 960.0 L931.4 959.1 L931.5 958.2 L931.6 957.2 L931.7 956.3 L931.7 955.4 L931.8 954.5 L931.9 953.5 L931.9 952.6 L932.0 951.7 L932.1 950.7 L932.1 949.8 L932.2 948.9 L932.3 948.0 L932.3 947.0 L932.4 946.1 L932.4 945.2 L932.5 944.2 L932.6 943.3 L932.6 942.4 L932.7 941.5 L932.7 940.5 L932.8 939.6 L932.9 938.7 L932.9 937.7 L933.0 936.8 L933.1 935.9 L933.1 935.0 L933.2 934.0 L933.2 933.1 L933.3 932.2 L933.4 931.3 L933.4 930.3 L933.5 929.4 L933.6 928.5 L933.7 927.5 L933.7 926.6 L933.8 925.7 L933.9 924.8 L934.0 923.8 L934.0 922.9 L934.1 922.0 L934.2 921.1 L934.3 920.1 L934.4 919.2 L934.4 918.3 L934.5 917.4 L934.6 916.4 L934.7 915.5 L934.8 914.6 L934.9 913.7 L935.0 912.8 L935.0 911.8 L935.1 910.9 L935.2 910.0 L935.3 909.1 L935.4 908.1 L935.5 907.2 L935.6 906.3 L935.7 905.4 L935.8 904.5 L935.9 903.5 L936.0 902.6 L936.1 901.7 L936.2 900.8 L936.3 899.8 L936.4 898.9 L936.5 898.0 L936.6 897.1 L936.7 896.2 L936.8 895.2 L936.9 894.3 L937.0 893.4 L937.1 892.5 L937.2 891.6 L937.3 890.6 L937.4 889.7 L937.6 888.8 L937.7 887.9 L937.8 887.0 L937.9 886.0 L938.0 885.1 L938.1 884.2 L938.2 883.3 L938.3 882.4 L938.4 881.4 L938.5 880.5 L938.6 879.6 L938.7 878.7 L938.9 877.8 L939.0 876.8 L939.1 875.9 L939.2 875.0 L939.3 874.1 L939.4 873.2 L939.5 872.2 L939.6 871.3 L939.7 870.4 L939.9 869.5 L940.0 868.5 L940.1 867.6 L940.2 866.7 L940.3 865.8 L940.4 864.9 L940.5 863.9 L940.6 863.0 L940.7 862.1 L940.8 861.2 L941.0 860.3 L941.1 859.3 L941.2 858.4 L941.3 857.5 L941.4 856.6 L941.5 855.7 L941.6 854.7 L941.7 853.8 L941.8 852.9 L941.9 852.0 L942.0 851.0 L942.1 850.1 L942.2 849.2 L942.3 848.3 L942.4 847.4 L942.5 846.4 L942.6 845.5 L942.7 844.6 L942.8 843.7 L942.9 842.7 L943.0 841.8 L943.1 840.9 L943.2 840.0 L943.3 839.0 L943.4 838.1 L943.5 837.2 L943.6 836.3 L943.7 835.3 L943.8 834.4 L943.9 833.5 L944.0 832.6 L944.1 831.6 L944.2 830.7 L944.3 829.8 L944.4 828.8 L944.4 827.9 L944.5 827.0 L944.6 826.1 L944.7 825.1 L944.8 824.2 L944.9 823.3 L944.9 822.4 L945.0 821.4 L945.1 820.5 L945.2 819.6 L945.3 818.6 L945.3 817.7 L945.4 816.8 L945.5 815.8 L945.6 814.9 L945.6 814.0 L945.7 813.1 L945.8 812.1 L945.9 811.2 L946.0 810.3 L946.0 809.3 L946.1 808.4 L946.2 807.5 L946.3 806.5 L946.4 805.6 L946.4 804.7 L946.5 803.8 L946.6 802.8 L946.7 801.9 L946.8 801.0 L946.9 800.0 L947.0 799.1 L947.0 798.2 L947.1 797.3 L947.2 796.3 L947.3 795.4 L947.4 794.5 L947.5 793.6 L947.6 792.6 L947.7 791.7 L947.8 790.8 L947.9 789.9 L948.1 788.9 L948.2 788.0 L948.3 787.1 L948.4 786.2 L948.5 785.2 L948.6 784.3 L948.8 783.4 L948.9 782.5 L949.0 781.6 L949.2 780.6 L949.3 779.7 L949.4 778.8 L949.6 777.9 L949.7 777.0 L949.9 776.1 L950.1 775.2 L950.2 774.2 L950.4 773.3 L950.5 772.4 L950.7 771.5 L950.9 770.6 L951.1 769.7 L951.3 768.8 L951.5 767.9 L951.6 767.0 L951.8 766.1 L952.0 765.2 L952.3 764.3 L952.5 763.4 L952.7 762.5 L952.9 761.6 L953.1 760.7 L953.4 759.8 L953.6 758.9 L953.9 758.0 L954.1 757.1 L954.4 756.2 L954.6 755.3 L954.9 754.4 L955.2 753.5 L955.4 752.6 L955.7 751.8 L956.0 750.9 L956.3 750.0 L956.6 749.1 L956.9 748.2 L957.2 747.3 L957.6 746.5 L957.9 745.6 L958.4 746.4 L958.8 747.2 L959.3 748.0 L959.7 748.8 L960.1 749.6 L960.5 750.4 L960.9 751.3 L961.3 752.1 L961.6 752.9 L962.0 753.8 L962.3 754.6 L962.6 755.5 L962.9 756.3 L963.2 757.2 L963.5 758.0 L963.8 758.9 L964.1 759.7 L964.3 760.6 L964.5 761.5 L964.8 762.3 L965.0 763.2 L965.2 764.1 L965.4 765.0 L965.6 765.9 L965.8 766.7 L966.0 767.6 L966.1 768.5 L966.3 769.4 L966.4 770.3 L966.6 771.2 L966.7 772.1 L966.9 773.0 L967.0 773.9 L967.1 774.8 L967.2 775.7 L967.4 776.6 L967.5 777.5 L967.6 778.5 L967.7 779.4 L967.8 780.3 L967.9 781.2 L968.0 782.1 L968.0 783.0 L968.1 783.9 L968.2 784.9 L968.3 785.8 L968.4 786.7 L968.5 787.6 L968.5 788.5 L968.6 789.4 L968.7 790.4 L968.8 791.3 L968.8 792.2 L968.9 793.1 L969.0 794.0 L969.1 794.9 L969.2 795.8 L969.2 796.8 L969.3 797.7 L969.4 798.6 L969.5 799.5 L969.6 800.4 L969.7 801.3 L969.7 802.2 L969.8 803.2 L969.9 804.1 L970.0 805.0 L970.1 805.9 L970.2 806.8 L970.3 807.7 L970.3 808.6 L970.4 809.5 L970.5 810.4 L970.6 811.4 L970.7 812.3 L970.8 813.2 L970.9 814.1 L971.0 815.0 L971.1 815.9 L971.2 816.8 L971.2 817.7 L971.3 818.6 L971.4 819.5 L971.5 820.4 L971.6 821.4 L971.7 822.3 L971.8 823.2 L971.9 824.1 L972.0 825.0 L972.1 825.9 L972.2 826.8 L972.3 827.7 L972.4 828.6 L972.5 829.5 L972.6 830.4 L972.7 831.3 L972.8 832.2 L972.8 833.1 L972.9 834.0 L973.0 835.0 L973.1 835.9 L973.2 836.8 L973.3 837.7 L973.4 838.6 L973.5 839.5 L973.6 840.4 L973.7 841.3 L973.8 842.2 L973.9 843.1 L974.0 844.0 L974.1 844.9 L974.2 845.8 L974.3 846.7 L974.4 847.6 L974.5 848.5 L974.6 849.4 L974.7 850.3 L974.8 851.2 L974.9 852.1 L975.0 853.0 L975.1 853.9 L975.2 854.8 L975.3 855.7 L975.4 856.6 L975.6 857.6 L975.7 858.5 L975.8 859.4 L975.9 860.3 L976.0 861.2 L976.1 862.1 L976.2 863.0 L976.3 863.9 L976.4 864.8 L976.5 865.7 L976.6 866.6 L976.7 867.5 L976.8 868.4 L976.9 869.3 L977.0 870.2 L977.1 871.1 L977.2 872.0 L977.3 872.9 L977.4 873.8 L977.5 874.7 L977.6 875.6 L977.7 876.5 L977.8 877.4 L977.9 878.3 L978.0 879.2 L978.2 880.1 L978.3 881.0 L978.4 881.9 L978.5 882.8 L978.6 883.7 L978.7 884.6 L978.8 885.6 L978.9 886.5 L979.0 887.4 L979.1 888.3 L979.2 889.2 L979.3 890.1 L979.4 891.0 L979.5 891.9 L979.6 892.8 L979.7 893.7 L979.8 894.6 L979.9 895.5 L980.0 896.4 L980.1 897.3 L980.2 898.2 L980.3 899.1 L980.4 900.0 L980.6 900.9 L980.7 901.8 L980.8 902.7 L980.9 903.6 L981.0 904.5 L981.1 905.4 L981.2 906.4 L981.3 907.3 L981.4 908.2 L981.5 909.1 L981.6 910.0 L981.7 910.9 L981.8 911.8 L981.9 912.7 L982.0 913.6 L982.1 914.5 L982.2 915.4 L982.3 916.3 L982.4 917.2 L982.5 918.1 L982.6 919.0 L982.7 919.9 L982.8 920.8 L982.9 921.7 L983.0 922.7 L983.1 923.6 L983.2 924.5 L983.3 925.4 L983.4 926.3 L983.5 927.2 L983.6 928.1 L983.6 929.0 L983.7 929.9 L983.8 930.8 L983.9 931.7 L984.0 932.6 L984.1 933.5 L984.2 934.4 L984.3 935.4 L984.4 936.3 L984.5 937.2 L984.6 938.1 L984.7 939.0 L984.8 939.9 L984.9 940.8 L984.9 941.7 L985.0 942.6 L985.1 943.5 L985.2 944.4 L985.3 945.3 L985.4 946.2 L985.5 947.2 L985.6 948.1 L985.6 949.0 L985.7 949.9 L985.8 950.8 L985.9 951.7 L986.0 952.6 L986.1 953.5 L986.1 954.4 L986.2 955.3 L986.3 956.2 L986.4 957.2 L986.5 958.1 L986.5 959.0 L986.6 959.9 L986.7 960.8 L986.8 961.7 L986.9 962.6 L986.9 963.5 L987.0 964.4 L987.1 965.3 L987.2 966.3 L987.2 967.2 L987.3 968.1 L987.4 969.0 L987.5 969.9 L987.5 970.8 L987.6 971.7 L987.7 972.6 L987.7 973.5 L987.8 974.4 L987.9 975.4 L988.0 976.3 L988.0 977.2 L988.1 978.1 L988.2 979.0 L988.2 979.9 L988.3 980.8 L988.4 981.7 L988.4 982.6 L988.5 983.6 L988.6 984.5 L988.6 985.4 L988.7 986.3 L988.8 987.2 L988.9 988.1 L988.9 989.0 L989.0 989.9 L989.1 990.8 L989.1 991.8 L989.2 992.7 L989.3 993.6 L989.3 994.5 L989.4 995.4 L989.5 996.3 L989.6 997.2 L989.6 998.1 L989.7 999.0 L989.8 999.9 L989.9 1000.9 L989.9 1001.8 L990.0 1002.7 L990.1 1003.6 L990.2 1004.5 L990.2 1005.4 L990.3 1006.3 L990.4 1007.2 L990.5 1008.1 L990.5 1009.0 L990.6 1010.0 L990.7 1010.9 L990.8 1011.8 L990.9 1012.7 L991.0 1013.6 L991.0 1014.5 L991.1 1015.4 L991.2 1016.3 L991.3 1017.2 L991.4 1018.1 L991.5 1019.0 L991.6 1019.9 L991.7 1020.8 L991.7 1021.8 L991.8 1022.7 L991.9 1023.6 L992.0 1024.5 L992.1 1025.4 L992.2 1026.3 L992.3 1027.2 L992.4 1028.1 L992.5 1029.0 L992.6 1029.9 L992.7 1030.8 L992.8 1031.7 L993.0 1032.6 L993.1 1033.5 L993.2 1034.4 L993.3 1035.3 L993.4 1036.2 L993.5 1037.1 L993.6 1038.0 L993.8 1038.9 L993.9 1039.8 L994.0 1040.7 L994.1 1041.6 L994.2 1042.5 L994.4 1043.4 L994.5 1044.3 L994.6 1045.2 L994.8 1046.1 L994.9 1047.0 L995.0 1047.9 L995.2 1048.8 L995.3 1049.7 L995.5 1050.6 L995.6 1051.5 L995.7 1052.4 L995.9 1053.3 L996.0 1054.2 L996.2 1055.1 L996.4 1056.0 L996.5 1056.9 L996.7 1057.8 L996.8 1058.7 L997.0 1059.6 L997.2 1060.5 L997.3 1061.4 L997.5 1062.3 L997.7 1063.1 L997.9 1064.0 L998.0 1064.9 L998.2 1065.8 L998.4 1066.7 L998.6 1067.6 L998.8 1068.5 L999.0 1069.4 L999.2 1070.3 L999.3 1071.2 L999.5 1072.0 L999.7 1072.9 L999.9 1073.8 L1000.2 1074.7 L1000.4 1075.6 L1000.6 1076.5 L1000.8 1077.4 L1001.0 1078.2 L1001.2 1079.1 L1001.5 1080.0 L1001.7 1080.9 L1001.9 1081.8 L1002.1 1082.6 L1002.4 1083.5 L1002.6 1084.4 L1002.9 1085.3 L1003.1 1086.2 L1003.4 1087.0 L1003.6 1087.9 L1003.9 1088.8 L1004.1 1089.7 L1004.4 1090.5 L1004.6 1091.4 L1004.9 1092.3 L1005.2 1093.2 L1005.5 1094.0 L1005.7 1094.9 L1006.0 1095.8 L1006.3 1096.6 L1006.6 1097.5 L1006.9 1098.4 L1007.2 1099.2 L1007.5 1100.1 L1007.8 1100.9 L1008.1 1101.8 L1008.4 1102.7 L1008.7 1103.5 L1009.0 1104.4 L1009.3 1105.2 L1009.7 1106.1 L1010.0 1106.9 L1010.3 1107.8 L1010.7 1108.6 L1011.0 1109.5 L1011.4 1110.3 L1011.7 1111.1 L1012.1 1112.0 L1012.4 1112.8 L1012.8 1113.6 L1013.1 1114.5 L1013.5 1115.3 L1013.9 1116.1 L1014.3 1117.0 L1014.6 1117.8 L1015.0 1118.6 L1015.4 1119.4 L1015.8 1120.3 L1016.2 1121.1 L1016.6 1121.9 L1017.0 1122.7 L1017.5 1123.5 L1017.9 1124.3 L1018.3 1125.1 L1018.7 1125.9 L1019.2 1126.7 L1019.6 1127.5 L1020.0 1128.3 L1020.5 1129.1 L1020.9 1129.9 L1021.4 1130.7 L1021.9 1131.5 L1022.3 1132.2 L1022.8 1133.0 L1023.3 1133.8 L1023.7 1134.6 L1024.2 1135.4 L1024.7 1136.1 L1025.2 1136.9 L1025.7 1137.6 L1026.2 1138.4 L1026.7 1139.2 L1027.2 1139.9 L1027.8 1140.7 L1028.3 1141.4 L1028.8 1142.2 L1029.3 1142.9 L1029.9 1143.7 L1030.4 1144.4 L1031.0 1145.1 L1031.5 1145.9 L1032.1 1146.6 L1032.6 1147.3 L1033.2 1148.0 L1033.8 1148.8 L1034.3 1149.5 L1034.9 1150.2 L1035.5 1150.9 L1036.1 1151.6 L1036.6 1152.3 L1037.2 1153.0 L1037.8 1153.7 L1038.4 1154.4 L1039.0 1155.1 L1039.6 1155.8 L1040.2 1156.5 L1040.8 1157.2 L1041.4 1157.8 L1042.1 1158.5 L1042.7 1159.2 L1043.3 1159.9 L1043.9 1160.5 L1044.5 1161.2 L1045.2 1161.9 L1045.8 1162.5 L1046.4 1163.2 L1047.1 1163.8 L1047.7 1164.5 L1048.4 1165.1 L1049.0 1165.8 L1049.7 1166.4 L1050.3 1167.1 L1051.0 1167.7 L1051.6 1168.3 L1052.3 1168.9 L1053.0 1169.6 L1053.6 1170.2 L1054.3 1170.8 L1055.0 1171.4 L1055.7 1172.0 L1056.4 1172.6 L1057.0 1173.2 L1057.7 1173.8 L1058.4 1174.4 L1059.1 1174.9 L1059.8 1175.5 L1060.6 1176.1 L1061.3 1176.6 L1062.0 1177.2 L1062.7 1177.7 L1063.5 1178.2 L1064.2 1178.8 L1064.9 1179.3 L1065.7 1179.8 L1066.4 1180.3 L1067.2 1180.8 L1068.0 1181.3 L1068.8 1181.8 L1069.5 1182.2 L1070.3 1182.7 L1071.1 1183.2 L1071.9 1183.6 L1072.7 1184.0 L1073.5 1184.5 L1074.3 1184.9 L1075.1 1185.3 L1075.9 1185.8 L1076.7 1186.2 L1077.6 1186.6 L1078.4 1187.0 L1079.2 1187.4 L1080.0 1187.7 L1080.9 1188.1 L1081.7 1188.5 L1082.6 1188.9 L1083.4 1189.2 L1084.2 1189.6 L1085.1 1190.0 L1085.9 1190.3 L1086.8 1190.7 L1087.6 1191.0 L1088.5 1191.3 L1089.3 1191.7 L1090.2 1192.0 L1091.0 1192.3 L1091.9 1192.6 L1092.8 1192.9 L1093.6 1193.2 L1094.5 1193.5 L1095.4 1193.8 L1096.2 1194.1 L1097.1 1194.3 L1098.0 1194.6 L1098.8 1194.9 L1099.7 1195.1 L1100.6 1195.4 L1101.5 1195.6 L1102.3 1195.8 L1103.2 1196.1 L1104.1 1196.3 L1105.0 1196.5 L1105.9 1196.7 L1106.8 1196.9 L1107.6 1197.1 L1108.5 1197.3 L1109.4 1197.5 L1110.3 1197.6 L1111.2 1197.8 L1112.1 1198.0 L1113.0 1198.2 L1113.9 1198.3 L1114.8 1198.5 L1115.7 1198.7 L1116.6 1198.8 L1117.5 1199.0 L1118.4 1199.1 L1119.3 1199.3 L1120.2 1199.4 L1121.1 1199.6 L1122.0 1199.7 L1122.9 1199.9 L1123.8 1200.0 L1124.7 1200.2 L1125.6 1200.3 L1126.5 1200.5 L1127.4 1200.6 L1128.3 1200.7 L1129.2 1200.9 L1130.1 1201.0 L1131.0 1201.2 L1131.9 1201.4 L1132.8 1201.5 L1133.7 1201.7 L1134.6 1201.8 L1135.5 1202.0 L1136.4 1202.2 L1137.2 1202.3 L1138.1 1202.5 L1139.0 1202.7 L1139.9 1202.8 L1140.8 1203.0 L1141.7 1203.2 L1142.6 1203.3 L1143.5 1203.5 L1144.4 1203.7 L1145.3 1203.8 L1146.2 1204.0 L1147.1 1204.1 L1148.0 1204.3 L1148.9 1204.4 L1149.8 1204.6 L1150.7 1204.7 L1151.6 1204.8 L1152.5 1205.0 L1153.4 1205.1 L1154.3 1205.2 L1155.2 1205.3 L1156.1 1205.4 L1157.0 1205.5 L1157.9 1205.6 L1158.8 1205.7 L1159.7 1205.8 L1160.7 1205.9 L1161.6 1205.9 L1162.5 1206.0 L1163.4 1206.1 L1164.3 1206.1 L1165.2 1206.2 L1166.1 1206.2 L1167.0 1206.3 L1167.9 1206.3 L1168.8 1206.3 L1169.7 1206.4 L1170.7 1206.4 L1171.6 1206.4 L1172.5 1206.4 L1173.4 1206.5 L1174.3 1206.5 L1175.2 1206.5 L1176.1 1206.5 L1177.0 1206.6 L1178.0 1206.6 L1178.9 1206.6 L1179.8 1206.6 L1180.7 1206.7 L1181.6 1206.7 L1182.5 1206.8 L1183.4 1206.8 L1184.3 1206.9 L1185.2 1207.0 L1186.1 1207.1 L1187.0 1207.2 L1187.9 1207.3 L1188.8 1207.4 L1189.7 1207.5 L1190.6 1207.6 L1191.5 1207.8 L1192.4 1207.9 L1193.3 1208.1 L1194.2 1208.2 L1195.1 1208.4 L1196.0 1208.6 L1196.9 1208.7 L1197.7 1208.9 L1198.6 1209.1 L1199.5 1209.3 L1200.4 1209.5 L1201.3 1209.8 L1202.2 1210.0 L1203.0 1210.2 L1203.9 1210.4 L1204.8 1210.7 L1205.7 1210.9 L1206.6 1211.1 L1207.4 1211.4 L1208.3 1211.6 L1209.2 1211.9 L1210.1 1212.1 L1211.0 1212.4 L1211.8 1212.6 L1212.7 1212.9 L1213.6 1213.1 L1214.5 1213.3 L1215.4 1213.6 L1216.2 1213.8 L1217.1 1214.1 L1218.0 1214.3 L1218.9 1214.5 L1219.8 1214.7 L1220.7 1214.9 L1221.5 1215.1 L1222.4 1215.3 L1223.3 1215.5 L1224.2 1215.7 L1225.1 1215.9 L1226.0 1216.1 L1226.9 1216.2 L1227.8 1216.4 L1228.7 1216.6 L1229.6 1216.7 L1230.5 1216.9 L1231.4 1217.0 L1232.3 1217.2 L1233.2 1217.3 L1234.1 1217.5 L1235.0 1217.6 L1235.9 1217.8 L1236.8 1217.9 L1237.7 1218.1 L1238.6 1218.2 L1239.5 1218.4 L1240.4 1218.5 L1241.3 1218.6 L1242.2 1218.8 L1243.1 1218.9 L1244.0 1219.1 L1244.9 1219.2 L1245.8 1219.3 L1246.7 1219.5 L1247.6 1219.6 L1248.5 1219.7 L1249.4 1219.9 L1250.3 1220.0 L1251.2 1220.1 L1252.1 1220.3 L1253.0 1220.4 L1253.9 1220.5 L1254.8 1220.7 L1255.7 1220.8 L1256.6 1220.9 L1257.5 1221.0 L1258.4 1221.1 L1259.3 1221.3 L1260.2 1221.4 L1261.1 1221.5 L1262.0 1221.6 L1262.9 1221.7 L1263.8 1221.8 L1264.7 1221.9 L1265.6 1222.0 L1266.6 1222.1 L1267.5 1222.2 L1268.4 1222.3 L1269.3 1222.4 L1270.2 1222.5 L1271.1 1222.6 L1272.0 1222.7 L1272.9 1222.8 L1273.8 1222.8 L1274.7 1222.9 L1275.6 1223.0 L1276.5 1223.1 L1277.4 1223.1 L1278.3 1223.2 L1279.3 1223.3 L1280.2 1223.3 L1281.1 1223.4 L1282.0 1223.5 L1282.9 1223.5 L1283.8 1223.6 L1284.7 1223.7 L1285.6 1223.7 L1286.5 1223.8 L1287.4 1223.8 L1288.3 1223.9 L1289.2 1223.9 L1290.2 1224.0 L1291.1 1224.0 L1292.0 1224.1 L1292.9 1224.2 L1293.8 1224.2 L1294.7 1224.3 L1295.6 1224.3 L1296.5 1224.4 L1297.4 1224.4 L1298.3 1224.5 L1299.2 1224.5 L1300.2 1224.6 L1301.1 1224.6 L1302.0 1224.7 L1302.9 1224.7 L1303.8 1224.8 L1304.7 1224.9 L1305.6 1224.9 L1306.5 1225.0 L1307.4 1225.0 L1308.3 1225.1 L1309.2 1225.2 L1310.2 1225.2 L1311.1 1225.3 L1312.0 1225.3 L1312.9 1225.4 L1313.8 1225.5 L1314.7 1225.5 L1315.6 1225.6 L1316.5 1225.7 L1317.4 1225.7 L1318.3 1225.8 L1319.3 1225.8 L1320.2 1225.9 L1321.1 1226.0 L1322.0 1226.0 L1322.9 1226.1 L1323.8 1226.1 L1324.7 1226.2 L1325.6 1226.3 L1326.5 1226.3 L1327.4 1226.4 L1328.3 1226.4 L1329.3 1226.5 L1330.2 1226.5 L1331.1 1226.6 L1332.0 1226.7 L1332.9 1226.7 L1333.8 1226.8 L1334.7 1226.8 L1335.6 1226.9 L1336.5 1226.9 L1337.4 1227.0 L1338.4 1227.0 L1339.3 1227.1 L1340.2 1227.1 L1341.1 1227.1 L1342.0 1227.2 L1342.9 1227.2 L1343.8 1227.3 L1344.7 1227.3 L1345.6 1227.3 L1346.5 1227.4 L1347.5 1227.4 L1348.4 1227.4 L1349.3 1227.5 L1350.2 1227.5 L1351.1 1227.5 L1352.0 1227.6 L1352.9 1227.6 L1353.8 1227.6 L1354.7 1227.6 L1355.6 1227.7 L1356.6 1227.7 L1357.5 1227.7 L1358.4 1227.7 L1359.3 1227.7 L1360.2 1227.7 L1361.1 1227.8 L1362.0 1227.8 L1362.9 1227.8 L1363.8 1227.8 L1364.8 1227.8 L1365.7 1227.8 L1366.6 1227.8 L1367.5 1227.8 L1368.4 1227.8 L1369.3 1227.9 L1370.2 1227.9 L1371.1 1227.9 L1372.0 1227.9 L1373.0 1227.9 L1373.9 1227.9 L1374.8 1227.9 L1375.7 1227.9 L1376.6 1227.9 L1377.5 1227.9 L1378.4 1227.9 L1379.3 1227.9 L1380.3 1227.9 L1381.2 1227.9 L1382.1 1227.9 L1383.0 1227.9 L1383.9 1227.9 L1384.8 1227.9 L1385.7 1227.9 L1386.6 1227.9 L1387.5 1227.8 L1388.5 1227.8 L1389.4 1227.8 L1390.3 1227.8 L1391.2 1227.8 L1392.1 1227.8 L1393.0 1227.8 L1393.9 1227.8 L1394.8 1227.8 L1395.7 1227.8 L1396.7 1227.8 L1397.6 1227.8 L1398.5 1227.8 L1399.4 1227.8 L1400.3 1227.8 L1401.2 1227.8 L1402.1 1227.7 L1403.0 1227.7 L1404.0 1227.7 L1404.9 1227.7 L1405.8 1227.7 L1406.7 1227.7 L1407.6 1227.7 L1408.5 1227.7 L1409.4 1227.7 L1410.3 1227.7 L1411.2 1227.7 L1412.2 1227.7 L1413.1 1227.7 L1414.0 1227.7 L1414.9 1227.7 L1415.8 1227.7 L1416.7 1227.7 L1417.6 1227.7 L1418.5 1227.6 L1419.4 1227.6 L1420.4 1227.6 L1421.3 1227.6 L1422.2 1227.6 L1423.1 1227.6 L1424.0 1227.6 L1424.9 1227.6 L1425.8 1227.6 L1426.7 1227.6 L1427.7 1227.6 L1428.6 1227.6 L1429.5 1227.6 L1430.4 1227.6 L1431.3 1227.6 L1432.2 1227.6 L1433.1 1227.6 L1434.0 1227.6 L1434.9 1227.6 L1435.9 1227.6 L1436.8 1227.6 L1437.7 1227.5 L1438.6 1227.5 L1439.5 1227.5 L1440.4 1227.5 L1441.3 1227.5 L1442.2 1227.5 L1443.1 1227.5 L1444.1 1227.5 L1445.0 1227.5 L1445.9 1227.5 L1446.8 1227.5 L1447.7 1227.5 L1448.6 1227.5 L1449.5 1227.5 L1450.4 1227.5 L1451.4 1227.5 L1452.3 1227.5 L1453.2 1227.5 L1454.1 1227.5 L1455.0 1227.5 L1455.9 1227.5 L1456.8 1227.5 L1457.7 1227.5 L1458.6 1227.5 L1459.6 1227.5 L1460.5 1227.5 L1461.4 1227.5 L1462.3 1227.5 L1463.2 1227.5 L1464.1 1227.5 L1465.0 1227.5 L1465.9 1227.4 L1466.8 1227.4 L1467.8 1227.4 L1468.7 1227.4 L1469.6 1227.4 L1470.5 1227.4 L1471.4 1227.4 L1472.3 1227.4 L1473.2 1227.4 L1474.1 1227.4 L1475.1 1227.4 L1476.0 1227.4 L1476.9 1227.4 L1477.8 1227.4 L1478.7 1227.4 L1479.6 1227.4 L1480.5 1227.4 L1481.4 1227.4 L1482.3 1227.4 L1483.3 1227.4 L1484.2 1227.4 L1485.1 1227.4 L1486.0 1227.4 L1486.9 1227.4 L1487.8 1227.4 L1488.7 1227.4 L1489.6 1227.4 L1490.5 1227.4 L1491.5 1227.4 L1492.4 1227.4 L1493.3 1227.4 L1494.2 1227.4 L1495.1 1227.4 L1496.0 1227.4 L1496.9 1227.4 L1497.8 1227.4 L1498.7 1227.4 L1499.7 1227.4 L1500.6 1227.4 L1501.5 1227.4 L1502.4 1227.4 L1503.3 1227.4 L1504.2 1227.4 L1505.1 1227.4 L1506.0 1227.4 L1507.0 1227.4 L1507.9 1227.4 L1508.8 1227.4 L1509.7 1227.4 L1510.6 1227.4 L1511.5 1227.4 L1512.4 1227.4 L1513.3 1227.4 L1514.2 1227.4 L1515.2 1227.4 L1516.1 1227.4 L1517.0 1227.4 L1517.9 1227.4 L1518.8 1227.4 L1519.7 1227.4 L1520.6 1227.4 L1521.5 1227.4 L1522.4 1227.4 L1523.4 1227.4 L1524.3 1227.4 L1525.2 1227.4 L1526.1 1227.4 L1527.0 1227.4 L1527.9 1227.4 L1528.8 1227.4 L1529.7 1227.4 L1530.6 1227.4 L1531.6 1227.4 L1532.5 1227.4 L1533.4 1227.4 L1534.3 1227.4 L1535.2 1227.4 L1536.1 1227.4 L1537.0 1227.4 L1537.9 1227.4 L1538.9 1227.4 L1539.8 1227.4 L1540.7 1227.4 L1541.6 1227.4 L1542.5 1227.4 L1543.4 1227.4 L1544.3 1227.4 L1545.2 1227.4 L1546.1 1227.4 L1547.1 1227.4 L1548.0 1227.4 L1548.9 1227.4 L1549.8 1227.4 L1550.7 1227.4 L1551.6 1227.4 L1552.5 1227.4 L1553.4 1227.4 L1554.3 1227.4 L1555.3 1227.4 L1556.2 1227.4 L1557.1 1227.4 L1558.0 1227.4 L1558.9 1227.4 L1559.8 1227.4 L1560.7 1227.4 L1561.6 1227.4 L1562.5 1227.4 L1563.5 1227.4 L1564.4 1227.4 L1565.3 1227.4 L1566.2 1227.4 L1567.1 1227.4 L1568.0 1227.4 L1568.9 1227.4 L1569.8 1227.4 L1570.7 1227.4 L1571.7 1227.4 L1572.6 1227.4 L1573.5 1227.4 L1574.4 1227.4 L1575.3 1227.4 L1576.2 1227.4 L1577.1 1227.4 L1578.0 1227.4 L1579.0 1227.4 L1579.9 1227.4 L1580.8 1227.4 L1581.7 1227.4 L1582.6 1227.4 L1583.5 1227.4 L1584.4 1227.4 L1585.3 1227.4 L1586.2 1227.4 L1587.2 1227.4 L1588.1 1227.4 L1589.0 1227.4 L1589.9 1227.4 L1590.8 1227.4 L1591.7 1227.4 L1592.6 1227.4 L1593.5 1227.4 L1594.4 1227.4 L1595.4 1227.4 L1596.3 1227.4 L1597.2 1227.4 L1598.1 1227.4 L1599.0 1227.4 L1599.9 1227.4 L1600.8 1227.4 L1601.7 1227.4 L1602.6 1227.4 L1603.6 1227.4 L1604.5 1227.4 L1605.4 1227.4 L1606.3 1227.4 L1607.2 1227.5 L1608.1 1227.5 L1609.0 1227.5 L1609.9 1227.5 L1610.8 1227.5 L1611.8 1227.5 L1612.7 1227.5 L1613.6 1227.5 L1614.5 1227.5 L1615.4 1227.5 L1616.3 1227.5 L1617.2 1227.5 L1618.1 1227.5 L1619.1 1227.5 L1620.0 1227.5 L1620.9 1227.5 L1621.8 1227.5 L1622.7 1227.5 L1623.6 1227.5 L1624.5 1227.5 L1625.4 1227.5 L1626.3 1227.5 L1627.3 1227.5 L1628.2 1227.5 L1629.1 1227.5 L1630.0 1227.5 L1630.9 1227.5 L1631.8 1227.5 L1632.7 1227.5 L1633.6 1227.5 L1634.5 1227.5 L1635.5 1227.5 L1636.4 1227.5 L1637.3 1227.5 L1638.2 1227.5 L1639.1 1227.5 L1640.0 1227.5 L1640.9 1227.5 L1641.8 1227.5 L1642.7 1227.5 L1643.7 1227.5 L1644.6 1227.5 L1645.5 1227.5 L1646.4 1227.5 L1647.3 1227.5 L1648.2 1227.5 L1649.1 1227.5 L1650.0 1227.5 L1650.9 1227.5 L1651.9 1227.5 L1652.8 1227.5 L1653.7 1227.5 L1654.6 1227.5 L1655.5 1227.5 L1656.4 1227.5 L1657.3 1227.5 L1658.2 1227.5 L1659.1 1227.5 L1660.1 1227.5 L1661.0 1227.5 L1661.9 1227.5 L1662.8 1227.5 L1663.7 1227.5 L1664.6 1227.5 L1665.5 1227.5 L1666.4 1227.6 L1667.4 1227.6 L1668.3 1227.6 L1669.2 1227.6 L1670.1 1227.6 L1671.0 1227.6 L1671.9 1227.6 L1672.8 1227.6 L1673.7 1227.6 L1674.6 1227.6 L1675.6 1227.6 L1676.5 1227.6 L1677.4 1227.6 L1678.3 1227.6 L1679.2 1227.6 L1680.1 1227.6 L1681.0 1227.6 L1681.9 1227.6 L1682.8 1227.6 L1683.8 1227.6 L1684.7 1227.6 L1685.6 1227.6 L1686.5 1227.6 L1687.4 1227.6 L1688.3 1227.6 L1689.2 1227.6 L1690.1 1227.6 L1691.0 1227.6 L1692.0 1227.6 L1692.9 1227.6 L1693.8 1227.6 L1694.7 1227.6 L1695.6 1227.6 L1696.5 1227.6 L1697.4 1227.6 L1698.3 1227.6 L1699.2 1227.6 L1700.2 1227.6 L1701.1 1227.6 L1702.0 1227.6 L1702.9 1227.6 L1703.8 1227.6 L1704.7 1227.6 L1705.6 1227.6 L1706.5 1227.6 L1707.5 1227.6 L1708.4 1227.6 L1709.3 1227.6 L1710.2 1227.6 L1711.1 1227.6 L1712.0 1227.6 L1712.9 1227.6 L1713.8 1227.6 L1714.7 1227.6 L1715.7 1227.6 L1716.6 1227.6 L1717.5 1227.6 L1718.4 1227.6 L1719.3 1227.6 L1720.2 1227.6 L1721.1 1227.6 L1722.0 1227.6 L1722.9 1227.6 L1723.9 1227.6 L1724.8 1227.6 L1725.7 1227.6 L1726.6 1227.6 L1727.5 1227.6 L1728.4 1227.6 L1729.3 1227.6 L1730.2 1227.6 L1731.1 1227.6 L1732.1 1227.6 L1733.0 1227.6 L1733.9 1227.6 L1734.8 1227.6 L1735.7 1227.6 L1736.6 1227.6 L1737.5 1227.6 L1738.4 1227.6 L1739.4 1227.6 L1740.3 1227.6 L1741.2 1227.6 L1742.1 1227.6 L1743.0 1227.6 L1743.9 1227.6 L1744.8 1227.6 L1745.7 1227.6 L1746.6 1227.6 L1747.6 1227.6 L1748.5 1227.6 L1749.4 1227.6 L1750.3 1227.6 L1751.2 1227.6 L1752.1 1227.6 L1753.0 1227.6 L1753.9 1227.6 L1754.8 1227.6 L1755.8 1227.6 L1756.7 1227.6 L1757.6 1227.6 L1758.5 1227.6 L1759.4 1227.6 L1760.3 1227.6 L1761.2 1227.6 L1762.1 1227.6 L1763.0 1227.6 L1764.0 1227.6 L1764.9 1227.6 L1765.8 1227.6 L1766.7 1227.6 L1767.6 1227.6 L1768.5 1227.6 L1769.4 1227.6 L1770.3 1227.6 L1771.3 1227.6 L1772.2 1227.6 L1773.1 1227.6 L1774.0 1227.6 L1774.9 1227.6 L1775.8 1227.6 L1776.7 1227.6 L1777.6 1227.6 L1778.5 1227.6 L1779.5 1227.6 L1780.4 1227.6 L1781.3 1227.6 L1782.2 1227.6 L1783.1 1227.6 L1784.0 1227.6 L1784.9 1227.6 L1785.8 1227.6 L1786.7 1227.6 L1787.7 1227.6 L1788.6 1227.6 L1789.5 1227.6 L1790.4 1227.5 L1791.3 1227.5 L1792.2 1227.5 L1793.1 1227.5 L1794.0 1227.5 L1794.9 1227.5 L1795.9 1227.5 L1796.8 1227.5 L1797.7 1227.5 L1798.6 1227.5 L1799.5 1227.5 L1800.4 1227.5 L1801.3 1227.5 L1802.2 1227.5 L1803.2 1227.5 L1804.1 1227.5 L1805.0 1227.5 L1805.9 1227.5 L1806.8 1227.5 L1807.7 1227.5 L1808.6 1227.5 L1809.5 1227.5 L1810.4 1227.5 L1811.4 1227.5 L1812.3 1227.5 L1813.2 1227.5 L1814.1 1227.5 L1815.0 1227.5"/>
<path stroke="#008000" d="M80.0 1226.9 L81.1 1226.9 L82.2 1226.8 L83.3 1226.8 L84.4 1226.8 L85.5 1226.7 L86.6 1226.7 L87.7 1226.7 L88.8 1226.7 L90.0 1226.7 L91.1 1226.7 L92.2 1226.7 L93.3 1226.7 L94.4 1226.7 L95.5 1226.7 L96.6 1226.7 L97.7 1226.7 L98.8 1226.7 L99.9 1226.7 L101.0 1226.8 L102.1 1226.8 L103.2 1226.8 L104.3 1226.8 L105.4 1226.8 L106.6 1226.9 L107.7 1226.9 L108.8 1226.9 L109.9 1226.9 L111.0 1227.0 L112.1 1227.0 L113.2 1227.0 L114.3 1227.0 L115.4 1227.1 L116.5 1227.1 L117.6 1227.1 L118.7 1227.1 L119.8 1227.1 L120.9 1227.1 L122.0 1227.2 L123.1 1227.2 L124.2 1227.2 L125.4 1227.2 L126.5 1227.2 L127.6 1227.2 L128.7 1227.2 L129.8 1227.2 L130.9 1227.1 L132.0 1227.1 L133.1 1227.1 L134.2 1227.1 L135.3 1227.0 L136.4 1227.0 L137.5 1226.9 L138.6 1226.9 L139.7 1226.8 L140.8 1226.8 L141.9 1226.7 L143.0 1226.6 L144.1 1226.5 L145.2 1226.5 L146.3 1226.4 L147.4 1226.2 L148.5 1226.1 L149.6 1226.0 L150.7 1225.9 L151.8 1225.7 L152.9 1225.6 L154.0 1225.4 L155.1 1225.3 L156.2 1225.1 L157.3 1225.0 L158.4 1224.8 L159.5 1224.7 L160.6 1224.5 L161.7 1224.4 L162.8 1224.3 L163.9 1224.2 L165.0 1224.2 L166.1 1224.1 L167.2 1224.1 L168.3 1224.1 L169.4 1224.1 L170.4 1224.2 L171.5 1224.3 L172.6 1224.4 L173.7 1224.6 L174.8 1224.8 L175.9 1225.0 L177.0 1225.3 L178.0 1225.6 L179.1 1225.8 L180.2 1226.1 L181.3 1226.4 L182.4 1226.7 L183.5 1227.0 L184.5 1227.2 L185.6 1227.5 L186.7 1227.7 L187.8 1227.9 L188.9 1228.0 L190.0 1228.2 L191.1 1228.2 L192.2 1228.3 L193.3 1228.3 L194.4 1228.3 L195.5 1228.3 L196.6 1228.2 L197.7 1228.1 L198.8 1228.0 L199.9 1227.9 L201.0 1227.8 L202.1 1227.7 L203.2 1227.6 L204.3 1227.5 L205.4 1227.4 L206.5 1227.3 L207.7 1227.2 L208.8 1227.1 L209.9 1227.1 L211.0 1227.0 L212.1 1226.9 L213.2 1226.9 L214.3 1226.8 L215.4 1226.8 L216.5 1226.8 L217.6 1226.7 L218.7 1226.7 L219.8 1226.7 L220.9 1226.6 L222.1 1226.6 L223.2 1226.6 L224.3 1226.6 L225.4 1226.6 L226.5 1226.6 L227.6 1226.6 L228.7 1226.5 L229.8 1226.5 L230.9 1226.5 L232.0 1226.5 L233.1 1226.5 L234.2 1226.5 L235.3 1226.5 L236.4 1226.5 L237.6 1226.5 L238.7 1226.5 L239.8 1226.5 L240.9 1226.5 L242.0 1226.6 L243.1 1226.6 L244.2 1226.6 L245.3 1226.6 L246.4 1226.6 L247.5 1226.6 L248.6 1226.6 L249.7 1226.6 L250.8 1226.6 L251.9 1226.7 L253.0 1226.7 L254.1 1226.7 L255.2 1226.7 L256.3 1226.7 L257.5 1226.7 L258.6 1226.8 L259.7 1226.8 L260.8 1226.8 L261.9 1226.8 L263.0 1226.8 L264.1 1226.9 L265.2 1226.9 L266.3 1226.9 L267.4 1226.9 L268.5 1226.9 L269.6 1227.0 L270.7 1227.0 L271.8 1227.0 L272.9 1227.0 L274.0 1227.1 L275.1 1227.1 L276.2 1227.1 L277.3 1227.1 L278.4 1227.1 L279.5 1227.2 L280.7 1227.2 L281.8 1227.2 L282.9 1227.2 L284.0 1227.2 L285.1 1227.3 L286.2 1227.3 L287.3 1227.3 L288.4 1227.3 L289.5 1227.3 L290.6 1227.3 L291.7 1227.3 L292.8 1227.4 L293.9 1227.4 L295.0 1227.4 L296.1 1227.4 L297.2 1227.4 L298.3 1227.4 L299.4 1227.4 L300.5 1227.4 L301.6 1227.4 L302.8 1227.4 L303.9 1227.4 L305.0 1227.5 L306.1 1227.5 L307.2 1227.5 L308.3 1227.5 L309.4 1227.5 L310.5 1227.4 L311.6 1227.4 L312.7 1227.4 L313.8 1227.4 L314.9 1227.4 L316.0 1227.4 L317.1 1227.4 L318.2 1227.4 L319.3 1227.4 L320.5 1227.3 L321.6 1227.3 L322.7 1227.3 L323.8 1227.3 L324.9 1227.3 L326.0 1227.2 L327.1 1227.2 L328.2 1227.2 L329.3 1227.1 L330.4 1227.1 L331.5 1227.1 L332.6 1227.0 L333.7 1227.0 L334.8 1226.9 L336.0 1226.9 L337.1 1226.8 L338.2 1226.8 L339.3 1226.7 L340.4 1226.7 L341.5 1226.6 L342.6 1226.6 L343.7 1226.5 L344.8 1226.4 L345.9 1226.3 L347.0 1226.3 L348.1 1226.2 L349.2 1226.1 L350.3 1226.0 L351.4 1225.9 L352.5 1225.8 L353.6 1225.7 L354.7 1225.6 L355.8 1225.4 L356.9 1225.3 L358.0 1225.2 L359.1 1225.1 L360.2 1224.9 L361.3 1224.8 L362.4 1224.6 L363.5 1224.4 L364.6 1224.3 L365.7 1224.1 L366.8 1223.9 L367.9 1223.7 L368.9 1223.5 L370.0 1223.3 L371.1 1223.1 L372.2 1222.9 L373.3 1222.6 L374.3 1222.4 L375.4 1222.2 L376.5 1221.9 L377.6 1221.6 L378.6 1221.4 L379.7 1221.1 L380.7 1220.8 L381.8 1220.5 L382.9 1220.2 L383.9 1219.9 L385.0 1219.5 L386.0 1219.2 L387.1 1218.8 L388.1 1218.5 L389.2 1218.1 L390.2 1217.7 L391.2 1217.3 L392.3 1216.9 L393.3 1216.5 L394.3 1216.1 L395.4 1215.6 L396.4 1215.2 L397.4 1214.7 L398.4 1214.3 L399.5 1213.8 L400.5 1213.3 L401.5 1212.9 L402.6 1212.5 L403.6 1212.2 L404.6 1211.8 L405.7 1211.5 L406.8 1211.2 L407.8 1210.9 L408.9 1210.6 L410.0 1210.4 L411.0 1210.1 L412.1 1209.9 L413.2 1209.7 L414.3 1209.4 L415.4 1209.2 L416.5 1209.0 L417.5 1208.8 L418.6 1208.6 L419.7 1208.3 L420.8 1208.1 L421.9 1207.9 L423.0 1207.7 L424.1 1207.5 L425.1 1207.2 L426.2 1207.0 L427.3 1206.8 L428.4 1206.6 L429.5 1206.3 L430.6 1206.1 L431.7 1205.8 L432.7 1205.6 L433.8 1205.4 L434.9 1205.1 L436.0 1204.8 L437.1 1204.6 L438.1 1204.3 L439.2 1204.1 L440.3 1203.8 L441.3 1203.5 L442.4 1203.2 L443.5 1202.9 L444.6 1202.6 L445.6 1202.3 L446.7 1202.0 L447.7 1201.7 L448.8 1201.4 L449.9 1201.1 L450.9 1200.7 L452.0 1200.4 L453.0 1200.0 L454.1 1199.7 L455.1 1199.3 L456.2 1198.9 L457.2 1198.5 L458.2 1198.1 L459.3 1197.7 L460.3 1197.3 L461.3 1196.9 L462.3 1196.5 L463.3 1196.0 L464.3 1195.5 L465.3 1195.1 L466.3 1194.6 L467.3 1194.1 L468.3 1193.6 L469.2 1193.1 L470.2 1192.5 L471.1 1192.0 L472.1 1191.4 L473.0 1190.8 L473.9 1190.2 L474.8 1189.6 L475.7 1189.0 L476.6 1188.3 L477.5 1187.7 L478.4 1187.0 L479.2 1186.3 L480.1 1185.6 L480.9 1184.9 L481.7 1184.1 L482.6 1183.4 L483.4 1182.6 L484.2 1181.9 L485.0 1181.1 L485.8 1180.3 L486.6 1179.6 L487.4 1178.8 L488.2 1178.0 L489.0 1177.2 L489.8 1176.4 L490.6 1175.7 L491.4 1174.9 L492.2 1174.1 L493.0 1173.3 L493.8 1172.6 L494.6 1171.8 L495.4 1171.0 L496.2 1170.3 L497.1 1169.6 L497.9 1168.8 L498.7 1168.1 L499.6 1167.4 L500.4 1166.7 L501.2 1166.0 L502.1 1165.3 L502.9 1164.6 L503.8 1163.8 L504.6 1163.1 L505.5 1162.4 L506.3 1161.7 L507.2 1161.0 L508.0 1160.3 L508.9 1159.6 L509.7 1158.9 L510.6 1158.2 L511.4 1157.5 L512.3 1156.8 L513.1 1156.1 L514.0 1155.4 L514.8 1154.7 L515.7 1154.0 L516.5 1153.3 L517.4 1152.6 L518.3 1151.9 L519.1 1151.2 L520.0 1150.5 L520.9 1149.8 L521.8 1149.2 L522.7 1148.5 L523.6 1147.9 L524.5 1147.3 L525.4 1146.7 L526.4 1146.2 L527.3 1145.6 L528.3 1145.1 L529.2 1144.6 L530.2 1144.1 L531.2 1143.6 L532.2 1143.2 L533.2 1142.8 L534.3 1142.4 L535.3 1142.0 L536.3 1141.6 L537.4 1141.2 L538.4 1140.9 L539.5 1140.6 L540.5 1140.2 L541.6 1139.9 L542.7 1139.5 L543.7 1139.2 L544.8 1138.9 L545.9 1138.6 L546.9 1138.2 L548.0 1137.9 L549.0 1137.5 L550.1 1137.2 L551.2 1136.8 L552.2 1136.5 L553.2 1136.1 L554.3 1135.7 L555.3 1135.2 L556.3 1134.8 L557.3 1134.4 L558.3 1133.9 L559.3 1133.4 L560.3 1132.9 L561.3 1132.4 L562.3 1131.9 L563.2 1131.3 L564.2 1130.8 L565.1 1130.2 L566.1 1129.6 L567.0 1129.0 L567.9 1128.4 L568.8 1127.7 L569.7 1127.1 L570.6 1126.4 L571.5 1125.7 L572.4 1125.0 L573.2 1124.3 L574.1 1123.6 L574.9 1122.9 L575.7 1122.1 L576.6 1121.4 L577.4 1120.7 L578.2 1119.9 L579.1 1119.2 L579.9 1118.5 L580.8 1117.8 L581.7 1117.1 L582.6 1116.5 L583.5 1115.9 L584.4 1115.3 L585.4 1114.8 L586.4 1114.3 L587.4 1113.9 L588.5 1113.5 L589.5 1113.1 L590.6 1112.8 L591.7 1112.5 L592.8 1112.3 L593.9 1112.1 L595.0 1111.9 L596.1 1111.8 L597.2 1111.6 L598.3 1111.6 L599.4 1111.5 L600.5 1111.4 L601.6 1111.4 L602.7 1111.4 L603.8 1111.5 L604.9 1111.5 L606.0 1111.6 L607.0 1111.7 L608.1 1111.8 L609.2 1112.0 L610.3 1112.1 L611.4 1112.3 L612.4 1112.5 L613.5 1112.7 L614.6 1112.9 L615.6 1113.2 L616.7 1113.4 L617.8 1113.7 L618.8 1114.0 L619.9 1114.3 L621.0 1114.6 L622.0 1115.0 L623.1 1115.3 L624.1 1115.7 L625.2 1116.0 L626.2 1116.4 L627.3 1116.8 L628.3 1117.2 L629.4 1117.6 L630.4 1118.0 L631.5 1118.4 L632.5 1118.8 L633.6 1119.3 L634.6 1119.7 L635.7 1120.1 L636.7 1120.5 L637.7 1121.0 L638.8 1121.4 L639.8 1121.8 L640.9 1122.3 L641.9 1122.7 L642.9 1123.2 L644.0 1123.6 L645.0 1124.0 L646.0 1124.4 L647.1 1124.9 L648.1 1125.3 L649.1 1125.7 L650.1 1126.1 L651.2 1126.4 L652.2 1126.8 L653.3 1127.1 L654.3 1127.4 L655.3 1127.7 L656.4 1127.9 L657.5 1128.1 L658.5 1128.2 L659.6 1128.3 L660.7 1128.4 L661.8 1128.4 L662.9 1128.4 L664.0 1128.4 L665.1 1128.3 L666.2 1128.2 L667.3 1128.1 L668.4 1128.0 L669.6 1127.9 L670.7 1127.9 L671.8 1127.8 L672.9 1127.7 L674.0 1127.7 L675.1 1127.6 L676.3 1127.6 L677.4 1127.6 L678.5 1127.6 L679.6 1127.6 L680.7 1127.6 L681.8 1127.6 L682.9 1127.7 L684.0 1127.8 L685.1 1127.9 L686.2 1128.0 L687.3 1128.2 L688.4 1128.3 L689.5 1128.5 L690.5 1128.7 L691.6 1128.9 L692.7 1129.2 L693.7 1129.5 L694.8 1129.8 L695.8 1130.1 L696.9 1130.4 L697.9 1130.8 L699.0 1131.2 L700.0 1131.6 L701.0 1132.0 L702.1 1132.5 L703.1 1132.9 L704.1 1133.3 L705.2 1133.7 L706.2 1134.1 L707.2 1134.5 L708.3 1134.9 L709.3 1135.3 L710.4 1135.6 L711.5 1135.9 L712.5 1136.1 L713.6 1136.3 L714.7 1136.5 L715.8 1136.7 L716.9 1136.8 L718.0 1136.9 L719.1 1136.9 L720.2 1137.0 L721.3 1137.0 L722.4 1137.0 L723.5 1137.0 L724.6 1137.0 L725.8 1137.0 L726.9 1137.0 L728.0 1137.0 L729.1 1137.0 L730.2 1137.0 L731.3 1136.9 L732.4 1136.9 L733.5 1136.9 L734.6 1136.9 L735.7 1136.9 L736.9 1136.9 L738.0 1136.9 L739.1 1136.9 L740.2 1137.0 L741.3 1137.1 L742.4 1137.1 L743.5 1137.2 L744.6 1137.3 L745.6 1137.5 L746.7 1137.6 L747.8 1137.8 L748.9 1138.0 L750.0 1138.3 L751.1 1138.5 L752.2 1138.7 L753.3 1138.9 L754.4 1139.1 L755.4 1139.3 L756.5 1139.4 L757.6 1139.5 L758.7 1139.5 L759.9 1139.5 L761.0 1139.5 L762.1 1139.5 L763.2 1139.5 L764.3 1139.4 L765.4 1139.4 L766.5 1139.4 L767.6 1139.3 L768.7 1139.3 L769.8 1139.3 L770.9 1139.3 L772.1 1139.3 L773.2 1139.4 L774.3 1139.4 L775.4 1139.5 L776.4 1139.5 L777.5 1139.6 L778.6 1139.7 L779.7 1139.8 L780.8 1139.9 L781.9 1140.0 L783.0 1140.2 L784.1 1140.3 L785.2 1140.4 L786.3 1140.6 L787.4 1140.7 L788.5 1140.9 L789.6 1141.0 L790.7 1141.2 L791.8 1141.4 L792.9 1141.5 L794.0 1141.7 L795.1 1141.8 L796.2 1141.9 L797.3 1142.1 L798.4 1142.1 L799.5 1142.2 L800.6 1142.3 L801.7 1142.3 L802.8 1142.3 L803.9 1142.2 L805.0 1142.2 L806.1 1142.1 L807.2 1142.0 L808.3 1141.9 L809.4 1141.8 L810.5 1141.7 L811.6 1141.5 L812.7 1141.4 L813.8 1141.2 L814.9 1141.1 L816.0 1140.9 L817.1 1140.7 L818.2 1140.5 L819.3 1140.3 L820.4 1140.1 L821.5 1139.9 L822.6 1139.7 L823.7 1139.5 L824.8 1139.3 L825.9 1139.1 L826.9 1138.8 L827.9 1138.6 L828.9 1138.3 L829.9 1137.9 L830.8 1137.6 L831.7 1137.3 L832.6 1137.1 L833.6 1137.0 L834.6 1137.1 L835.6 1137.2 L836.6 1137.4 L837.7 1137.6 L838.8 1137.9 L839.9 1138.2 L841.0 1138.5 L842.1 1138.8 L843.3 1139.1 L844.5 1139.4 L845.6 1139.6 L846.8 1139.7 L848.0 1139.8 L849.2 1139.9 L850.4 1139.8 L851.5 1139.7 L852.6 1139.5 L853.6 1139.3 L854.6 1138.9 L855.5 1138.4 L856.4 1137.8 L857.2 1137.2 L857.9 1136.4 L858.6 1135.6 L859.3 1134.7 L859.9 1133.8 L860.4 1132.8 L861.0 1131.8 L861.5 1130.8 L862.0 1129.7 L862.5 1128.7 L863.0 1127.6 L863.4 1126.6 L863.9 1125.6 L864.4 1124.5 L864.8 1123.5 L865.2 1122.5 L865.7 1121.4 L866.1 1120.4 L866.5 1119.4 L866.9 1118.3 L867.3 1117.3 L867.7 1116.3 L868.1 1115.3 L868.5 1114.2 L868.9 1113.2 L869.3 1112.2 L869.6 1111.1 L870.0 1110.1 L870.4 1109.1 L870.7 1108.0 L871.1 1107.0 L871.4 1106.0 L871.8 1104.9 L872.2 1103.9 L872.5 1102.8 L872.9 1101.8 L873.2 1100.8 L873.6 1099.7 L873.9 1098.7 L874.3 1097.6 L874.6 1096.6 L875.0 1095.5 L875.3 1094.5 L875.7 1093.4 L876.1 1092.4 L876.4 1091.3 L876.8 1090.3 L877.2 1089.2 L877.6 1088.2 L878.0 1087.2 L878.4 1086.1 L878.8 1085.1 L879.2 1084.1 L879.7 1083.1 L880.1 1082.1 L880.6 1081.1 L881.1 1080.1 L881.6 1079.1 L882.1 1078.1 L882.6 1077.1 L883.1 1076.1 L883.7 1075.2 L884.2 1074.2 L884.8 1073.3 L885.4 1072.4 L886.1 1071.5 L886.7 1070.6 L887.4 1069.7 L888.0 1068.8 L888.7 1067.9 L889.4 1067.0 L890.1 1066.2 L890.7 1065.3 L891.4 1064.4 L892.1 1063.5 L892.8 1062.7 L893.5 1061.8 L894.2 1060.9 L894.9 1060.1 L895.6 1059.2 L896.2 1058.3 L896.9 1057.4 L897.5 1056.5 L898.1 1055.6 L898.8 1054.7 L899.4 1053.7 L899.9 1052.8 L900.5 1051.9 L901.1 1050.9 L901.6 1050.0 L902.1 1049.0 L902.6 1048.0 L903.1 1047.1 L903.6 1046.1 L904.1 1045.1 L904.6 1044.1 L905.0 1043.1 L905.5 1042.1 L905.9 1041.1 L906.4 1040.1 L906.8 1039.0 L907.2 1038.0 L907.6 1037.0 L908.0 1036.0 L908.4 1034.9 L908.8 1033.9 L909.2 1032.9 L909.6 1031.8 L910.0 1030.8 L910.4 1029.8 L910.8 1028.7 L911.1 1027.7 L911.5 1026.6 L911.9 1025.6 L912.2 1024.6 L912.6 1023.5 L912.9 1022.5 L913.3 1021.4 L913.6 1020.4 L914.0 1019.3 L914.3 1018.2 L914.6 1017.2 L915.0 1016.1 L915.3 1015.1 L915.6 1014.0 L916.0 1013.0 L916.3 1011.9 L916.6 1010.8 L916.9 1009.8 L917.2 1008.7 L917.5 1007.6 L917.8 1006.6 L918.1 1005.5 L918.4 1004.4 L918.7 1003.4 L919.0 1002.3 L919.3 1001.2 L919.6 1000.1 L919.9 999.1 L920.1 998.0 L920.4 996.9 L920.7 995.8 L921.0 994.8 L921.2 993.7 L921.5 992.6 L921.8 991.5 L922.0 990.5 L922.3 989.4 L922.5 988.3 L922.8 987.2 L923.0 986.1 L923.3 985.0 L923.5 984.0 L923.8 982.9 L924.0 981.8 L924.3 980.7 L924.5 979.6 L924.8 978.5 L925.0 977.5 L925.2 976.4 L925.5 975.3 L925.7 974.2 L925.9 973.1 L926.1 972.0 L926.4 970.9 L926.6 969.9 L926.8 968.8 L927.0 967.7 L927.2 966.6 L927.4 965.5 L927.7 964.4 L927.9 963.3 L928.1 962.3 L928.3 961.2 L928.5 960.1 L928.7 959.0 L928.9 957.9 L929.1 956.8 L929.3 955.8 L929.5 954.7 L929.7 953.6 L929.9 952.5 L930.1 951.4 L930.3 950.3 L930.5 949.3 L930.7 948.2 L930.9 947.1 L931.1 946.0 L931.3 944.9 L931.5 943.9 L931.7 942.8 L931.9 941.7 L932.1 940.6 L932.3 939.5 L932.4 938.5 L932.6 937.4 L932.8 936.3 L933.0 935.2 L933.2 934.2 L933.4 933.1 L933.6 932.0 L933.8 930.9 L934.0 929.8 L934.2 928.8 L934.3 927.7 L934.5 926.6 L934.7 925.5 L934.9 924.5 L935.1 923.4 L935.3 922.3 L935.5 921.2 L935.7 920.2 L935.9 919.1 L936.1 918.0 L936.3 916.9 L936.5 915.8 L936.7 914.8 L936.9 913.7 L937.1 912.6 L937.3 911.5 L937.5 910.4 L937.7 909.4 L937.9 908.3 L938.2 907.2 L938.4 906.1 L938.6 905.0 L938.8 903.9 L939.0 902.8 L939.3 901.7 L939.5 900.7 L939.7 899.6 L940.0 898.5 L940.2 897.4 L940.4 896.3 L940.7 895.2 L940.9 894.1 L941.2 893.0 L941.4 891.9 L941.7 890.8 L941.9 889.7 L942.2 888.6 L942.5 887.5 L942.7 886.4 L943.0 885.2 L943.3 884.1 L943.6 883.0 L943.8 881.9 L944.1 880.8 L944.4 879.7 L944.7 878.5 L945.0 877.4 L945.3 876.3 L945.6 875.2 L945.9 874.1 L946.3 873.0 L946.7 871.9 L947.1 870.9 L947.5 869.9 L948.0 868.9 L948.6 868.1 L949.3 867.2 L950.0 866.5 L950.8 865.9 L951.7 865.3 L952.7 864.9 L953.7 864.6 L954.8 864.4 L955.9 864.4 L956.9 864.6 L957.9 864.9 L958.8 865.5 L959.5 866.3 L960.2 867.2 L960.8 868.1 L961.4 869.2 L961.9 870.2 L962.4 871.2 L962.8 872.3 L963.2 873.3 L963.6 874.4 L964.0 875.4 L964.4 876.5 L964.8 877.6 L965.1 878.6 L965.5 879.7 L965.9 880.7 L966.2 881.8 L966.6 882.8 L966.9 883.9 L967.3 884.9 L967.6 886.0 L967.9 887.1 L968.3 888.1 L968.6 889.2 L968.9 890.2 L969.2 891.3 L969.6 892.3 L969.9 893.4 L970.2 894.5 L970.5 895.5 L970.8 896.6 L971.1 897.6 L971.4 898.7 L971.7 899.8 L972.0 900.8 L972.3 901.9 L972.5 902.9 L972.8 904.0 L973.1 905.1 L973.4 906.1 L973.6 907.2 L973.9 908.3 L974.2 909.3 L974.4 910.4 L974.7 911.5 L974.9 912.5 L975.2 913.6 L975.4 914.7 L975.7 915.8 L975.9 916.8 L976.1 917.9 L976.4 919.0 L976.6 920.1 L976.8 921.1 L977.1 922.2 L977.3 923.3 L977.5 924.4 L977.7 925.5 L977.9 926.5 L978.1 927.6 L978.3 928.7 L978.6 929.8 L978.8 930.9 L979.0 932.0 L979.2 933.0 L979.4 934.1 L979.6 935.2 L979.7 936.3 L979.9 937.4 L980.1 938.5 L980.3 939.6 L980.5 940.7 L980.7 941.7 L980.9 942.8 L981.0 943.9 L981.2 945.0 L981.4 946.1 L981.6 947.2 L981.7 948.3 L981.9 949.4 L982.1 950.5 L982.2 951.6 L982.4 952.7 L982.6 953.8 L982.7 954.9 L982.9 956.0 L983.1 957.1 L983.2 958.2 L983.4 959.3 L983.5 960.3 L983.7 961.4 L983.8 962.5 L984.0 963.6 L984.2 964.7 L984.3 965.8 L984.5 966.9 L984.6 968.0 L984.8 969.1 L984.9 970.2 L985.1 971.3 L985.2 972.4 L985.4 973.5 L985.5 974.6 L985.6 975.7 L985.8 976.8 L985.9 977.9 L986.1 979.0 L986.2 980.1 L986.4 981.2 L986.5 982.3 L986.7 983.4 L986.8 984.5 L987.0 985.6 L987.1 986.7 L987.2 987.8 L987.4 988.9 L987.5 990.0 L987.7 991.1 L987.8 992.2 L988.0 993.3 L988.1 994.4 L988.3 995.5 L988.4 996.6 L988.6 997.7 L988.7 998.8 L988.9 999.9 L989.0 1001.0 L989.2 1002.1 L989.3 1003.2 L989.5 1004.3 L989.6 1005.4 L989.8 1006.5 L989.9 1007.6 L990.1 1008.7 L990.3 1009.8 L990.4 1010.9 L990.6 1012.0 L990.7 1013.1 L990.9 1014.2 L991.1 1015.3 L991.2 1016.4 L991.4 1017.5 L991.6 1018.6 L991.7 1019.6 L991.9 1020.7 L992.1 1021.8 L992.3 1022.9 L992.4 1024.0 L992.6 1025.1 L992.8 1026.2 L993.0 1027.3 L993.2 1028.4 L993.4 1029.5 L993.5 1030.6 L993.7 1031.6 L993.9 1032.7 L994.1 1033.8 L994.3 1034.9 L994.5 1036.0 L994.7 1037.1 L994.9 1038.2 L995.1 1039.3 L995.3 1040.3 L995.5 1041.4 L995.8 1042.5 L996.0 1043.6 L996.2 1044.7 L996.4 1045.8 L996.6 1046.8 L996.9 1047.9 L997.1 1049.0 L997.3 1050.1 L997.6 1051.2 L997.8 1052.2 L998.0 1053.3 L998.3 1054.4 L998.5 1055.5 L998.8 1056.5 L999.0 1057.6 L999.3 1058.7 L999.6 1059.8 L999.8 1060.8 L1000.1 1061.9 L1000.4 1063.0 L1000.6 1064.0 L1000.9 1065.1 L1001.2 1066.2 L1001.5 1067.3 L1001.8 1068.3 L1002.1 1069.4 L1002.4 1070.4 L1002.7 1071.5 L1003.0 1072.6 L1003.3 1073.6 L1003.6 1074.7 L1003.9 1075.8 L1004.2 1076.8 L1004.5 1077.9 L1004.9 1078.9 L1005.2 1080.0 L1005.5 1081.0 L1005.9 1082.1 L1006.2 1083.1 L1006.6 1084.2 L1006.9 1085.2 L1007.3 1086.3 L1007.6 1087.3 L1008.0 1088.4 L1008.3 1089.4 L1008.7 1090.5 L1009.1 1091.5 L1009.5 1092.5 L1009.8 1093.6 L1010.2 1094.6 L1010.6 1095.6 L1011.0 1096.7 L1011.4 1097.7 L1011.8 1098.7 L1012.2 1099.8 L1012.6 1100.8 L1013.0 1101.8 L1013.4 1102.8 L1013.9 1103.8 L1014.3 1104.9 L1014.7 1105.9 L1015.1 1106.9 L1015.6 1107.9 L1016.0 1108.9 L1016.5 1109.9 L1016.9 1110.9 L1017.4 1111.9 L1017.8 1112.9 L1018.3 1113.9 L1018.8 1114.9 L1019.2 1115.9 L1019.7 1116.9 L1020.2 1117.9 L1020.7 1118.9 L1021.2 1119.9 L1021.7 1120.9 L1022.2 1121.9 L1022.7 1122.9 L1023.2 1123.9 L1023.7 1124.8 L1024.2 1125.8 L1024.7 1126.8 L1025.3 1127.8 L1025.8 1128.7 L1026.3 1129.7 L1026.9 1130.7 L1027.4 1131.6 L1028.0 1132.6 L1028.5 1133.5 L1029.1 1134.5 L1029.6 1135.4 L1030.2 1136.4 L1030.8 1137.3 L1031.4 1138.3 L1031.9 1139.2 L1032.5 1140.2 L1033.1 1141.1 L1033.7 1142.0 L1034.3 1143.0 L1034.9 1143.9 L1035.6 1144.8 L1036.2 1145.7 L1036.8 1146.7 L1037.4 1147.6 L1038.1 1148.5 L1038.7 1149.4 L1039.3 1150.3 L1040.0 1151.2 L1040.6 1152.1 L1041.3 1153.0 L1042.0 1153.9 L1042.6 1154.8 L1043.3 1155.7 L1044.0 1156.6 L1044.7 1157.4 L1045.4 1158.3 L1046.1 1159.2 L1046.8 1160.0 L1047.5 1160.9 L1048.2 1161.7 L1048.9 1162.6 L1049.6 1163.4 L1050.4 1164.2 L1051.1 1165.1 L1051.9 1165.9 L1052.6 1166.7 L1053.4 1167.5 L1054.1 1168.3 L1054.9 1169.0 L1055.7 1169.8 L1056.5 1170.6 L1057.3 1171.4 L1058.1 1172.1 L1058.9 1172.9 L1059.7 1173.6 L1060.5 1174.4 L1061.3 1175.1 L1062.1 1175.9 L1062.9 1176.6 L1063.7 1177.4 L1064.6 1178.1 L1065.4 1178.8 L1066.2 1179.6 L1067.0 1180.3 L1067.9 1181.0 L1068.7 1181.8 L1069.5 1182.5 L1070.4 1183.2 L1071.2 1183.9 L1072.1 1184.7 L1072.9 1185.4 L1073.8 1186.1 L1074.6 1186.8 L1075.5 1187.6 L1076.3 1188.3 L1077.2 1189.0 L1078.1 1189.7 L1078.9 1190.4 L1079.8 1191.1 L1080.7 1191.7 L1081.6 1192.4 L1082.4 1193.1 L1083.3 1193.7 L1084.2 1194.4 L1085.1 1195.0 L1086.1 1195.6 L1087.0 1196.2 L1087.9 1196.8 L1088.8 1197.4 L1089.8 1198.0 L1090.7 1198.5 L1091.7 1199.1 L1092.6 1199.6 L1093.6 1200.1 L1094.6 1200.6 L1095.5 1201.1 L1096.5 1201.5 L1097.5 1201.9 L1098.5 1202.4 L1099.6 1202.8 L1100.6 1203.1 L1101.6 1203.5 L1102.7 1203.9 L1103.7 1204.2 L1104.8 1204.5 L1105.8 1204.9 L1106.9 1205.2 L1107.9 1205.5 L1109.0 1205.8 L1110.1 1206.0 L1111.2 1206.3 L1112.3 1206.6 L1113.3 1206.9 L1114.4 1207.1 L1115.5 1207.4 L1116.6 1207.6 L1117.7 1207.9 L1118.8 1208.1 L1119.9 1208.4 L1121.0 1208.7 L1122.1 1208.9 L1123.2 1209.2 L1124.2 1209.5 L1125.3 1209.7 L1126.4 1210.0 L1127.5 1210.3 L1128.6 1210.6 L1129.6 1210.9 L1130.7 1211.2 L1131.8 1211.5 L1132.8 1211.9 L1133.9 1212.2 L1135.0 1212.6 L1136.0 1212.9 L1137.0 1213.3 L1138.1 1213.7 L1139.1 1214.1 L1140.1 1214.5 L1141.2 1214.9 L1142.2 1215.3 L1143.2 1215.7 L1144.3 1216.0 L1145.3 1216.4 L1146.4 1216.7 L1147.4 1217.0 L1148.5 1217.3 L1149.5 1217.5 L1150.6 1217.8 L1151.7 1217.9 L1152.7 1218.1 L1153.8 1218.2 L1154.9 1218.3 L1156.0 1218.4 L1157.1 1218.4 L1158.3 1218.4 L1159.4 1218.5 L1160.5 1218.5 L1161.6 1218.5 L1162.7 1218.5 L1163.9 1218.5 L1165.0 1218.5 L1166.1 1218.5 L1167.2 1218.6 L1168.3 1218.6 L1169.4 1218.7 L1170.5 1218.8 L1171.6 1218.9 L1172.7 1219.1 L1173.8 1219.2 L1174.9 1219.4 L1176.0 1219.6 L1177.1 1219.8 L1178.2 1220.1 L1179.2 1220.3 L1180.3 1220.6 L1181.4 1220.8 L1182.5 1221.1 L1183.5 1221.4 L1184.6 1221.7 L1185.7 1222.0 L1186.7 1222.3 L1187.8 1222.6 L1188.9 1222.9 L1189.9 1223.3 L1191.0 1223.6 L1192.1 1223.9 L1193.2 1224.2 L1194.2 1224.5 L1195.3 1224.7 L1196.4 1225.0 L1197.5 1225.3 L1198.5 1225.5 L1199.6 1225.7 L1200.7 1225.9 L1201.8 1226.1 L1202.9 1226.3 L1204.0 1226.4 L1205.1 1226.6 L1206.2 1226.7 L1207.3 1226.8 L1208.4 1226.9 L1209.5 1227.0 L1210.6 1227.1 L1211.7 1227.1 L1212.8 1227.2 L1213.9 1227.3 L1215.0 1227.3 L1216.1 1227.4 L1217.2 1227.4 L1218.3 1227.5 L1219.4 1227.5 L1220.5 1227.5 L1221.6 1227.6 L1222.7 1227.6 L1223.8 1227.6 L1224.9 1227.7 L1226.0 1227.7 L1227.1 1227.7 L1228.2 1227.7 L1229.3 1227.7 L1230.4 1227.7 L1231.5 1227.8 L1232.6 1227.8 L1233.7 1227.8 L1234.9 1227.8 L1236.0 1227.8 L1237.1 1227.8 L1238.2 1227.8 L1239.3 1227.8 L1240.4 1227.7 L1241.5 1227.7 L1242.6 1227.7 L1243.7 1227.7 L1244.8 1227.7 L1245.9 1227.7 L1247.0 1227.7 L1248.1 1227.7 L1249.2 1227.7 L1250.3 1227.6 L1251.5 1227.6 L1252.6 1227.6 L1253.7 1227.6 L1254.8 1227.6 L1255.9 1227.6 L1257.0 1227.6 L1258.1 1227.5 L1259.2 1227.5 L1260.3 1227.5 L1261.4 1227.5 L1262.5 1227.5 L1263.6 1227.5 L1264.7 1227.5 L1265.8 1227.5 L1266.9 1227.5 L1268.1 1227.4 L1269.2 1227.4 L1270.3 1227.4 L1271.4 1227.4 L1272.5 1227.4 L1273.6 1227.4 L1274.7 1227.4 L1275.8 1227.4 L1276.9 1227.4 L1278.0 1227.4 L1279.1 1227.4 L1280.2 1227.4 L1281.3 1227.4 L1282.4 1227.4 L1283.5 1227.4 L1284.6 1227.4 L1285.8 1227.4 L1286.9 1227.4 L1288.0 1227.4 L1289.1 1227.4 L1290.2 1227.4 L1291.3 1227.4 L1292.4 1227.4 L1293.5 1227.4 L1294.6 1227.4 L1295.7 1227.4 L1296.8 1227.4 L1297.9 1227.4 L1299.0 1227.4 L1300.1 1227.4 L1301.2 1227.4 L1302.3 1227.4 L1303.4 1227.4 L1304.6 1227.4 L1305.7 1227.4 L1306.8 1227.4 L1307.9 1227.4 L1309.0 1227.4 L1310.1 1227.4 L1311.2 1227.4 L1312.3 1227.4 L1313.4 1227.4 L1314.5 1227.4 L1315.6 1227.4 L1316.7 1227.4 L1317.8 1227.4 L1318.9 1227.4 L1320.0 1227.4 L1321.1 1227.5 L1322.2 1227.5 L1323.4 1227.5 L1324.5 1227.5 L1325.6 1227.5 L1326.7 1227.5 L1327.8 1227.5 L1328.9 1227.5 L1330.0 1227.5 L1331.1 1227.5 L1332.2 1227.5 L1333.3 1227.5 L1334.4 1227.5 L1335.5 1227.5 L1336.6 1227.5 L1337.7 1227.5 L1338.8 1227.5 L1339.9 1227.5 L1341.1 1227.5 L1342.2 1227.5 L1343.3 1227.5 L1344.4 1227.5 L1345.5 1227.5 L1346.6 1227.5 L1347.7 1227.5 L1348.8 1227.5 L1349.9 1227.5 L1351.0 1227.5 L1352.1 1227.5 L1353.2 1227.5 L1354.3 1227.5 L1355.4 1227.5 L1356.5 1227.5 L1357.6 1227.5 L1358.7 1227.5 L1359.9 1227.5 L1361.0 1227.5 L1362.1 1227.5 L1363.2 1227.5 L1364.3 1227.5 L1365.4 1227.5 L1366.5 1227.5 L1367.6 1227.5 L1368.7 1227.5 L1369.8 1227.5 L1370.9 1227.5 L1372.0 1227.5 L1373.1 1227.5 L1374.2 1227.5 L1375.3 1227.5 L1376.4 1227.5 L1377.5 1227.5 L1378.7 1227.5 L1379.8 1227.5 L1380.9 1227.5 L1382.0 1227.5 L1383.1 1227.5 L1384.2 1227.5 L1385.3 1227.5 L1386.4 1227.5 L1387.5 1227.5 L1388.6 1227.5 L1389.7 1227.5 L1390.8 1227.5 L1391.9 1227.5 L1393.0 1227.5 L1394.1 1227.5 L1395.2 1227.5 L1396.4 1227.5 L1397.5 1227.5 L1398.6 1227.5 L1399.7 1227.5 L1400.8 1227.5 L1401.9 1227.5 L1403.0 1227.5 L1404.1 1227.5 L1405.2 1227.5 L1406.3 1227.5 L1407.4 1227.5 L1408.5 1227.5 L1409.6 1227.5 L1410.7 1227.5 L1411.8 1227.5 L1412.9 1227.5 L1414.0 1227.5 L1415.2 1227.5 L1416.3 1227.5 L1417.4 1227.5 L1418.5 1227.5 L1419.6 1227.5 L1420.7 1227.5 L1421.8 1227.5 L1422.9 1227.5 L1424.0 1227.5 L1425.1 1227.5 L1426.2 1227.5 L1427.3 1227.5 L1428.4 1227.5 L1429.5 1227.5 L1430.6 1227.5 L1431.7 1227.5 L1432.9 1227.5 L1434.0 1227.5 L1435.1 1227.5 L1436.2 1227.5 L1437.3 1227.5 L1438.4 1227.5 L1439.5 1227.5 L1440.6 1227.5 L1441.7 1227.5 L1442.8 1227.5 L1443.9 1227.5 L1445.0 1227.5 L1446.1 1227.5 L1447.2 1227.5 L1448.3 1227.5 L1449.4 1227.5 L1450.5 1227.5 L1451.7 1227.5 L1452.8 1227.5 L1453.9 1227.5 L1455.0 1227.5 L1456.1 1227.5 L1457.2 1227.5 L1458.3 1227.5 L1459.4 1227.5 L1460.5 1227.5 L1461.6 1227.5 L1462.7 1227.5 L1463.8 1227.5 L1464.9 1227.5 L1466.0 1227.5 L1467.1 1227.5 L1468.2 1227.5 L1469.4 1227.5 L1470.5 1227.5 L1471.6 1227.5 L1472.7 1227.5 L1473.8 1227.5 L1474.9 1227.5 L1476.0 1227.5 L1477.1 1227.5 L1478.2 1227.5 L1479.3 1227.5 L1480.4 1227.5 L1481.5 1227.5 L1482.6 1227.5 L1483.7 1227.5 L1484.8 1227.5 L1485.9 1227.5 L1487.0 1227.5 L1488.2 1227.5 L1489.3 1227.5 L1490.4 1227.5 L1491.5 1227.5 L1492.6 1227.5 L1493.7 1227.5 L1494.8 1227.5 L1495.9 1227.5 L1497.0 1227.5 L1498.1 1227.5 L1499.2 1227.5 L1500.3 1227.5 L1501.4 1227.5 L1502.5 1227.5 L1503.6 1227.5 L1504.7 1227.5 L1505.9 1227.5 L1507.0 1227.5 L1508.1 1227.5 L1509.2 1227.5 L1510.3 1227.5 L1511.4 1227.5 L1512.5 1227.5 L1513.6 1227.5 L1514.7 1227.5 L1515.8 1227.5 L1516.9 1227.5 L1518.0 1227.5 L1519.1 1227.5 L1520.2 1227.5 L1521.3 1227.5 L1522.4 1227.5 L1523.5 1227.5 L1524.7 1227.5 L1525.8 1227.5 L1526.9 1227.5 L1528.0 1227.5 L1529.1 1227.5 L1530.2 1227.5 L1531.3 1227.5 L1532.4 1227.5 L1533.5 1227.5 L1534.6 1227.5 L1535.7 1227.5 L1536.8 1227.5 L1537.9 1227.5 L1539.0 1227.5 L1540.1 1227.5 L1541.2 1227.5 L1542.4 1227.5 L1543.5 1227.5 L1544.6 1227.5 L1545.7 1227.5 L1546.8 1227.5 L1547.9 1227.5 L1549.0 1227.5 L1550.1 1227.5 L1551.2 1227.5 L1552.3 1227.5 L1553.4 1227.5 L1554.5 1227.5 L1555.6 1227.5 L1556.7 1227.5 L1557.8 1227.5 L1558.9 1227.5 L1560.1 1227.5 L1561.2 1227.5 L1562.3 1227.5 L1563.4 1227.5 L1564.5 1227.5 L1565.6 1227.5 L1566.7 1227.5 L1567.8 1227.5 L1568.9 1227.5 L1570.0 1227.5 L1571.1 1227.5 L1572.2 1227.5 L1573.3 1227.5 L1574.4 1227.5 L1575.5 1227.5 L1576.6 1227.5 L1577.7 1227.5 L1578.9 1227.5 L1580.0 1227.5 L1581.1 1227.5 L1582.2 1227.5 L1583.3 1227.5 L1584.4 1227.5 L1585.5 1227.5 L1586.6 1227.5 L1587.7 1227.5 L1588.8 1227.5 L1589.9 1227.5 L1591.0 1227.5 L1592.1 1227.5 L1593.2 1227.5 L1594.3 1227.5 L1595.4 1227.5 L1596.6 1227.5 L1597.7 1227.5 L1598.8 1227.5 L1599.9 1227.5 L1601.0 1227.5 L1602.1 1227.5 L1603.2 1227.5 L1604.3 1227.5 L1605.4 1227.5 L1606.5 1227.5 L1607.6 1227.5 L1608.7 1227.5 L1609.8 1227.5 L1610.9 1227.5 L1612.0 1227.5 L1613.1 1227.5 L1614.2 1227.5 L1615.4 1227.5 L1616.5 1227.5 L1617.6 1227.5 L1618.7 1227.5 L1619.8 1227.5 L1620.9 1227.5 L1622.0 1227.5 L1623.1 1227.5 L1624.2 1227.5 L1625.3 1227.5 L1626.4 1227.5 L1627.5 1227.5 L1628.6 1227.5 L1629.7 1227.5 L1630.8 1227.5 L1631.9 1227.5 L1633.1 1227.5 L1634.2 1227.5 L1635.3 1227.5 L1636.4 1227.5 L1637.5 1227.5 L1638.6 1227.5 L1639.7 1227.5 L1640.8 1227.5 L1641.9 1227.5 L1643.0 1227.5 L1644.1 1227.5 L1645.2 1227.5 L1646.3 1227.5 L1647.4 1227.5 L1648.5 1227.5 L1649.6 1227.5 L1650.7 1227.5 L1651.9 1227.5 L1653.0 1227.5 L1654.1 1227.5 L1655.2 1227.5 L1656.3 1227.5 L1657.4 1227.5 L1658.5 1227.5 L1659.6 1227.5 L1660.7 1227.5 L1661.8 1227.5 L1662.9 1227.5 L1664.0 1227.5 L1665.1 1227.5 L1666.2 1227.5 L1667.3 1227.5 L1668.4 1227.5 L1669.6 1227.5 L1670.7 1227.5 L1671.8 1227.5 L1672.9 1227.5 L1674.0 1227.5 L1675.1 1227.5 L1676.2 1227.5 L1677.3 1227.5 L1678.4 1227.5 L1679.5 1227.5 L1680.6 1227.5 L1681.7 1227.5 L1682.8 1227.5 L1683.9 1227.5 L1685.0 1227.5 L1686.1 1227.5 L1687.3 1227.5 L1688.4 1227.5 L1689.5 1227.5 L1690.6 1227.5 L1691.7 1227.5 L1692.8 1227.5 L1693.9 1227.5 L1695.0 1227.5 L1696.1 1227.5 L1697.2 1227.5 L1698.3 1227.5 L1699.4 1227.5 L1700.5 1227.5 L1701.6 1227.5 L1702.7 1227.5 L1703.8 1227.5 L1704.9 1227.5 L1706.1 1227.5 L1707.2 1227.5 L1708.3 1227.5 L1709.4 1227.5 L1710.5 1227.5 L1711.6 1227.5 L1712.7 1227.5 L1713.8 1227.5 L1714.9 1227.5 L1716.0 1227.5 L1717.1 1227.5 L1718.2 1227.5 L1719.3 1227.5 L1720.4 1227.5 L1721.5 1227.5 L1722.6 1227.5 L1723.8 1227.5 L1724.9 1227.5 L1726.0 1227.5 L1727.1 1227.5 L1728.2 1227.5 L1729.3 1227.5 L1730.4 1227.5 L1731.5 1227.5 L1732.6 1227.5 L1733.7 1227.5 L1734.8 1227.5 L1735.9 1227.5 L1737.0 1227.5 L1738.1 1227.5 L1739.2 1227.5 L1740.3 1227.5 L1741.4 1227.5 L1742.6 1227.5 L1743.7 1227.5 L1744.8 1227.5 L1745.9 1227.5 L1747.0 1227.5 L1748.1 1227.5 L1749.2 1227.5 L1750.3 1227.5 L1751.4 1227.5 L1752.5 1227.5 L1753.6 1227.5 L1754.7 1227.5 L1755.8 1227.5 L1756.9 1227.5 L1758.0 1227.5 L1759.1 1227.5 L1760.3 1227.5 L1761.4 1227.5 L1762.5 1227.5 L1763.6 1227.5 L1764.7 1227.5 L1765.8 1227.5 L1766.9 1227.5 L1768.0 1227.5 L1769.1 1227.5 L1770.2 1227.5 L1771.3 1227.5 L1772.4 1227.5 L1773.5 1227.5 L1774.6 1227.5 L1775.7 1227.5 L1776.8 1227.5 L1777.9 1227.5 L1779.1 1227.5 L1780.2 1227.5 L1781.3 1227.5 L1782.4 1227.5 L1783.5 1227.5 L1784.6 1227.5 L1785.7 1227.5 L1786.8 1227.5 L1787.9 1227.5 L1789.0 1227.5 L1790.1 1227.5 L1791.2 1227.5 L1792.3 1227.5 L1793.4 1227.5 L1794.5 1227.5 L1795.6 1227.5 L1796.8 1227.5 L1797.9 1227.5 L1799.0 1227.5 L1800.1 1227.5 L1801.2 1227.5 L1802.3 1227.5 L1803.4 1227.5 L1804.5 1227.5 L1805.6 1227.5 L1806.7 1227.5 L1807.8 1227.5 L1808.9 1227.5 L1810.0 1227.5 L1811.1 1227.5 L1812.2 1227.5 L1813.3 1227.5 L1814.4 1227.5 L1815.0 1227.5"/>
</g>
<g stroke="#000">
<line x1="956.9" y1="341.7" x2="956.9" y2="1260" stroke="#bcbcbc" stroke-width="2.4" stroke-dasharray="4 21.32"/>
<line x1="959.1" y1="339.4" x2="959.1" y2="1260" stroke-opacity="0.62" stroke-width="2" stroke-dasharray="8.4 16.92"/>
<line x1="960.3" y1="341.2" x2="960.3" y2="1260" stroke-width="4.6" stroke-dasharray="4.7 20.62"/>
</g>
<g stroke="#000" fill="none">
<line x1="146.5" y1="24.5" x2="146.5" y2="1288.5" stroke-width="5"/>
<line x1="1805.3" y1="27" x2="1805.3" y2="1288.5" stroke-width="2.6" stroke="#7d7d7d"/>
<line x1="1807.85" y1="24.6" x2="1807.85" y2="1288.7" stroke-width="2.9"/>
<line x1="1810.05" y1="24.6" x2="1810.05" y2="1288.7" stroke-width="1.7" stroke="#2e2e2e"/>
<line x1="144" y1="27" x2="1809.3" y2="27" stroke-width="4.4"/>
<line x1="146.3" y1="22.8" x2="1808.8" y2="22.8" stroke-width="1.6" stroke="#b4b4b4"/>
<line x1="146.3" y1="24.2" x2="1808.8" y2="24.2" stroke-width="1.6" stroke="#7c7c7c"/>
<line x1="144" y1="1263" x2="1809.3" y2="1263" stroke-width="4.6"/>
<line x1="149" y1="1259.5" x2="1805" y2="1259.5" stroke-width="2.4" stroke="#e6e6e6"/>
<line x1="480.0" y1="1263" x2="480.0" y2="1288.7" stroke-width="4.5"/>
<line x1="811.1" y1="1263" x2="811.1" y2="1288.7" stroke-width="4.5"/>
<line x1="1143.7" y1="1263" x2="1143.7" y2="1288.7" stroke-width="4.5"/>
<line x1="1475.4" y1="1263" x2="1475.4" y2="1288.7" stroke-width="4.5"/>
<line x1="314.4" y1="1263" x2="314.4" y2="1276.8" stroke-width="4.7"/>
<line x1="645.5" y1="1263" x2="645.5" y2="1276.8" stroke-width="4.7"/>
<line x1="978.1" y1="1263" x2="978.1" y2="1276.8" stroke-width="4.7"/>
<line x1="1309.8" y1="1263" x2="1309.8" y2="1276.8" stroke-width="4.7"/>
<line x1="1641.3" y1="1263" x2="1641.3" y2="1276.8" stroke-width="4.7"/>
</g>
<g font-size="46" text-anchor="middle">
<text x="146.5" y="1339">850</text>
<text x="480.0" y="1339">900</text>
<text x="811.1" y="1339">950</text>
<text x="1143.7" y="1339">1000</text>
<text x="1475.4" y="1339">1050</text>
<text x="1808.4" y="1339">1100</text>
</g>
<text x="976.5" y="1434.5" font-size="58" text-anchor="middle">Wavelegth (nm)</text>
<text transform="translate(73.8 680.5) rotate(-90)" font-size="58" letter-spacing="0.28" text-anchor="middle">Relative intensity</text>
<text x="972.5" y="317.4" font-size="58" text-anchor="middle">972 nm</text>
<line x1="1391" y1="250.3" x2="1527" y2="250.3" stroke="#000" stroke-width="5"/>
<text x="1542.5" y="269.5" font-size="58" letter-spacing="-0.5" fill="#000">x=0.1</text>
<line x1="1391" y1="324.0" x2="1527" y2="324.0" stroke="#ff0000" stroke-width="5"/>
<text x="1542.5" y="343.2" font-size="58" letter-spacing="-0.5" fill="#ff0000">x=0.3</text>
<line x1="1391" y1="397.3" x2="1527" y2="397.3" stroke="#0000ff" stroke-width="5"/>
<text x="1542.5" y="416.5" font-size="58" letter-spacing="-0.5" fill="#0000ff">x=0.5</text>
<line x1="1391" y1="470.5" x2="1527" y2="470.5" stroke="#ff00ff" stroke-width="5"/>
<text x="1542.5" y="489.7" font-size="58" letter-spacing="-0.5" fill="#ff00ff">x=0.7</text>
<line x1="1391" y1="543.9" x2="1527" y2="543.9" stroke="#008000" stroke-width="5"/>
<text x="1542.5" y="563.1" font-size="58" letter-spacing="-0.5" fill="#008000">x=0.9</text>
</svg></body></html>
